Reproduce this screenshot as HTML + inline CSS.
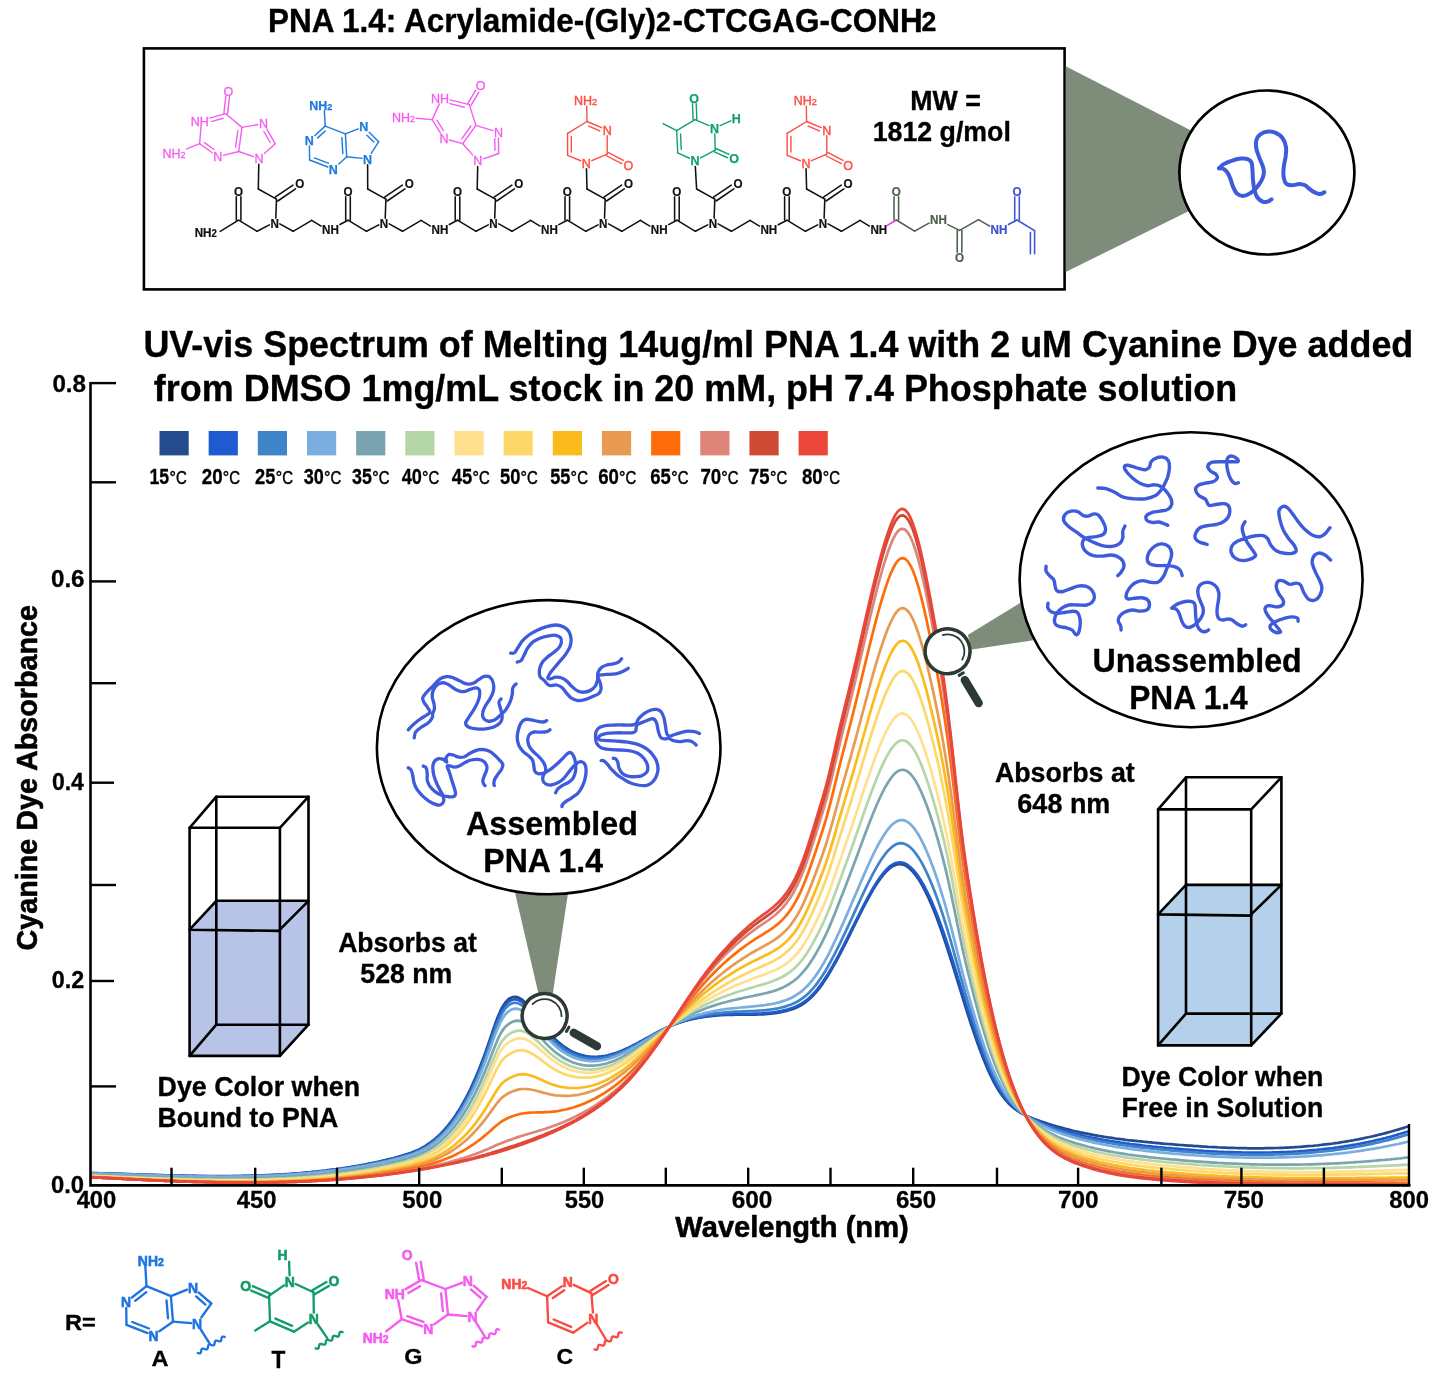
<!DOCTYPE html>
<html lang="en"><head><meta charset="utf-8"><title>PNA 1.4 UV-vis melting spectrum</title>
<style>
html,body{margin:0;padding:0;background:#fff;}
body{width:1440px;height:1380px;overflow:hidden;font-family:"Liberation Sans",Arial,Helvetica,sans-serif;}
svg{display:block;}
</style></head><body>
<svg width="1440" height="1380" viewBox="0 0 1440 1380" font-family='"Liberation Sans", Arial, Helvetica, sans-serif' font-weight="bold">
<rect width="1440" height="1380" fill="#fff"/>
<!-- structure box -->
<rect x="143.9" y="48.4" width="920.7" height="241.0" fill="#fff" stroke="#000" stroke-width="2.6"/>
<text x="267.95" y="31.50" font-size="32.79" font-weight="bold" textLength="388.08" lengthAdjust="spacingAndGlyphs" fill="#000" stroke="#000" stroke-width="0.35" stroke-linejoin="round">PNA 1.4: Acrylamide-(Gly)</text>
<text x="655.97" y="31.40" font-size="27.75" font-weight="bold" textLength="14.83" lengthAdjust="spacingAndGlyphs" fill="#000" stroke="#000" stroke-width="0.35" stroke-linejoin="round">2</text>
<text x="672.49" y="31.50" font-size="32.78" font-weight="bold" textLength="250.17" lengthAdjust="spacingAndGlyphs" fill="#000" stroke="#000" stroke-width="0.35" stroke-linejoin="round">-CTCGAG-CONH</text>
<text x="921.47" y="31.40" font-size="27.75" font-weight="bold" textLength="14.83" lengthAdjust="spacingAndGlyphs" fill="#000" stroke="#000" stroke-width="0.35" stroke-linejoin="round">2</text>
<text x="910.26" y="109.80" font-size="27.83" font-weight="bold" textLength="70.57" lengthAdjust="spacingAndGlyphs" fill="#000" stroke="#000" stroke-width="0.35" stroke-linejoin="round">MW =</text>
<text x="872.70" y="141.10" font-size="27.81" font-weight="bold" textLength="138.15" lengthAdjust="spacingAndGlyphs" fill="#000" stroke="#000" stroke-width="0.35" stroke-linejoin="round">1812 g/mol</text>
<text x="143.45" y="357.30" font-size="37.37" font-weight="bold" textLength="1269.87" lengthAdjust="spacingAndGlyphs" fill="#000" stroke="#000" stroke-width="0.35" stroke-linejoin="round">UV-vis Spectrum of Melting 14ug/ml PNA 1.4 with 2 uM Cyanine Dye added</text>
<text x="153.86" y="400.90" font-size="37.39" font-weight="bold" textLength="1083.41" lengthAdjust="spacingAndGlyphs" fill="#000" stroke="#000" stroke-width="0.35" stroke-linejoin="round">from DMSO 1mg/mL stock in 20 mM, pH 7.4 Phosphate solution</text>
<g font-family='"Liberation Sans", Arial, sans-serif'>
<line x1="220.20" y1="231.40" x2="238.60" y2="220.20" stroke="#111" stroke-width="1.55" stroke-linecap="round"/>
<line x1="236.30" y1="220.20" x2="236.30" y2="196.87" stroke="#111" stroke-width="1.55" stroke-linecap="round"/>
<line x1="240.90" y1="220.20" x2="240.90" y2="196.87" stroke="#111" stroke-width="1.55" stroke-linecap="round"/>
<line x1="238.60" y1="220.20" x2="257.10" y2="231.30" stroke="#111" stroke-width="1.55" stroke-linecap="round"/>
<line x1="257.10" y1="231.30" x2="269.39" y2="224.82" stroke="#111" stroke-width="1.55" stroke-linecap="round"/>
<line x1="275.82" y1="218.13" x2="276.50" y2="199.10" stroke="#111" stroke-width="1.55" stroke-linecap="round"/>
<line x1="275.20" y1="197.20" x2="292.97" y2="185.08" stroke="#111" stroke-width="1.55" stroke-linecap="round"/>
<line x1="277.80" y1="201.00" x2="295.56" y2="188.88" stroke="#111" stroke-width="1.55" stroke-linecap="round"/>
<line x1="276.50" y1="199.10" x2="258.30" y2="189.00" stroke="#111" stroke-width="1.55" stroke-linecap="round"/>
<line x1="279.81" y1="223.81" x2="293.10" y2="231.30" stroke="#111" stroke-width="1.55" stroke-linecap="round"/>
<line x1="293.10" y1="231.30" x2="311.70" y2="220.30" stroke="#111" stroke-width="1.55" stroke-linecap="round"/>
<line x1="311.70" y1="220.30" x2="321.09" y2="226.06" stroke="#111" stroke-width="1.55" stroke-linecap="round"/>
<line x1="339.91" y1="224.51" x2="348.00" y2="220.20" stroke="#111" stroke-width="1.55" stroke-linecap="round"/>
<line x1="345.70" y1="220.20" x2="345.70" y2="196.87" stroke="#111" stroke-width="1.55" stroke-linecap="round"/>
<line x1="350.30" y1="220.20" x2="350.30" y2="196.87" stroke="#111" stroke-width="1.55" stroke-linecap="round"/>
<line x1="348.00" y1="220.20" x2="366.50" y2="231.30" stroke="#111" stroke-width="1.55" stroke-linecap="round"/>
<line x1="366.50" y1="231.30" x2="378.79" y2="224.82" stroke="#111" stroke-width="1.55" stroke-linecap="round"/>
<line x1="385.22" y1="218.13" x2="385.90" y2="199.10" stroke="#111" stroke-width="1.55" stroke-linecap="round"/>
<line x1="384.60" y1="197.20" x2="402.37" y2="185.08" stroke="#111" stroke-width="1.55" stroke-linecap="round"/>
<line x1="387.20" y1="201.00" x2="404.96" y2="188.88" stroke="#111" stroke-width="1.55" stroke-linecap="round"/>
<line x1="385.90" y1="199.10" x2="367.70" y2="189.00" stroke="#111" stroke-width="1.55" stroke-linecap="round"/>
<line x1="389.21" y1="223.81" x2="402.50" y2="231.30" stroke="#111" stroke-width="1.55" stroke-linecap="round"/>
<line x1="402.50" y1="231.30" x2="421.10" y2="220.30" stroke="#111" stroke-width="1.55" stroke-linecap="round"/>
<line x1="421.10" y1="220.30" x2="430.49" y2="226.06" stroke="#111" stroke-width="1.55" stroke-linecap="round"/>
<line x1="449.31" y1="224.54" x2="457.50" y2="220.20" stroke="#111" stroke-width="1.55" stroke-linecap="round"/>
<line x1="455.20" y1="220.20" x2="455.20" y2="196.87" stroke="#111" stroke-width="1.55" stroke-linecap="round"/>
<line x1="459.80" y1="220.20" x2="459.80" y2="196.87" stroke="#111" stroke-width="1.55" stroke-linecap="round"/>
<line x1="457.50" y1="220.20" x2="476.00" y2="231.30" stroke="#111" stroke-width="1.55" stroke-linecap="round"/>
<line x1="476.00" y1="231.30" x2="488.29" y2="224.82" stroke="#111" stroke-width="1.55" stroke-linecap="round"/>
<line x1="494.72" y1="218.13" x2="495.40" y2="199.10" stroke="#111" stroke-width="1.55" stroke-linecap="round"/>
<line x1="494.10" y1="197.20" x2="511.87" y2="185.08" stroke="#111" stroke-width="1.55" stroke-linecap="round"/>
<line x1="496.70" y1="201.00" x2="514.46" y2="188.88" stroke="#111" stroke-width="1.55" stroke-linecap="round"/>
<line x1="495.40" y1="199.10" x2="477.20" y2="189.00" stroke="#111" stroke-width="1.55" stroke-linecap="round"/>
<line x1="498.71" y1="223.81" x2="512.00" y2="231.30" stroke="#111" stroke-width="1.55" stroke-linecap="round"/>
<line x1="512.00" y1="231.30" x2="530.60" y2="220.30" stroke="#111" stroke-width="1.55" stroke-linecap="round"/>
<line x1="530.60" y1="220.30" x2="539.99" y2="226.06" stroke="#111" stroke-width="1.55" stroke-linecap="round"/>
<line x1="558.81" y1="224.64" x2="567.30" y2="220.20" stroke="#111" stroke-width="1.55" stroke-linecap="round"/>
<line x1="565.00" y1="220.20" x2="565.00" y2="196.87" stroke="#111" stroke-width="1.55" stroke-linecap="round"/>
<line x1="569.60" y1="220.20" x2="569.60" y2="196.87" stroke="#111" stroke-width="1.55" stroke-linecap="round"/>
<line x1="567.30" y1="220.20" x2="585.80" y2="231.30" stroke="#111" stroke-width="1.55" stroke-linecap="round"/>
<line x1="585.80" y1="231.30" x2="598.09" y2="224.82" stroke="#111" stroke-width="1.55" stroke-linecap="round"/>
<line x1="604.52" y1="218.13" x2="605.20" y2="199.10" stroke="#111" stroke-width="1.55" stroke-linecap="round"/>
<line x1="603.90" y1="197.20" x2="621.67" y2="185.08" stroke="#111" stroke-width="1.55" stroke-linecap="round"/>
<line x1="606.50" y1="201.00" x2="624.26" y2="188.88" stroke="#111" stroke-width="1.55" stroke-linecap="round"/>
<line x1="605.20" y1="199.10" x2="587.00" y2="189.00" stroke="#111" stroke-width="1.55" stroke-linecap="round"/>
<line x1="608.51" y1="223.81" x2="621.80" y2="231.30" stroke="#111" stroke-width="1.55" stroke-linecap="round"/>
<line x1="621.80" y1="231.30" x2="640.40" y2="220.30" stroke="#111" stroke-width="1.55" stroke-linecap="round"/>
<line x1="640.40" y1="220.30" x2="649.79" y2="226.06" stroke="#111" stroke-width="1.55" stroke-linecap="round"/>
<line x1="668.61" y1="224.58" x2="676.90" y2="220.20" stroke="#111" stroke-width="1.55" stroke-linecap="round"/>
<line x1="674.60" y1="220.20" x2="674.60" y2="196.87" stroke="#111" stroke-width="1.55" stroke-linecap="round"/>
<line x1="679.20" y1="220.20" x2="679.20" y2="196.87" stroke="#111" stroke-width="1.55" stroke-linecap="round"/>
<line x1="676.90" y1="220.20" x2="695.40" y2="231.30" stroke="#111" stroke-width="1.55" stroke-linecap="round"/>
<line x1="695.40" y1="231.30" x2="707.69" y2="224.82" stroke="#111" stroke-width="1.55" stroke-linecap="round"/>
<line x1="714.12" y1="218.13" x2="714.80" y2="199.10" stroke="#111" stroke-width="1.55" stroke-linecap="round"/>
<line x1="713.50" y1="197.20" x2="731.27" y2="185.08" stroke="#111" stroke-width="1.55" stroke-linecap="round"/>
<line x1="716.10" y1="201.00" x2="733.86" y2="188.88" stroke="#111" stroke-width="1.55" stroke-linecap="round"/>
<line x1="714.80" y1="199.10" x2="696.60" y2="189.00" stroke="#111" stroke-width="1.55" stroke-linecap="round"/>
<line x1="718.11" y1="223.81" x2="731.40" y2="231.30" stroke="#111" stroke-width="1.55" stroke-linecap="round"/>
<line x1="731.40" y1="231.30" x2="750.00" y2="220.30" stroke="#111" stroke-width="1.55" stroke-linecap="round"/>
<line x1="750.00" y1="220.30" x2="759.39" y2="226.06" stroke="#111" stroke-width="1.55" stroke-linecap="round"/>
<line x1="778.21" y1="224.70" x2="786.90" y2="220.20" stroke="#111" stroke-width="1.55" stroke-linecap="round"/>
<line x1="784.60" y1="220.20" x2="784.60" y2="196.87" stroke="#111" stroke-width="1.55" stroke-linecap="round"/>
<line x1="789.20" y1="220.20" x2="789.20" y2="196.87" stroke="#111" stroke-width="1.55" stroke-linecap="round"/>
<line x1="786.90" y1="220.20" x2="805.40" y2="231.30" stroke="#111" stroke-width="1.55" stroke-linecap="round"/>
<line x1="805.40" y1="231.30" x2="817.69" y2="224.82" stroke="#111" stroke-width="1.55" stroke-linecap="round"/>
<line x1="824.12" y1="218.13" x2="824.80" y2="199.10" stroke="#111" stroke-width="1.55" stroke-linecap="round"/>
<line x1="823.50" y1="197.20" x2="841.27" y2="185.08" stroke="#111" stroke-width="1.55" stroke-linecap="round"/>
<line x1="826.10" y1="201.00" x2="843.86" y2="188.88" stroke="#111" stroke-width="1.55" stroke-linecap="round"/>
<line x1="824.80" y1="199.10" x2="806.60" y2="189.00" stroke="#111" stroke-width="1.55" stroke-linecap="round"/>
<line x1="828.11" y1="223.81" x2="841.40" y2="231.30" stroke="#111" stroke-width="1.55" stroke-linecap="round"/>
<line x1="841.40" y1="231.30" x2="860.00" y2="220.30" stroke="#111" stroke-width="1.55" stroke-linecap="round"/>
<line x1="860.00" y1="220.30" x2="869.39" y2="226.06" stroke="#111" stroke-width="1.55" stroke-linecap="round"/>
<text x="194.70" y="236.77" font-size="12.20" font-weight="bold" fill="#111" stroke="#111" stroke-width="0.20" textLength="22.20" lengthAdjust="spacingAndGlyphs">NH<tspan font-size="10.13">2</tspan></text>
<text x="234.07" y="195.87" font-size="12.20" font-weight="bold" fill="#111" stroke="#111" stroke-width="0.20" textLength="9.06" lengthAdjust="spacingAndGlyphs">O</text>
<text x="270.39" y="227.87" font-size="12.20" font-weight="bold" fill="#111" stroke="#111" stroke-width="0.20" textLength="8.41" lengthAdjust="spacingAndGlyphs">N</text>
<text x="295.27" y="187.57" font-size="12.20" font-weight="bold" fill="#111" stroke="#111" stroke-width="0.20" textLength="9.06" lengthAdjust="spacingAndGlyphs">O</text>
<text x="322.09" y="234.17" font-size="12.20" font-weight="bold" fill="#111" stroke="#111" stroke-width="0.20" textLength="16.82" lengthAdjust="spacingAndGlyphs">NH</text>
<text x="343.47" y="195.87" font-size="12.20" font-weight="bold" fill="#111" stroke="#111" stroke-width="0.20" textLength="9.06" lengthAdjust="spacingAndGlyphs">O</text>
<text x="379.79" y="227.87" font-size="12.20" font-weight="bold" fill="#111" stroke="#111" stroke-width="0.20" textLength="8.41" lengthAdjust="spacingAndGlyphs">N</text>
<text x="404.67" y="187.57" font-size="12.20" font-weight="bold" fill="#111" stroke="#111" stroke-width="0.20" textLength="9.06" lengthAdjust="spacingAndGlyphs">O</text>
<text x="431.49" y="234.17" font-size="12.20" font-weight="bold" fill="#111" stroke="#111" stroke-width="0.20" textLength="16.82" lengthAdjust="spacingAndGlyphs">NH</text>
<text x="452.97" y="195.87" font-size="12.20" font-weight="bold" fill="#111" stroke="#111" stroke-width="0.20" textLength="9.06" lengthAdjust="spacingAndGlyphs">O</text>
<text x="489.29" y="227.87" font-size="12.20" font-weight="bold" fill="#111" stroke="#111" stroke-width="0.20" textLength="8.41" lengthAdjust="spacingAndGlyphs">N</text>
<text x="514.17" y="187.57" font-size="12.20" font-weight="bold" fill="#111" stroke="#111" stroke-width="0.20" textLength="9.06" lengthAdjust="spacingAndGlyphs">O</text>
<text x="540.99" y="234.17" font-size="12.20" font-weight="bold" fill="#111" stroke="#111" stroke-width="0.20" textLength="16.82" lengthAdjust="spacingAndGlyphs">NH</text>
<text x="562.77" y="195.87" font-size="12.20" font-weight="bold" fill="#111" stroke="#111" stroke-width="0.20" textLength="9.06" lengthAdjust="spacingAndGlyphs">O</text>
<text x="599.09" y="227.87" font-size="12.20" font-weight="bold" fill="#111" stroke="#111" stroke-width="0.20" textLength="8.41" lengthAdjust="spacingAndGlyphs">N</text>
<text x="623.97" y="187.57" font-size="12.20" font-weight="bold" fill="#111" stroke="#111" stroke-width="0.20" textLength="9.06" lengthAdjust="spacingAndGlyphs">O</text>
<text x="650.79" y="234.17" font-size="12.20" font-weight="bold" fill="#111" stroke="#111" stroke-width="0.20" textLength="16.82" lengthAdjust="spacingAndGlyphs">NH</text>
<text x="672.37" y="195.87" font-size="12.20" font-weight="bold" fill="#111" stroke="#111" stroke-width="0.20" textLength="9.06" lengthAdjust="spacingAndGlyphs">O</text>
<text x="708.69" y="227.87" font-size="12.20" font-weight="bold" fill="#111" stroke="#111" stroke-width="0.20" textLength="8.41" lengthAdjust="spacingAndGlyphs">N</text>
<text x="733.57" y="187.57" font-size="12.20" font-weight="bold" fill="#111" stroke="#111" stroke-width="0.20" textLength="9.06" lengthAdjust="spacingAndGlyphs">O</text>
<text x="760.39" y="234.17" font-size="12.20" font-weight="bold" fill="#111" stroke="#111" stroke-width="0.20" textLength="16.82" lengthAdjust="spacingAndGlyphs">NH</text>
<text x="782.37" y="195.87" font-size="12.20" font-weight="bold" fill="#111" stroke="#111" stroke-width="0.20" textLength="9.06" lengthAdjust="spacingAndGlyphs">O</text>
<text x="818.69" y="227.87" font-size="12.20" font-weight="bold" fill="#111" stroke="#111" stroke-width="0.20" textLength="8.41" lengthAdjust="spacingAndGlyphs">N</text>
<text x="843.57" y="187.57" font-size="12.20" font-weight="bold" fill="#111" stroke="#111" stroke-width="0.20" textLength="9.06" lengthAdjust="spacingAndGlyphs">O</text>
<text x="870.39" y="234.17" font-size="12.20" font-weight="bold" fill="#111" stroke="#111" stroke-width="0.20" textLength="16.82" lengthAdjust="spacingAndGlyphs">NH</text>
<line x1="886.50" y1="225.80" x2="896.30" y2="220.00" stroke="#e23ad8" stroke-width="1.50" stroke-linecap="round"/>
<line x1="894.00" y1="220.00" x2="894.00" y2="196.87" stroke="#4b5f49" stroke-width="1.55" stroke-linecap="round"/>
<line x1="898.60" y1="220.00" x2="898.60" y2="196.87" stroke="#4b5f49" stroke-width="1.55" stroke-linecap="round"/>
<line x1="896.30" y1="220.00" x2="914.60" y2="231.10" stroke="#4b5f49" stroke-width="1.55" stroke-linecap="round"/>
<line x1="914.60" y1="231.10" x2="928.99" y2="223.15" stroke="#4b5f49" stroke-width="1.55" stroke-linecap="round"/>
<line x1="947.81" y1="224.58" x2="959.60" y2="230.40" stroke="#4b5f49" stroke-width="1.55" stroke-linecap="round"/>
<line x1="961.90" y1="230.41" x2="961.82" y2="252.24" stroke="#4b5f49" stroke-width="1.55" stroke-linecap="round"/>
<line x1="957.30" y1="230.39" x2="957.22" y2="252.22" stroke="#4b5f49" stroke-width="1.55" stroke-linecap="round"/>
<line x1="959.60" y1="230.40" x2="978.50" y2="219.70" stroke="#4b5f49" stroke-width="1.55" stroke-linecap="round"/>
<text x="891.77" y="195.87" font-size="12.20" font-weight="bold" fill="#4b5f49" stroke="#4b5f49" stroke-width="0.20" textLength="9.06" lengthAdjust="spacingAndGlyphs">O</text>
<text x="929.99" y="224.07" font-size="12.20" font-weight="bold" fill="#4b5f49" stroke="#4b5f49" stroke-width="0.20" textLength="16.82" lengthAdjust="spacingAndGlyphs">NH</text>
<text x="954.97" y="261.97" font-size="12.20" font-weight="bold" fill="#4b5f49" stroke="#4b5f49" stroke-width="0.20" textLength="9.06" lengthAdjust="spacingAndGlyphs">O</text>
<line x1="1008.41" y1="224.51" x2="1017.00" y2="220.00" stroke="#3a52d6" stroke-width="1.55" stroke-linecap="round"/>
<line x1="1014.70" y1="220.00" x2="1014.70" y2="196.87" stroke="#3a52d6" stroke-width="1.55" stroke-linecap="round"/>
<line x1="1019.30" y1="220.00" x2="1019.30" y2="196.87" stroke="#3a52d6" stroke-width="1.55" stroke-linecap="round"/>
<line x1="1017.00" y1="220.00" x2="1034.60" y2="230.70" stroke="#3a52d6" stroke-width="1.55" stroke-linecap="round"/>
<line x1="1034.60" y1="230.70" x2="1034.60" y2="253.80" stroke="#3a52d6" stroke-width="1.55" stroke-linecap="round"/>
<line x1="1030.40" y1="232.50" x2="1030.40" y2="253.80" stroke="#3a52d6" stroke-width="1.55" stroke-linecap="round"/>
<text x="990.59" y="234.17" font-size="12.20" font-weight="bold" fill="#3a52d6" stroke="#3a52d6" stroke-width="0.20" textLength="16.82" lengthAdjust="spacingAndGlyphs">NH</text>
<text x="1012.47" y="195.87" font-size="12.20" font-weight="bold" fill="#3a52d6" stroke="#3a52d6" stroke-width="0.20" textLength="9.06" lengthAdjust="spacingAndGlyphs">O</text>
<line x1="978.50" y1="219.70" x2="989.59" y2="226.17" stroke="#4b5f49" stroke-width="1.55" stroke-linecap="round"/>
<line x1="258.30" y1="189.00" x2="258.79" y2="164.29" stroke="#111" stroke-width="1.55" stroke-linecap="round"/>
<line x1="264.42" y1="153.56" x2="275.20" y2="143.70" stroke="#f45cf0" stroke-width="1.40" stroke-linecap="round"/>
<line x1="275.20" y1="143.70" x2="266.80" y2="129.19" stroke="#f45cf0" stroke-width="1.40" stroke-linecap="round"/>
<line x1="270.24" y1="142.52" x2="263.84" y2="131.48" stroke="#f45cf0" stroke-width="1.40" stroke-linecap="round"/>
<line x1="257.98" y1="124.50" x2="242.00" y2="127.40" stroke="#f45cf0" stroke-width="1.40" stroke-linecap="round"/>
<line x1="242.00" y1="127.40" x2="238.70" y2="151.50" stroke="#f45cf0" stroke-width="1.40" stroke-linecap="round"/>
<line x1="237.84" y1="130.51" x2="235.53" y2="147.38" stroke="#f45cf0" stroke-width="1.40" stroke-linecap="round"/>
<line x1="238.70" y1="151.50" x2="253.38" y2="156.66" stroke="#f45cf0" stroke-width="1.40" stroke-linecap="round"/>
<line x1="242.00" y1="127.40" x2="225.70" y2="113.70" stroke="#f45cf0" stroke-width="1.40" stroke-linecap="round"/>
<line x1="223.86" y1="113.49" x2="225.81" y2="96.38" stroke="#f45cf0" stroke-width="1.40" stroke-linecap="round"/>
<line x1="227.54" y1="113.91" x2="229.49" y2="96.80" stroke="#f45cf0" stroke-width="1.40" stroke-linecap="round"/>
<line x1="225.70" y1="113.70" x2="209.83" y2="118.16" stroke="#f45cf0" stroke-width="1.40" stroke-linecap="round"/>
<line x1="223.07" y1="118.28" x2="211.31" y2="121.59" stroke="#f45cf0" stroke-width="1.40" stroke-linecap="round"/>
<line x1="200.99" y1="126.69" x2="199.60" y2="143.70" stroke="#f45cf0" stroke-width="1.40" stroke-linecap="round"/>
<line x1="199.60" y1="143.70" x2="186.64" y2="148.97" stroke="#f45cf0" stroke-width="1.40" stroke-linecap="round"/>
<line x1="199.60" y1="143.70" x2="212.28" y2="152.76" stroke="#f45cf0" stroke-width="1.40" stroke-linecap="round"/>
<line x1="204.48" y1="142.64" x2="214.03" y2="149.46" stroke="#f45cf0" stroke-width="1.40" stroke-linecap="round"/>
<line x1="223.32" y1="155.33" x2="238.70" y2="151.50" stroke="#f45cf0" stroke-width="1.40" stroke-linecap="round"/>
<text x="254.38" y="163.29" font-size="13.10" font-weight="normal" fill="#f45cf0" stroke="#f45cf0" stroke-width="0.35" textLength="9.03" lengthAdjust="spacingAndGlyphs">N</text>
<text x="258.98" y="128.19" font-size="13.10" font-weight="normal" fill="#f45cf0" stroke="#f45cf0" stroke-width="0.35" textLength="9.03" lengthAdjust="spacingAndGlyphs">N</text>
<text x="223.43" y="95.59" font-size="13.10" font-weight="normal" fill="#f45cf0" stroke="#f45cf0" stroke-width="0.35" textLength="9.73" lengthAdjust="spacingAndGlyphs">O</text>
<text x="190.77" y="125.69" font-size="13.10" font-weight="normal" fill="#f45cf0" stroke="#f45cf0" stroke-width="0.35" textLength="18.07" lengthAdjust="spacingAndGlyphs">NH</text>
<text x="162.56" y="158.19" font-size="13.10" font-weight="normal" fill="#f45cf0" stroke="#f45cf0" stroke-width="0.35" textLength="23.07" lengthAdjust="spacingAndGlyphs">NH<tspan font-size="9.43">2</tspan></text>
<text x="213.28" y="161.39" font-size="13.10" font-weight="normal" fill="#f45cf0" stroke="#f45cf0" stroke-width="0.35" textLength="9.03" lengthAdjust="spacingAndGlyphs">N</text>
<line x1="367.70" y1="189.00" x2="367.62" y2="164.69" stroke="#111" stroke-width="1.55" stroke-linecap="round"/>
<line x1="371.25" y1="153.31" x2="378.70" y2="141.70" stroke="#1f7ae0" stroke-width="1.45" stroke-linecap="round"/>
<line x1="378.70" y1="141.70" x2="369.22" y2="132.22" stroke="#1f7ae0" stroke-width="1.45" stroke-linecap="round"/>
<line x1="373.83" y1="142.07" x2="366.95" y2="135.19" stroke="#1f7ae0" stroke-width="1.45" stroke-linecap="round"/>
<line x1="358.18" y1="128.87" x2="345.40" y2="133.90" stroke="#1f7ae0" stroke-width="1.45" stroke-linecap="round"/>
<line x1="345.40" y1="133.90" x2="346.70" y2="156.70" stroke="#1f7ae0" stroke-width="1.45" stroke-linecap="round"/>
<line x1="341.90" y1="137.53" x2="342.81" y2="153.49" stroke="#1f7ae0" stroke-width="1.45" stroke-linecap="round"/>
<line x1="346.70" y1="156.70" x2="362.08" y2="158.39" stroke="#1f7ae0" stroke-width="1.45" stroke-linecap="round"/>
<line x1="345.40" y1="133.90" x2="325.20" y2="126.10" stroke="#1f7ae0" stroke-width="1.45" stroke-linecap="round"/>
<line x1="325.20" y1="126.10" x2="324.32" y2="110.69" stroke="#1f7ae0" stroke-width="1.45" stroke-linecap="round"/>
<line x1="325.20" y1="126.10" x2="314.82" y2="135.44" stroke="#1f7ae0" stroke-width="1.45" stroke-linecap="round"/>
<line x1="325.29" y1="131.00" x2="317.66" y2="137.86" stroke="#1f7ae0" stroke-width="1.45" stroke-linecap="round"/>
<line x1="309.39" y1="146.09" x2="309.60" y2="160.00" stroke="#1f7ae0" stroke-width="1.45" stroke-linecap="round"/>
<line x1="309.60" y1="160.00" x2="327.78" y2="166.98" stroke="#1f7ae0" stroke-width="1.45" stroke-linecap="round"/>
<line x1="314.48" y1="157.91" x2="328.64" y2="163.35" stroke="#1f7ae0" stroke-width="1.45" stroke-linecap="round"/>
<line x1="338.82" y1="164.00" x2="346.70" y2="156.70" stroke="#1f7ae0" stroke-width="1.45" stroke-linecap="round"/>
<text x="363.08" y="163.69" font-size="13.10" font-weight="bold" fill="#1f7ae0" stroke="#1f7ae0" stroke-width="0.25" textLength="9.03" lengthAdjust="spacingAndGlyphs">N</text>
<text x="359.18" y="131.39" font-size="13.10" font-weight="bold" fill="#1f7ae0" stroke="#1f7ae0" stroke-width="0.25" textLength="9.03" lengthAdjust="spacingAndGlyphs">N</text>
<text x="309.16" y="109.69" font-size="13.10" font-weight="bold" fill="#1f7ae0" stroke="#1f7ae0" stroke-width="0.25" textLength="23.07" lengthAdjust="spacingAndGlyphs">NH<tspan font-size="9.43">2</tspan></text>
<text x="304.78" y="145.09" font-size="13.10" font-weight="bold" fill="#1f7ae0" stroke="#1f7ae0" stroke-width="0.25" textLength="9.03" lengthAdjust="spacingAndGlyphs">N</text>
<text x="328.78" y="173.79" font-size="13.10" font-weight="bold" fill="#1f7ae0" stroke="#1f7ae0" stroke-width="0.25" textLength="9.03" lengthAdjust="spacingAndGlyphs">N</text>
<line x1="477.20" y1="189.00" x2="477.68" y2="166.49" stroke="#111" stroke-width="1.55" stroke-linecap="round"/>
<line x1="483.32" y1="158.87" x2="498.70" y2="153.50" stroke="#f45cf0" stroke-width="1.40" stroke-linecap="round"/>
<line x1="498.70" y1="153.50" x2="498.48" y2="137.99" stroke="#f45cf0" stroke-width="1.40" stroke-linecap="round"/>
<line x1="494.96" y1="150.37" x2="494.79" y2="138.54" stroke="#f45cf0" stroke-width="1.40" stroke-linecap="round"/>
<line x1="492.88" y1="130.61" x2="475.90" y2="125.40" stroke="#f45cf0" stroke-width="1.40" stroke-linecap="round"/>
<line x1="475.90" y1="125.40" x2="462.80" y2="143.70" stroke="#f45cf0" stroke-width="1.40" stroke-linecap="round"/>
<line x1="470.93" y1="125.99" x2="461.76" y2="138.80" stroke="#f45cf0" stroke-width="1.40" stroke-linecap="round"/>
<line x1="462.80" y1="143.70" x2="472.81" y2="155.11" stroke="#f45cf0" stroke-width="1.40" stroke-linecap="round"/>
<line x1="475.90" y1="125.40" x2="469.30" y2="104.60" stroke="#f45cf0" stroke-width="1.40" stroke-linecap="round"/>
<line x1="467.71" y1="103.66" x2="475.73" y2="90.15" stroke="#f45cf0" stroke-width="1.40" stroke-linecap="round"/>
<line x1="470.89" y1="105.54" x2="478.91" y2="92.03" stroke="#f45cf0" stroke-width="1.40" stroke-linecap="round"/>
<line x1="469.30" y1="104.60" x2="450.03" y2="99.94" stroke="#f45cf0" stroke-width="1.40" stroke-linecap="round"/>
<line x1="464.34" y1="107.21" x2="449.65" y2="103.66" stroke="#f45cf0" stroke-width="1.40" stroke-linecap="round"/>
<line x1="439.33" y1="103.89" x2="432.20" y2="119.60" stroke="#f45cf0" stroke-width="1.40" stroke-linecap="round"/>
<line x1="432.20" y1="119.60" x2="416.04" y2="118.27" stroke="#f45cf0" stroke-width="1.40" stroke-linecap="round"/>
<line x1="432.20" y1="119.60" x2="440.38" y2="132.81" stroke="#f45cf0" stroke-width="1.40" stroke-linecap="round"/>
<line x1="437.10" y1="120.49" x2="443.26" y2="130.44" stroke="#f45cf0" stroke-width="1.40" stroke-linecap="round"/>
<line x1="449.42" y1="140.02" x2="462.80" y2="143.70" stroke="#f45cf0" stroke-width="1.40" stroke-linecap="round"/>
<text x="473.28" y="165.49" font-size="13.10" font-weight="normal" fill="#f45cf0" stroke="#f45cf0" stroke-width="0.35" textLength="9.03" lengthAdjust="spacingAndGlyphs">N</text>
<text x="493.88" y="136.99" font-size="13.10" font-weight="normal" fill="#f45cf0" stroke="#f45cf0" stroke-width="0.35" textLength="9.03" lengthAdjust="spacingAndGlyphs">N</text>
<text x="475.83" y="90.09" font-size="13.10" font-weight="normal" fill="#f45cf0" stroke="#f45cf0" stroke-width="0.35" textLength="9.73" lengthAdjust="spacingAndGlyphs">O</text>
<text x="430.97" y="102.89" font-size="13.10" font-weight="normal" fill="#f45cf0" stroke="#f45cf0" stroke-width="0.35" textLength="18.07" lengthAdjust="spacingAndGlyphs">NH</text>
<text x="391.96" y="121.99" font-size="13.10" font-weight="normal" fill="#f45cf0" stroke="#f45cf0" stroke-width="0.35" textLength="23.07" lengthAdjust="spacingAndGlyphs">NH<tspan font-size="9.43">2</tspan></text>
<text x="439.38" y="143.19" font-size="13.10" font-weight="normal" fill="#f45cf0" stroke="#f45cf0" stroke-width="0.35" textLength="9.03" lengthAdjust="spacingAndGlyphs">N</text>
<line x1="587.00" y1="189.00" x2="586.45" y2="168.69" stroke="#111" stroke-width="1.55" stroke-linecap="round"/>
<line x1="591.82" y1="160.65" x2="607.20" y2="154.10" stroke="#ff4d43" stroke-width="1.40" stroke-linecap="round"/>
<line x1="608.05" y1="152.45" x2="623.38" y2="160.34" stroke="#ff4d43" stroke-width="1.40" stroke-linecap="round"/>
<line x1="606.35" y1="155.75" x2="621.69" y2="163.63" stroke="#ff4d43" stroke-width="1.40" stroke-linecap="round"/>
<line x1="607.20" y1="154.10" x2="607.20" y2="135.69" stroke="#ff4d43" stroke-width="1.40" stroke-linecap="round"/>
<line x1="601.68" y1="127.68" x2="587.00" y2="121.50" stroke="#ff4d43" stroke-width="1.40" stroke-linecap="round"/>
<line x1="599.79" y1="130.90" x2="588.59" y2="126.19" stroke="#ff4d43" stroke-width="1.40" stroke-linecap="round"/>
<line x1="587.00" y1="121.50" x2="586.71" y2="106.29" stroke="#ff4d43" stroke-width="1.40" stroke-linecap="round"/>
<line x1="587.00" y1="121.50" x2="567.60" y2="133.30" stroke="#ff4d43" stroke-width="1.40" stroke-linecap="round"/>
<line x1="567.60" y1="133.30" x2="567.60" y2="155.40" stroke="#ff4d43" stroke-width="1.40" stroke-linecap="round"/>
<line x1="571.30" y1="136.62" x2="571.30" y2="152.09" stroke="#ff4d43" stroke-width="1.40" stroke-linecap="round"/>
<line x1="567.60" y1="155.40" x2="580.78" y2="160.76" stroke="#ff4d43" stroke-width="1.40" stroke-linecap="round"/>
<text x="581.78" y="167.69" font-size="13.10" font-weight="normal" fill="#ff4d43" stroke="#ff4d43" stroke-width="0.45" textLength="9.03" lengthAdjust="spacingAndGlyphs">N</text>
<text x="623.53" y="169.69" font-size="13.10" font-weight="normal" fill="#ff4d43" stroke="#ff4d43" stroke-width="0.45" textLength="9.73" lengthAdjust="spacingAndGlyphs">O</text>
<text x="602.68" y="134.69" font-size="13.10" font-weight="normal" fill="#ff4d43" stroke="#ff4d43" stroke-width="0.45" textLength="9.03" lengthAdjust="spacingAndGlyphs">N</text>
<text x="574.06" y="105.29" font-size="13.10" font-weight="normal" fill="#ff4d43" stroke="#ff4d43" stroke-width="0.45" textLength="23.07" lengthAdjust="spacingAndGlyphs">NH<tspan font-size="9.43">2</tspan></text>
<line x1="696.60" y1="189.00" x2="695.32" y2="166.49" stroke="#111" stroke-width="1.55" stroke-linecap="round"/>
<line x1="700.52" y1="157.91" x2="715.20" y2="150.20" stroke="#12a06c" stroke-width="1.40" stroke-linecap="round"/>
<line x1="715.96" y1="148.51" x2="728.99" y2="154.37" stroke="#12a06c" stroke-width="1.40" stroke-linecap="round"/>
<line x1="714.44" y1="151.89" x2="727.47" y2="157.75" stroke="#12a06c" stroke-width="1.40" stroke-linecap="round"/>
<line x1="715.20" y1="150.20" x2="714.75" y2="133.69" stroke="#12a06c" stroke-width="1.40" stroke-linecap="round"/>
<line x1="720.12" y1="125.53" x2="730.78" y2="120.77" stroke="#12a06c" stroke-width="1.40" stroke-linecap="round"/>
<line x1="709.08" y1="125.64" x2="695.00" y2="119.60" stroke="#12a06c" stroke-width="1.40" stroke-linecap="round"/>
<line x1="693.15" y1="119.68" x2="692.49" y2="103.77" stroke="#12a06c" stroke-width="1.40" stroke-linecap="round"/>
<line x1="696.85" y1="119.52" x2="696.19" y2="103.61" stroke="#12a06c" stroke-width="1.40" stroke-linecap="round"/>
<line x1="695.00" y1="119.60" x2="676.70" y2="130.70" stroke="#12a06c" stroke-width="1.40" stroke-linecap="round"/>
<line x1="676.70" y1="130.70" x2="663.00" y2="123.70" stroke="#12a06c" stroke-width="1.40" stroke-linecap="round"/>
<line x1="676.70" y1="130.70" x2="677.70" y2="152.80" stroke="#12a06c" stroke-width="1.40" stroke-linecap="round"/>
<line x1="680.55" y1="133.85" x2="681.25" y2="149.32" stroke="#12a06c" stroke-width="1.40" stroke-linecap="round"/>
<line x1="677.70" y1="152.80" x2="689.48" y2="158.25" stroke="#12a06c" stroke-width="1.40" stroke-linecap="round"/>
<text x="690.48" y="165.49" font-size="13.10" font-weight="bold" fill="#12a06c" stroke="#12a06c" stroke-width="0.25" textLength="9.03" lengthAdjust="spacingAndGlyphs">N</text>
<text x="729.23" y="163.39" font-size="13.10" font-weight="bold" fill="#12a06c" stroke="#12a06c" stroke-width="0.25" textLength="9.73" lengthAdjust="spacingAndGlyphs">O</text>
<text x="710.08" y="132.69" font-size="13.10" font-weight="bold" fill="#12a06c" stroke="#12a06c" stroke-width="0.25" textLength="9.03" lengthAdjust="spacingAndGlyphs">N</text>
<text x="731.78" y="122.99" font-size="13.10" font-weight="bold" fill="#12a06c" stroke="#12a06c" stroke-width="0.25" textLength="9.03" lengthAdjust="spacingAndGlyphs">H</text>
<text x="689.23" y="102.69" font-size="13.10" font-weight="bold" fill="#12a06c" stroke="#12a06c" stroke-width="0.25" textLength="9.73" lengthAdjust="spacingAndGlyphs">O</text>
<line x1="806.60" y1="189.00" x2="806.05" y2="168.69" stroke="#111" stroke-width="1.55" stroke-linecap="round"/>
<line x1="811.42" y1="160.65" x2="826.80" y2="154.10" stroke="#ff4d43" stroke-width="1.40" stroke-linecap="round"/>
<line x1="827.65" y1="152.45" x2="842.98" y2="160.34" stroke="#ff4d43" stroke-width="1.40" stroke-linecap="round"/>
<line x1="825.95" y1="155.75" x2="841.29" y2="163.63" stroke="#ff4d43" stroke-width="1.40" stroke-linecap="round"/>
<line x1="826.80" y1="154.10" x2="826.80" y2="135.69" stroke="#ff4d43" stroke-width="1.40" stroke-linecap="round"/>
<line x1="821.28" y1="127.68" x2="806.60" y2="121.50" stroke="#ff4d43" stroke-width="1.40" stroke-linecap="round"/>
<line x1="819.39" y1="130.90" x2="808.19" y2="126.19" stroke="#ff4d43" stroke-width="1.40" stroke-linecap="round"/>
<line x1="806.60" y1="121.50" x2="806.31" y2="106.29" stroke="#ff4d43" stroke-width="1.40" stroke-linecap="round"/>
<line x1="806.60" y1="121.50" x2="787.20" y2="133.30" stroke="#ff4d43" stroke-width="1.40" stroke-linecap="round"/>
<line x1="787.20" y1="133.30" x2="787.20" y2="155.40" stroke="#ff4d43" stroke-width="1.40" stroke-linecap="round"/>
<line x1="790.90" y1="136.62" x2="790.90" y2="152.09" stroke="#ff4d43" stroke-width="1.40" stroke-linecap="round"/>
<line x1="787.20" y1="155.40" x2="800.38" y2="160.76" stroke="#ff4d43" stroke-width="1.40" stroke-linecap="round"/>
<text x="801.38" y="167.69" font-size="13.10" font-weight="normal" fill="#ff4d43" stroke="#ff4d43" stroke-width="0.45" textLength="9.03" lengthAdjust="spacingAndGlyphs">N</text>
<text x="843.13" y="169.69" font-size="13.10" font-weight="normal" fill="#ff4d43" stroke="#ff4d43" stroke-width="0.45" textLength="9.73" lengthAdjust="spacingAndGlyphs">O</text>
<text x="822.28" y="134.69" font-size="13.10" font-weight="normal" fill="#ff4d43" stroke="#ff4d43" stroke-width="0.45" textLength="9.03" lengthAdjust="spacingAndGlyphs">N</text>
<text x="793.66" y="105.29" font-size="13.10" font-weight="normal" fill="#ff4d43" stroke="#ff4d43" stroke-width="0.45" textLength="23.07" lengthAdjust="spacingAndGlyphs">NH<tspan font-size="9.43">2</tspan></text>
</g>
<!-- chart -->
<rect x="159.50" y="431.0" width="29.2" height="24.4" fill="#244b8c"/>
<text x="149.44" y="484.00" font-size="21.37" font-weight="bold" textLength="19.70" lengthAdjust="spacingAndGlyphs" fill="#000" stroke="#000" stroke-width="0.3">15</text>
<text x="169.45" y="482.70" font-size="16.00" font-weight="normal" text-anchor="start" fill="#000" stroke="#000" stroke-width="0.45">°</text>
<text x="176.00" y="483.90" font-size="18.46" font-weight="normal" textLength="10.80" lengthAdjust="spacingAndGlyphs" fill="#000" stroke="#000" stroke-width="0.45">C</text>
<rect x="208.66" y="431.0" width="29.2" height="24.4" fill="#1f5bd0"/>
<text x="201.84" y="484.00" font-size="21.37" font-weight="bold" textLength="20.85" lengthAdjust="spacingAndGlyphs" fill="#000" stroke="#000" stroke-width="0.3">20</text>
<text x="222.70" y="482.70" font-size="16.00" font-weight="normal" text-anchor="start" fill="#000" stroke="#000" stroke-width="0.45">°</text>
<text x="229.25" y="483.90" font-size="18.46" font-weight="normal" textLength="10.80" lengthAdjust="spacingAndGlyphs" fill="#000" stroke="#000" stroke-width="0.45">C</text>
<rect x="257.82" y="431.0" width="29.2" height="24.4" fill="#3f83c8"/>
<text x="255.11" y="484.00" font-size="21.37" font-weight="bold" textLength="20.29" lengthAdjust="spacingAndGlyphs" fill="#000" stroke="#000" stroke-width="0.3">25</text>
<text x="275.70" y="482.70" font-size="16.00" font-weight="normal" text-anchor="start" fill="#000" stroke="#000" stroke-width="0.45">°</text>
<text x="282.25" y="483.90" font-size="18.46" font-weight="normal" textLength="10.80" lengthAdjust="spacingAndGlyphs" fill="#000" stroke="#000" stroke-width="0.45">C</text>
<rect x="306.98" y="431.0" width="29.2" height="24.4" fill="#7aaee0"/>
<text x="303.80" y="484.00" font-size="21.37" font-weight="bold" textLength="20.12" lengthAdjust="spacingAndGlyphs" fill="#000" stroke="#000" stroke-width="0.3">30</text>
<text x="323.95" y="482.70" font-size="16.00" font-weight="normal" text-anchor="start" fill="#000" stroke="#000" stroke-width="0.45">°</text>
<text x="330.50" y="483.90" font-size="18.46" font-weight="normal" textLength="10.80" lengthAdjust="spacingAndGlyphs" fill="#000" stroke="#000" stroke-width="0.45">C</text>
<rect x="356.14" y="431.0" width="29.2" height="24.4" fill="#7aa5b0"/>
<text x="352.05" y="484.00" font-size="21.37" font-weight="bold" textLength="19.83" lengthAdjust="spacingAndGlyphs" fill="#000" stroke="#000" stroke-width="0.3">35</text>
<text x="372.20" y="482.70" font-size="16.00" font-weight="normal" text-anchor="start" fill="#000" stroke="#000" stroke-width="0.45">°</text>
<text x="378.75" y="483.90" font-size="18.46" font-weight="normal" textLength="10.80" lengthAdjust="spacingAndGlyphs" fill="#000" stroke="#000" stroke-width="0.45">C</text>
<rect x="405.30" y="431.0" width="29.2" height="24.4" fill="#b5d6a7"/>
<text x="401.73" y="484.00" font-size="21.37" font-weight="bold" textLength="20.19" lengthAdjust="spacingAndGlyphs" fill="#000" stroke="#000" stroke-width="0.3">40</text>
<text x="421.95" y="482.70" font-size="16.00" font-weight="normal" text-anchor="start" fill="#000" stroke="#000" stroke-width="0.45">°</text>
<text x="428.50" y="483.90" font-size="18.46" font-weight="normal" textLength="10.80" lengthAdjust="spacingAndGlyphs" fill="#000" stroke="#000" stroke-width="0.45">C</text>
<rect x="454.46" y="431.0" width="29.2" height="24.4" fill="#fee08f"/>
<text x="451.72" y="484.00" font-size="21.37" font-weight="bold" textLength="20.43" lengthAdjust="spacingAndGlyphs" fill="#000" stroke="#000" stroke-width="0.3">45</text>
<text x="472.45" y="482.70" font-size="16.00" font-weight="normal" text-anchor="start" fill="#000" stroke="#000" stroke-width="0.45">°</text>
<text x="479.00" y="483.90" font-size="18.46" font-weight="normal" textLength="10.80" lengthAdjust="spacingAndGlyphs" fill="#000" stroke="#000" stroke-width="0.45">C</text>
<rect x="503.62" y="431.0" width="29.2" height="24.4" fill="#fdd869"/>
<text x="500.05" y="484.00" font-size="21.37" font-weight="bold" textLength="20.43" lengthAdjust="spacingAndGlyphs" fill="#000" stroke="#000" stroke-width="0.3">50</text>
<text x="520.50" y="482.70" font-size="16.00" font-weight="normal" text-anchor="start" fill="#000" stroke="#000" stroke-width="0.45">°</text>
<text x="527.05" y="483.90" font-size="18.46" font-weight="normal" textLength="10.80" lengthAdjust="spacingAndGlyphs" fill="#000" stroke="#000" stroke-width="0.45">C</text>
<rect x="552.78" y="431.0" width="29.2" height="24.4" fill="#fbbb1c"/>
<text x="550.16" y="484.00" font-size="21.37" font-weight="bold" textLength="20.14" lengthAdjust="spacingAndGlyphs" fill="#000" stroke="#000" stroke-width="0.3">55</text>
<text x="570.60" y="482.70" font-size="16.00" font-weight="normal" text-anchor="start" fill="#000" stroke="#000" stroke-width="0.45">°</text>
<text x="577.15" y="483.90" font-size="18.46" font-weight="normal" textLength="10.80" lengthAdjust="spacingAndGlyphs" fill="#000" stroke="#000" stroke-width="0.45">C</text>
<rect x="601.94" y="431.0" width="29.2" height="24.4" fill="#e89a52"/>
<text x="598.15" y="484.00" font-size="21.37" font-weight="bold" textLength="20.74" lengthAdjust="spacingAndGlyphs" fill="#000" stroke="#000" stroke-width="0.3">60</text>
<text x="618.90" y="482.70" font-size="16.00" font-weight="normal" text-anchor="start" fill="#000" stroke="#000" stroke-width="0.45">°</text>
<text x="625.45" y="483.90" font-size="18.46" font-weight="normal" textLength="10.80" lengthAdjust="spacingAndGlyphs" fill="#000" stroke="#000" stroke-width="0.45">C</text>
<rect x="651.10" y="431.0" width="29.2" height="24.4" fill="#ff6d0a"/>
<text x="650.35" y="484.00" font-size="21.37" font-weight="bold" textLength="20.55" lengthAdjust="spacingAndGlyphs" fill="#000" stroke="#000" stroke-width="0.3">65</text>
<text x="671.20" y="482.70" font-size="16.00" font-weight="normal" text-anchor="start" fill="#000" stroke="#000" stroke-width="0.45">°</text>
<text x="677.75" y="483.90" font-size="18.46" font-weight="normal" textLength="10.80" lengthAdjust="spacingAndGlyphs" fill="#000" stroke="#000" stroke-width="0.45">C</text>
<rect x="700.26" y="431.0" width="29.2" height="24.4" fill="#df8478"/>
<text x="700.45" y="484.00" font-size="21.37" font-weight="bold" textLength="20.84" lengthAdjust="spacingAndGlyphs" fill="#000" stroke="#000" stroke-width="0.3">70</text>
<text x="721.30" y="482.70" font-size="16.00" font-weight="normal" text-anchor="start" fill="#000" stroke="#000" stroke-width="0.45">°</text>
<text x="727.85" y="483.90" font-size="18.46" font-weight="normal" textLength="10.80" lengthAdjust="spacingAndGlyphs" fill="#000" stroke="#000" stroke-width="0.45">C</text>
<rect x="749.42" y="431.0" width="29.2" height="24.4" fill="#cf4a34"/>
<text x="748.96" y="484.00" font-size="21.37" font-weight="bold" textLength="20.65" lengthAdjust="spacingAndGlyphs" fill="#000" stroke="#000" stroke-width="0.3">75</text>
<text x="769.90" y="482.70" font-size="16.00" font-weight="normal" text-anchor="start" fill="#000" stroke="#000" stroke-width="0.45">°</text>
<text x="776.45" y="483.90" font-size="18.46" font-weight="normal" textLength="10.80" lengthAdjust="spacingAndGlyphs" fill="#000" stroke="#000" stroke-width="0.45">C</text>
<rect x="798.58" y="431.0" width="29.2" height="24.4" fill="#ea4639"/>
<text x="801.94" y="484.00" font-size="21.37" font-weight="bold" textLength="20.75" lengthAdjust="spacingAndGlyphs" fill="#000" stroke="#000" stroke-width="0.3">80</text>
<text x="822.70" y="482.70" font-size="16.00" font-weight="normal" text-anchor="start" fill="#000" stroke="#000" stroke-width="0.45">°</text>
<text x="829.25" y="483.90" font-size="18.46" font-weight="normal" textLength="10.80" lengthAdjust="spacingAndGlyphs" fill="#000" stroke="#000" stroke-width="0.45">C</text>
<g id="curves"><path d="M90.5 1173 93 1173.1 95.5 1173.2 98 1173.2 100.5 1173.3 103 1173.4 105.5 1173.5 108 1173.5 110.5 1173.6 113 1173.7 115.5 1173.8 118 1173.8 120.5 1173.9 123 1174 125.5 1174.1 128 1174.2 130.5 1174.2 133 1174.3 135.5 1174.4 138 1174.5 140.5 1174.6 143 1174.6 145.5 1174.7 148 1174.8 150.5 1174.9 153 1174.9 155.5 1175 158 1175.1 160.5 1175.2 163 1175.2 165.5 1175.3 168 1175.4 170.5 1175.4 173 1175.5 175.5 1175.6 178 1175.6 180.5 1175.7 183 1175.7 185.5 1175.8 188 1175.8 190.5 1175.9 193 1175.9 195.5 1175.9 198 1176 200.5 1176 203 1176 205.5 1176.1 208 1176.1 210.5 1176.1 213 1176.1 215.5 1176.1 218 1176.1 220.5 1176.1 223 1176.1 225.5 1176.1 228 1176.1 230.5 1176.1 233 1176.1 235.5 1176 238 1176 240.5 1176 243 1175.9 245.5 1175.9 248 1175.8 250.5 1175.8 253 1175.7 255.5 1175.6 258 1175.5 260.5 1175.4 263 1175.3 265.5 1175.2 268 1175.1 270.5 1175 273 1174.9 275.5 1174.8 278 1174.6 280.5 1174.5 283 1174.4 285.5 1174.2 288 1174 290.5 1173.9 293 1173.7 295.5 1173.5 298 1173.3 300.5 1173.1 303 1172.9 305.5 1172.7 308 1172.4 310.5 1172.2 313 1171.9 315.5 1171.7 318 1171.4 320.5 1171.1 323 1170.8 325.5 1170.6 328 1170.2 330.5 1169.9 333 1169.6 335.5 1169.3 338 1168.9 340.5 1168.6 343 1168.2 345.5 1167.8 348 1167.4 350.5 1167 353 1166.6 355.5 1166.2 358 1165.8 360.5 1165.3 363 1164.8 365.5 1164.4 368 1163.9 370.5 1163.4 373 1162.9 375.5 1162.3 378 1161.8 380.5 1161.2 383 1160.6 385.5 1160 388 1159.4 390.5 1158.8 393 1158.2 395.5 1157.5 398 1156.8 400.5 1156.1 403 1155.4 405.5 1154.6 408 1153.8 410.5 1153 413 1152 415.5 1151 418 1149.9 420.5 1148.6 423 1147.3 425.5 1145.8 428 1144.2 430.5 1142.4 433 1140.5 435.5 1138.5 438 1136.3 440.5 1133.9 443 1131.3 445.5 1128.5 448 1125.6 450.5 1122.4 453 1119 455.5 1115.4 458 1111.6 460.5 1107.6 463 1103.2 465.5 1098.7 468 1093.9 470.5 1088.8 473 1083.4 475.5 1077.8 478 1071.8 480.5 1065.6 483 1059 485.5 1052.2 488 1045 490.5 1037.6 493 1030.2 495.5 1023.1 498 1016.5 500.5 1010.7 503 1006 505.5 1002.3 508 999.6 510.5 997.9 513 997 515.5 996.9 518 997.4 520.5 998.7 523 1000.4 525.5 1002.7 528 1005.3 530.5 1008.2 533 1011.4 535.5 1014.8 538 1018.2 540.5 1021.7 543 1025.1 545.5 1028.4 548 1031.4 550.5 1034.3 553 1037 555.5 1039.4 558 1041.7 560.5 1043.8 563 1045.8 565.5 1047.5 568 1049.1 570.5 1050.6 573 1051.9 575.5 1053 578 1053.9 580.5 1054.8 583 1055.4 585.5 1056 588 1056.4 590.5 1056.7 593 1056.8 595.5 1056.8 598 1056.7 600.5 1056.5 603 1056.2 605.5 1055.8 608 1055.3 610.5 1054.6 613 1053.9 615.5 1053.1 618 1052.2 620.5 1051.3 623 1050.2 625.5 1049.1 628 1048 630.5 1046.8 633 1045.5 635.5 1044.2 638 1042.9 640.5 1041.5 643 1040.2 645.5 1038.8 648 1037.4 650.5 1036.1 653 1034.7 655.5 1033.3 658 1032 660.5 1030.7 663 1029.5 665.5 1028.3 668 1027.2 670.5 1026.1 673 1025 675.5 1024.1 678 1023.2 680.5 1022.3 683 1021.5 685.5 1020.8 688 1020.1 690.5 1019.5 693 1018.9 695.5 1018.4 698 1017.9 700.5 1017.5 703 1017.1 705.5 1016.7 708 1016.4 710.5 1016.1 713 1015.8 715.5 1015.6 718 1015.4 720.5 1015.2 723 1015.1 725.5 1015 728 1014.9 730.5 1014.8 733 1014.8 735.5 1014.7 738 1014.7 740.5 1014.7 743 1014.7 745.5 1014.7 748 1014.7 750.5 1014.7 753 1014.6 755.5 1014.6 758 1014.5 760.5 1014.4 763 1014.3 765.5 1014.1 768 1014 770.5 1013.7 773 1013.4 775.5 1013.1 778 1012.7 780.5 1012.3 783 1011.7 785.5 1011.2 788 1010.5 790.5 1009.8 793 1008.9 795.5 1007.9 798 1006.8 800.5 1005.5 803 1004 805.5 1002.3 808 1000.3 810.5 998.1 813 995.6 815.5 992.9 818 989.9 820.5 986.6 823 983.1 825.5 979.3 828 975.4 830.5 971.2 833 966.9 835.5 962.5 838 957.8 840.5 953.1 843 948.2 845.5 943.3 848 938.3 850.5 933.3 853 928.2 855.5 923.1 858 918.1 860.5 913.1 863 908.2 865.5 903.4 868 898.8 870.5 894.3 873 889.9 875.5 885.8 878 882 880.5 878.4 883 875.2 885.5 872.3 888 869.8 890.5 867.7 893 866 895.5 864.9 898 864.2 900.5 864.1 903 864.6 905.5 865.6 908 867.2 910.5 869.3 913 871.8 915.5 874.9 918 878.4 920.5 882.4 923 886.8 925.5 891.6 928 896.8 930.5 902.4 933 908.3 935.5 914.6 938 921.2 940.5 928.1 943 935.3 945.5 942.8 948 950.5 950.5 958.3 953 966.3 955.5 974.4 958 982.6 960.5 990.7 963 998.8 965.5 1006.9 968 1014.8 970.5 1022.5 973 1030.1 975.5 1037.4 978 1044.5 980.5 1051.3 983 1057.8 985.5 1064 988 1069.9 990.5 1075.4 993 1080.5 995.5 1085.1 998 1089.4 1000.5 1093.3 1003 1096.7 1005.5 1099.9 1008 1102.7 1010.5 1105.2 1013 1107.4 1015.5 1109.4 1018 1111.1 1020.5 1112.7 1023 1114.1 1025.5 1115.4 1028 1116.5 1030.5 1117.5 1033 1118.5 1035.5 1119.4 1038 1120.3 1040.5 1121.2 1043 1122.1 1045.5 1122.9 1048 1123.7 1050.5 1124.5 1053 1125.3 1055.5 1126 1058 1126.7 1060.5 1127.4 1063 1128.1 1065.5 1128.8 1068 1129.4 1070.5 1130 1073 1130.7 1075.5 1131.2 1078 1131.8 1080.5 1132.4 1083 1132.9 1085.5 1133.4 1088 1133.9 1090.5 1134.4 1093 1134.9 1095.5 1135.3 1098 1135.7 1100.5 1136.2 1103 1136.6 1105.5 1137 1108 1137.4 1110.5 1137.7 1113 1138.1 1115.5 1138.5 1118 1138.8 1120.5 1139.1 1123 1139.4 1125.5 1139.8 1128 1140.1 1130.5 1140.3 1133 1140.6 1135.5 1140.9 1138 1141.2 1140.5 1141.4 1143 1141.7 1145.5 1141.9 1148 1142.2 1150.5 1142.4 1153 1142.7 1155.5 1142.9 1158 1143.1 1160.5 1143.3 1163 1143.6 1165.5 1143.8 1168 1144 1170.5 1144.2 1173 1144.4 1175.5 1144.6 1178 1144.8 1180.5 1145 1183 1145.2 1185.5 1145.4 1188 1145.6 1190.5 1145.7 1193 1145.9 1195.5 1146.1 1198 1146.2 1200.5 1146.4 1203 1146.6 1205.5 1146.7 1208 1146.9 1210.5 1147 1213 1147.1 1215.5 1147.2 1218 1147.4 1220.5 1147.5 1223 1147.6 1225.5 1147.7 1228 1147.8 1230.5 1147.9 1233 1147.9 1235.5 1148 1238 1148.1 1240.5 1148.1 1243 1148.2 1245.5 1148.2 1248 1148.3 1250.5 1148.3 1253 1148.3 1255.5 1148.3 1258 1148.3 1260.5 1148.3 1263 1148.3 1265.5 1148.2 1268 1148.2 1270.5 1148.2 1273 1148.1 1275.5 1148 1278 1148 1280.5 1147.9 1283 1147.8 1285.5 1147.7 1288 1147.6 1290.5 1147.4 1293 1147.3 1295.5 1147.1 1298 1147 1300.5 1146.8 1303 1146.6 1305.5 1146.4 1308 1146.2 1310.5 1146 1313 1145.8 1315.5 1145.5 1318 1145.3 1320.5 1145 1323 1144.7 1325.5 1144.4 1328 1144.1 1330.5 1143.8 1333 1143.5 1335.5 1143.1 1338 1142.8 1340.5 1142.4 1343 1142 1345.5 1141.6 1348 1141.2 1350.5 1140.7 1353 1140.3 1355.5 1139.8 1358 1139.4 1360.5 1138.9 1363 1138.4 1365.5 1137.8 1368 1137.3 1370.5 1136.8 1373 1136.2 1375.5 1135.6 1378 1135 1380.5 1134.4 1383 1133.8 1385.5 1133.1 1388 1132.4 1390.5 1131.8 1393 1131 1395.5 1130.3 1398 1129.6 1400.5 1128.8 1403 1128.1 1405.5 1127.3 1408 1126.5 1409.4 1126.0" fill="none" stroke="#244b8c" stroke-width="2.70" stroke-linejoin="round"/>
<path d="M90.5 1173.1 93 1173.2 95.5 1173.3 98 1173.3 100.5 1173.4 103 1173.5 105.5 1173.6 108 1173.6 110.5 1173.7 113 1173.8 115.5 1173.9 118 1173.9 120.5 1174 123 1174.1 125.5 1174.2 128 1174.3 130.5 1174.4 133 1174.4 135.5 1174.5 138 1174.6 140.5 1174.7 143 1174.8 145.5 1174.8 148 1174.9 150.5 1175 153 1175.1 155.5 1175.2 158 1175.2 160.5 1175.3 163 1175.4 165.5 1175.4 168 1175.5 170.5 1175.6 173 1175.6 175.5 1175.7 178 1175.8 180.5 1175.8 183 1175.9 185.5 1175.9 188 1176 190.5 1176 193 1176.1 195.5 1176.1 198 1176.1 200.5 1176.2 203 1176.2 205.5 1176.2 208 1176.3 210.5 1176.3 213 1176.3 215.5 1176.3 218 1176.3 220.5 1176.3 223 1176.3 225.5 1176.3 228 1176.3 230.5 1176.3 233 1176.2 235.5 1176.2 238 1176.2 240.5 1176.2 243 1176.1 245.5 1176.1 248 1176 250.5 1176 253 1175.9 255.5 1175.8 258 1175.7 260.5 1175.7 263 1175.6 265.5 1175.5 268 1175.4 270.5 1175.2 273 1175.1 275.5 1175 278 1174.9 280.5 1174.7 283 1174.6 285.5 1174.4 288 1174.3 290.5 1174.1 293 1173.9 295.5 1173.7 298 1173.5 300.5 1173.3 303 1173.1 305.5 1172.9 308 1172.7 310.5 1172.5 313 1172.2 315.5 1172 318 1171.7 320.5 1171.4 323 1171.1 325.5 1170.8 328 1170.5 330.5 1170.2 333 1169.9 335.5 1169.6 338 1169.2 340.5 1168.9 343 1168.5 345.5 1168.2 348 1167.8 350.5 1167.4 353 1167 355.5 1166.6 358 1166.1 360.5 1165.7 363 1165.2 365.5 1164.8 368 1164.3 370.5 1163.8 373 1163.3 375.5 1162.7 378 1162.2 380.5 1161.6 383 1161.1 385.5 1160.5 388 1159.9 390.5 1159.3 393 1158.6 395.5 1158 398 1157.3 400.5 1156.6 403 1155.9 405.5 1155.2 408 1154.4 410.5 1153.5 413 1152.6 415.5 1151.6 418 1150.5 420.5 1149.3 423 1147.9 425.5 1146.5 428 1144.9 430.5 1143.2 433 1141.3 435.5 1139.3 438 1137.1 440.5 1134.8 443 1132.3 445.5 1129.6 448 1126.6 450.5 1123.5 453 1120.2 455.5 1116.7 458 1112.9 460.5 1108.9 463 1104.7 465.5 1100.2 468 1095.5 470.5 1090.4 473 1085.2 475.5 1079.6 478 1073.7 480.5 1067.6 483 1061.1 485.5 1054.3 488 1047.2 490.5 1039.9 493 1032.6 495.5 1025.6 498 1019.1 500.5 1013.3 503 1008.6 505.5 1004.9 508 1002.2 510.5 1000.5 513 999.5 515.5 999.4 518 999.9 520.5 1001.1 523 1002.7 525.5 1004.9 528 1007.4 530.5 1010.3 533 1013.4 535.5 1016.7 538 1020 540.5 1023.4 543 1026.7 545.5 1029.9 548 1032.9 550.5 1035.7 553 1038.3 555.5 1040.7 558 1042.9 560.5 1045 563 1046.9 565.5 1048.6 568 1050.1 570.5 1051.5 573 1052.8 575.5 1053.8 578 1054.8 580.5 1055.6 583 1056.2 585.5 1056.7 588 1057.1 590.5 1057.3 593 1057.4 595.5 1057.4 598 1057.3 600.5 1057.1 603 1056.8 605.5 1056.3 608 1055.8 610.5 1055.1 613 1054.4 615.5 1053.6 618 1052.7 620.5 1051.7 623 1050.6 625.5 1049.5 628 1048.3 630.5 1047.1 633 1045.8 635.5 1044.5 638 1043.2 640.5 1041.8 643 1040.4 645.5 1039 648 1037.6 650.5 1036.2 653 1034.9 655.5 1033.5 658 1032.1 660.5 1030.8 663 1029.6 665.5 1028.3 668 1027.2 670.5 1026.1 673 1025 675.5 1024 678 1023.1 680.5 1022.2 683 1021.4 685.5 1020.6 688 1019.9 690.5 1019.3 693 1018.6 695.5 1018.1 698 1017.6 700.5 1017.1 703 1016.7 705.5 1016.3 708 1015.9 710.5 1015.6 713 1015.3 715.5 1015.1 718 1014.8 720.5 1014.6 723 1014.5 725.5 1014.3 728 1014.2 730.5 1014.1 733 1014 735.5 1014 738 1013.9 740.5 1013.9 743 1013.9 745.5 1013.8 748 1013.8 750.5 1013.8 753 1013.7 755.5 1013.6 758 1013.6 760.5 1013.5 763 1013.3 765.5 1013.1 768 1012.9 770.5 1012.7 773 1012.4 775.5 1012 778 1011.6 780.5 1011.2 783 1010.6 785.5 1010 788 1009.4 790.5 1008.6 793 1007.7 795.5 1006.7 798 1005.6 800.5 1004.2 803 1002.7 805.5 1000.9 808 999 810.5 996.7 813 994.2 815.5 991.5 818 988.4 820.5 985.1 823 981.6 825.5 977.8 828 973.9 830.5 969.7 833 965.4 835.5 960.9 838 956.3 840.5 951.5 843 946.6 845.5 941.7 848 936.7 850.5 931.6 853 926.6 855.5 921.5 858 916.5 860.5 911.5 863 906.6 865.5 901.8 868 897.1 870.5 892.6 873 888.3 875.5 884.2 878 880.3 880.5 876.7 883 873.5 885.5 870.6 888 868 890.5 865.9 893 864.3 895.5 863.1 898 862.5 900.5 862.4 903 862.8 905.5 863.8 908 865.2 910.5 867.2 913 869.6 915.5 872.6 918 875.9 920.5 879.7 923 883.9 925.5 888.5 928 893.5 930.5 898.9 933 904.7 935.5 910.7 938 917.1 940.5 923.9 943 930.9 945.5 938.2 948 945.8 950.5 953.7 953 961.7 955.5 969.8 958 978.1 960.5 986.3 963 994.5 965.5 1002.6 968 1010.6 970.5 1018.4 973 1026.1 975.5 1033.5 978 1040.7 980.5 1047.6 983 1054.3 985.5 1060.6 988 1066.6 990.5 1072.3 993 1077.5 995.5 1082.4 998 1086.9 1000.5 1090.9 1003 1094.6 1005.5 1098 1008 1101 1010.5 1103.8 1013 1106.2 1015.5 1108.4 1018 1110.4 1020.5 1112.3 1023 1113.9 1025.5 1115.4 1028 1116.7 1030.5 1117.9 1033 1119.1 1035.5 1120.2 1038 1121.3 1040.5 1122.4 1043 1123.4 1045.5 1124.3 1048 1125.3 1050.5 1126.2 1053 1127.1 1055.5 1127.9 1058 1128.7 1060.5 1129.5 1063 1130.3 1065.5 1131 1068 1131.8 1070.5 1132.4 1073 1133.1 1075.5 1133.8 1078 1134.4 1080.5 1135 1083 1135.6 1085.5 1136.2 1088 1136.7 1090.5 1137.3 1093 1137.8 1095.5 1138.3 1098 1138.8 1100.5 1139.3 1103 1139.7 1105.5 1140.2 1108 1140.6 1110.5 1141 1113 1141.4 1115.5 1141.8 1118 1142.2 1120.5 1142.6 1123 1142.9 1125.5 1143.3 1128 1143.6 1130.5 1144 1133 1144.3 1135.5 1144.6 1138 1144.9 1140.5 1145.2 1143 1145.5 1145.5 1145.8 1148 1146 1150.5 1146.3 1153 1146.6 1155.5 1146.8 1158 1147.1 1160.5 1147.3 1163 1147.5 1165.5 1147.8 1168 1148 1170.5 1148.2 1173 1148.5 1175.5 1148.7 1178 1148.9 1180.5 1149.1 1183 1149.3 1185.5 1149.5 1188 1149.7 1190.5 1149.9 1193 1150.1 1195.5 1150.3 1198 1150.5 1200.5 1150.6 1203 1150.8 1205.5 1151 1208 1151.1 1210.5 1151.3 1213 1151.4 1215.5 1151.5 1218 1151.7 1220.5 1151.8 1223 1151.9 1225.5 1152 1228 1152.1 1230.5 1152.2 1233 1152.2 1235.5 1152.3 1238 1152.4 1240.5 1152.4 1243 1152.5 1245.5 1152.5 1248 1152.6 1250.5 1152.6 1253 1152.6 1255.5 1152.6 1258 1152.6 1260.5 1152.6 1263 1152.6 1265.5 1152.6 1268 1152.5 1270.5 1152.5 1273 1152.4 1275.5 1152.4 1278 1152.3 1280.5 1152.2 1283 1152.1 1285.5 1152 1288 1151.9 1290.5 1151.8 1293 1151.7 1295.5 1151.5 1298 1151.4 1300.5 1151.2 1303 1151 1305.5 1150.8 1308 1150.6 1310.5 1150.4 1313 1150.2 1315.5 1150 1318 1149.7 1320.5 1149.5 1323 1149.2 1325.5 1148.9 1328 1148.6 1330.5 1148.3 1333 1148 1335.5 1147.6 1338 1147.3 1340.5 1146.9 1343 1146.6 1345.5 1146.2 1348 1145.8 1350.5 1145.4 1353 1144.9 1355.5 1144.5 1358 1144 1360.5 1143.6 1363 1143.1 1365.5 1142.6 1368 1142.1 1370.5 1141.5 1373 1141 1375.5 1140.4 1378 1139.8 1380.5 1139.2 1383 1138.6 1385.5 1138 1388 1137.3 1390.5 1136.7 1393 1136 1395.5 1135.3 1398 1134.5 1400.5 1133.8 1403 1133.1 1405.5 1132.3 1408 1131.5 1409.4 1131.0" fill="none" stroke="#1f5bd0" stroke-width="2.70" stroke-linejoin="round"/>
<path d="M90.5 1173.2 93 1173.3 95.5 1173.4 98 1173.5 100.5 1173.5 103 1173.6 105.5 1173.7 108 1173.8 110.5 1173.8 113 1173.9 115.5 1174 118 1174.1 120.5 1174.2 123 1174.2 125.5 1174.3 128 1174.4 130.5 1174.5 133 1174.6 135.5 1174.7 138 1174.7 140.5 1174.8 143 1174.9 145.5 1175 148 1175.1 150.5 1175.1 153 1175.2 155.5 1175.3 158 1175.4 160.5 1175.4 163 1175.5 165.5 1175.6 168 1175.7 170.5 1175.7 173 1175.8 175.5 1175.9 178 1175.9 180.5 1176 183 1176 185.5 1176.1 188 1176.1 190.5 1176.2 193 1176.2 195.5 1176.3 198 1176.3 200.5 1176.3 203 1176.4 205.5 1176.4 208 1176.4 210.5 1176.4 213 1176.5 215.5 1176.5 218 1176.5 220.5 1176.5 223 1176.5 225.5 1176.5 228 1176.5 230.5 1176.4 233 1176.4 235.5 1176.4 238 1176.4 240.5 1176.3 243 1176.3 245.5 1176.2 248 1176.2 250.5 1176.1 253 1176.1 255.5 1176 258 1175.9 260.5 1175.9 263 1175.8 265.5 1175.7 268 1175.6 270.5 1175.5 273 1175.3 275.5 1175.2 278 1175.1 280.5 1175 283 1174.8 285.5 1174.7 288 1174.5 290.5 1174.3 293 1174.2 295.5 1174 298 1173.8 300.5 1173.6 303 1173.4 305.5 1173.2 308 1173 310.5 1172.7 313 1172.5 315.5 1172.2 318 1172 320.5 1171.7 323 1171.4 325.5 1171.2 328 1170.9 330.5 1170.6 333 1170.3 335.5 1169.9 338 1169.6 340.5 1169.3 343 1168.9 345.5 1168.5 348 1168.2 350.5 1167.8 353 1167.4 355.5 1167 358 1166.6 360.5 1166.1 363 1165.7 365.5 1165.2 368 1164.7 370.5 1164.3 373 1163.8 375.5 1163.2 378 1162.7 380.5 1162.2 383 1161.6 385.5 1161 388 1160.5 390.5 1159.9 393 1159.2 395.5 1158.6 398 1157.9 400.5 1157.3 403 1156.6 405.5 1155.9 408 1155.1 410.5 1154.3 413 1153.4 415.5 1152.4 418 1151.3 420.5 1150.1 423 1148.8 425.5 1147.4 428 1145.9 430.5 1144.2 433 1142.4 435.5 1140.4 438 1138.3 440.5 1136 443 1133.5 445.5 1130.9 448 1128 450.5 1125 453 1121.8 455.5 1118.3 458 1114.6 460.5 1110.7 463 1106.5 465.5 1102.1 468 1097.5 470.5 1092.5 473 1087.3 475.5 1081.9 478 1076.1 480.5 1070 483 1063.7 485.5 1057 488 1050 490.5 1042.8 493 1035.6 495.5 1028.7 498 1022.3 500.5 1016.6 503 1011.9 505.5 1008.3 508 1005.7 510.5 1004 513 1003 515.5 1002.8 518 1003.3 520.5 1004.4 523 1006 525.5 1008.1 528 1010.5 530.5 1013.3 533 1016.3 535.5 1019.5 538 1022.8 540.5 1026.1 543 1029.3 545.5 1032.4 548 1035.3 550.5 1038 553 1040.6 555.5 1042.9 558 1045.1 560.5 1047.1 563 1048.9 565.5 1050.6 568 1052.1 570.5 1053.4 573 1054.6 575.5 1055.6 578 1056.5 580.5 1057.2 583 1057.8 585.5 1058.3 588 1058.6 590.5 1058.9 593 1058.9 595.5 1058.9 598 1058.8 600.5 1058.5 603 1058.1 605.5 1057.6 608 1057.1 610.5 1056.4 613 1055.6 615.5 1054.8 618 1053.8 620.5 1052.8 623 1051.7 625.5 1050.5 628 1049.3 630.5 1048 633 1046.7 635.5 1045.4 638 1044 640.5 1042.6 643 1041.1 645.5 1039.7 648 1038.2 650.5 1036.8 653 1035.3 655.5 1033.9 658 1032.5 660.5 1031.1 663 1029.8 665.5 1028.5 668 1027.2 670.5 1026 673 1024.9 675.5 1023.8 678 1022.8 680.5 1021.8 683 1020.9 685.5 1020.1 688 1019.3 690.5 1018.5 693 1017.8 695.5 1017.1 698 1016.5 700.5 1016 703 1015.4 705.5 1015 708 1014.5 710.5 1014.1 713 1013.7 715.5 1013.4 718 1013.1 720.5 1012.8 723 1012.6 725.5 1012.3 728 1012.1 730.5 1012 733 1011.8 735.5 1011.7 738 1011.6 740.5 1011.5 743 1011.4 745.5 1011.3 748 1011.2 750.5 1011.1 753 1011 755.5 1010.8 758 1010.7 760.5 1010.5 763 1010.3 765.5 1010.1 768 1009.8 770.5 1009.5 773 1009.2 775.5 1008.7 778 1008.3 780.5 1007.7 783 1007.1 785.5 1006.4 788 1005.6 790.5 1004.7 793 1003.7 795.5 1002.5 798 1001.2 800.5 999.6 803 997.9 805.5 995.9 808 993.7 810.5 991.2 813 988.4 815.5 985.4 818 982.1 820.5 978.5 823 974.7 825.5 970.7 828 966.4 830.5 961.9 833 957.2 835.5 952.4 838 947.4 840.5 942.3 843 937 845.5 931.8 848 926.4 850.5 921 853 915.6 855.5 910.1 858 904.7 860.5 899.3 863 893.9 865.5 888.7 868 883.5 870.5 878.6 873 873.7 875.5 869.2 878 864.8 880.5 860.8 883 857.1 885.5 853.7 888 850.7 890.5 848.2 893 846.1 895.5 844.6 898 843.6 900.5 843.2 903 843.4 905.5 844.2 908 845.6 910.5 847.5 913 850 915.5 853.1 918 856.6 920.5 860.6 923 865.1 925.5 870.1 928 875.4 930.5 881.2 933 887.3 935.5 893.8 938 900.6 940.5 907.8 943 915.4 945.5 923.3 948 931.6 950.5 940.2 953 949 955.5 958.1 958 967.2 960.5 976.3 963 985.2 965.5 993.9 968 1002.4 970.5 1010.7 973 1018.8 975.5 1026.7 978 1034.4 980.5 1041.8 983 1048.8 985.5 1055.6 988 1062 990.5 1068 993 1073.7 995.5 1078.9 998 1083.7 1000.5 1088.1 1003 1092.1 1005.5 1095.8 1008 1099.2 1010.5 1102.2 1013 1105 1015.5 1107.5 1018 1109.7 1020.5 1111.8 1023 1113.7 1025.5 1115.4 1028 1116.9 1030.5 1118.4 1033 1119.7 1035.5 1121 1038 1122.2 1040.5 1123.4 1043 1124.5 1045.5 1125.6 1048 1126.6 1050.5 1127.6 1053 1128.6 1055.5 1129.5 1058 1130.4 1060.5 1131.2 1063 1132.1 1065.5 1132.8 1068 1133.6 1070.5 1134.3 1073 1135 1075.5 1135.7 1078 1136.3 1080.5 1137 1083 1137.6 1085.5 1138.2 1088 1138.7 1090.5 1139.3 1093 1139.8 1095.5 1140.4 1098 1140.9 1100.5 1141.4 1103 1141.8 1105.5 1142.3 1108 1142.7 1110.5 1143.2 1113 1143.6 1115.5 1144 1118 1144.4 1120.5 1144.8 1123 1145.1 1125.5 1145.5 1128 1145.8 1130.5 1146.2 1133 1146.5 1135.5 1146.8 1138 1147.1 1140.5 1147.4 1143 1147.7 1145.5 1148 1148 1148.2 1150.5 1148.5 1153 1148.8 1155.5 1149 1158 1149.3 1160.5 1149.5 1163 1149.8 1165.5 1150 1168 1150.2 1170.5 1150.5 1173 1150.7 1175.5 1150.9 1178 1151.1 1180.5 1151.3 1183 1151.5 1185.5 1151.7 1188 1151.9 1190.5 1152.1 1193 1152.3 1195.5 1152.5 1198 1152.7 1200.5 1152.8 1203 1153 1205.5 1153.1 1208 1153.3 1210.5 1153.4 1213 1153.6 1215.5 1153.7 1218 1153.8 1220.5 1153.9 1223 1154 1225.5 1154.1 1228 1154.2 1230.5 1154.3 1233 1154.4 1235.5 1154.5 1238 1154.5 1240.5 1154.6 1243 1154.7 1245.5 1154.7 1248 1154.7 1250.5 1154.8 1253 1154.8 1255.5 1154.8 1258 1154.8 1260.5 1154.8 1263 1154.8 1265.5 1154.7 1268 1154.7 1270.5 1154.7 1273 1154.6 1275.5 1154.5 1278 1154.5 1280.5 1154.4 1283 1154.3 1285.5 1154.2 1288 1154.1 1290.5 1154 1293 1153.8 1295.5 1153.7 1298 1153.6 1300.5 1153.4 1303 1153.2 1305.5 1153.1 1308 1152.9 1310.5 1152.7 1313 1152.4 1315.5 1152.2 1318 1152 1320.5 1151.7 1323 1151.5 1325.5 1151.2 1328 1150.9 1330.5 1150.6 1333 1150.3 1335.5 1150 1338 1149.7 1340.5 1149.3 1343 1149 1345.5 1148.6 1348 1148.2 1350.5 1147.8 1353 1147.4 1355.5 1147 1358 1146.5 1360.5 1146.1 1363 1145.6 1365.5 1145.1 1368 1144.6 1370.5 1144.1 1373 1143.6 1375.5 1143 1378 1142.5 1380.5 1141.9 1383 1141.3 1385.5 1140.7 1388 1140.1 1390.5 1139.4 1393 1138.8 1395.5 1138.1 1398 1137.4 1400.5 1136.7 1403 1136 1405.5 1135.2 1408 1134.5 1409.4 1134.0" fill="none" stroke="#3f83c8" stroke-width="2.70" stroke-linejoin="round"/>
<path d="M90.5 1173.4 93 1173.5 95.5 1173.6 98 1173.7 100.5 1173.7 103 1173.8 105.5 1173.9 108 1174 110.5 1174.1 113 1174.2 115.5 1174.2 118 1174.3 120.5 1174.4 123 1174.5 125.5 1174.6 128 1174.7 130.5 1174.7 133 1174.8 135.5 1174.9 138 1175 140.5 1175.1 143 1175.2 145.5 1175.2 148 1175.3 150.5 1175.4 153 1175.5 155.5 1175.6 158 1175.6 160.5 1175.7 163 1175.8 165.5 1175.9 168 1175.9 170.5 1176 173 1176.1 175.5 1176.1 178 1176.2 180.5 1176.2 183 1176.3 185.5 1176.3 188 1176.4 190.5 1176.4 193 1176.5 195.5 1176.5 198 1176.6 200.5 1176.6 203 1176.6 205.5 1176.7 208 1176.7 210.5 1176.7 213 1176.7 215.5 1176.7 218 1176.8 220.5 1176.8 223 1176.8 225.5 1176.8 228 1176.7 230.5 1176.7 233 1176.7 235.5 1176.7 238 1176.7 240.5 1176.6 243 1176.6 245.5 1176.5 248 1176.5 250.5 1176.4 253 1176.4 255.5 1176.3 258 1176.2 260.5 1176.2 263 1176.1 265.5 1176 268 1175.9 270.5 1175.8 273 1175.7 275.5 1175.5 278 1175.4 280.5 1175.3 283 1175.1 285.5 1175 288 1174.8 290.5 1174.7 293 1174.5 295.5 1174.3 298 1174.1 300.5 1173.9 303 1173.7 305.5 1173.5 308 1173.3 310.5 1173.1 313 1172.9 315.5 1172.6 318 1172.4 320.5 1172.1 323 1171.8 325.5 1171.6 328 1171.3 330.5 1171 333 1170.7 335.5 1170.4 338 1170 340.5 1169.7 343 1169.4 345.5 1169 348 1168.6 350.5 1168.3 353 1167.9 355.5 1167.5 358 1167.1 360.5 1166.7 363 1166.2 365.5 1165.8 368 1165.3 370.5 1164.9 373 1164.4 375.5 1163.9 378 1163.4 380.5 1162.8 383 1162.3 385.5 1161.7 388 1161.2 390.5 1160.6 393 1160 395.5 1159.4 398 1158.7 400.5 1158.1 403 1157.4 405.5 1156.7 408 1156 410.5 1155.2 413 1154.3 415.5 1153.3 418 1152.3 420.5 1151.2 423 1149.9 425.5 1148.6 428 1147.1 430.5 1145.5 433 1143.7 435.5 1141.8 438 1139.8 440.5 1137.6 443 1135.2 445.5 1132.6 448 1129.9 450.5 1127 453 1123.8 455.5 1120.5 458 1116.9 460.5 1113.2 463 1109.2 465.5 1104.9 468 1100.4 470.5 1095.6 473 1090.6 475.5 1085.3 478 1079.7 480.5 1073.9 483 1067.7 485.5 1061.3 488 1054.5 490.5 1047.5 493 1040.6 495.5 1033.9 498 1027.7 500.5 1022.2 503 1017.7 505.5 1014.3 508 1011.8 510.5 1010 513 1009 515.5 1008.6 518 1008.9 520.5 1009.8 523 1011.2 525.5 1013.1 528 1015.4 530.5 1017.9 533 1020.7 535.5 1023.7 538 1026.8 540.5 1029.9 543 1033 545.5 1036 548 1038.8 550.5 1041.4 553 1043.8 555.5 1046.1 558 1048.1 560.5 1050.1 563 1051.8 565.5 1053.4 568 1054.8 570.5 1056.1 573 1057.2 575.5 1058.2 578 1059 580.5 1059.7 583 1060.2 585.5 1060.6 588 1060.9 590.5 1061.1 593 1061.1 595.5 1061.1 598 1060.9 600.5 1060.5 603 1060.1 605.5 1059.6 608 1059 610.5 1058.2 613 1057.4 615.5 1056.5 618 1055.5 620.5 1054.4 623 1053.3 625.5 1052.1 628 1050.8 630.5 1049.4 633 1048 635.5 1046.6 638 1045.1 640.5 1043.7 643 1042.2 645.5 1040.6 648 1039.1 650.5 1037.6 653 1036 655.5 1034.5 658 1033 660.5 1031.5 663 1030.1 665.5 1028.7 668 1027.3 670.5 1026 673 1024.7 675.5 1023.5 678 1022.3 680.5 1021.2 683 1020.2 685.5 1019.2 688 1018.2 690.5 1017.3 693 1016.5 695.5 1015.7 698 1014.9 700.5 1014.2 703 1013.6 705.5 1012.9 708 1012.3 710.5 1011.8 713 1011.3 715.5 1010.8 718 1010.3 720.5 1009.9 723 1009.5 725.5 1009.2 728 1008.9 730.5 1008.6 733 1008.3 735.5 1008 738 1007.8 740.5 1007.5 743 1007.3 745.5 1007.1 748 1006.9 750.5 1006.6 753 1006.4 755.5 1006.2 758 1005.9 760.5 1005.6 763 1005.3 765.5 1005 768 1004.6 770.5 1004.2 773 1003.7 775.5 1003.2 778 1002.6 780.5 1001.9 783 1001.1 785.5 1000.3 788 999.3 790.5 998.2 793 997 795.5 995.5 798 993.9 800.5 992.1 803 990.1 805.5 987.8 808 985.2 810.5 982.4 813 979.3 815.5 975.9 818 972.2 820.5 968.4 823 964.3 825.5 959.9 828 955.3 830.5 950.4 833 945.2 835.5 939.9 838 934.5 840.5 929 843 923.4 845.5 917.7 848 912 850.5 906.2 853 900.4 855.5 894.5 858 888.7 860.5 882.9 863 877.1 865.5 871.4 868 865.7 870.5 860.3 873 855 875.5 850 878 845.2 880.5 840.7 883 836.5 885.5 832.7 888 829.3 890.5 826.3 893 823.9 895.5 822 898 820.7 900.5 820.1 903 820.1 905.5 820.9 908 822.2 910.5 824.3 913 826.9 915.5 830.2 918 834 920.5 838.4 923 843.3 925.5 848.6 928 854.4 930.5 860.7 933 867.3 935.5 874.3 938 881.6 940.5 889.4 943 897.6 945.5 906.2 948 915.3 950.5 924.7 953 934.6 955.5 944.6 958 954.7 960.5 964.7 963 974.5 965.5 983.9 968 993 970.5 1001.9 973 1010.6 975.5 1019 978 1027.2 980.5 1035.1 983 1042.6 985.5 1049.9 988 1056.7 990.5 1063.2 993 1069.2 995.5 1074.9 998 1080.1 1000.5 1084.9 1003 1089.3 1005.5 1093.3 1008 1097 1010.5 1100.4 1013 1103.5 1015.5 1106.3 1018 1108.9 1020.5 1111.2 1023 1113.4 1025.5 1115.4 1028 1117.2 1030.5 1118.8 1033 1120.4 1035.5 1121.9 1038 1123.3 1040.5 1124.6 1043 1125.9 1045.5 1127.1 1048 1128.3 1050.5 1129.4 1053 1130.4 1055.5 1131.4 1058 1132.4 1060.5 1133.3 1063 1134.2 1065.5 1135 1068 1135.8 1070.5 1136.6 1073 1137.3 1075.5 1138 1078 1138.7 1080.5 1139.4 1083 1140 1085.5 1140.6 1088 1141.2 1090.5 1141.8 1093 1142.4 1095.5 1142.9 1098 1143.5 1100.5 1144 1103 1144.5 1105.5 1144.9 1108 1145.4 1110.5 1145.8 1113 1146.3 1115.5 1146.7 1118 1147.1 1120.5 1147.5 1123 1147.9 1125.5 1148.2 1128 1148.6 1130.5 1148.9 1133 1149.3 1135.5 1149.6 1138 1149.9 1140.5 1150.2 1143 1150.5 1145.5 1150.8 1148 1151.1 1150.5 1151.4 1153 1151.6 1155.5 1151.9 1158 1152.1 1160.5 1152.4 1163 1152.6 1165.5 1152.9 1168 1153.1 1170.5 1153.3 1173 1153.6 1175.5 1153.8 1178 1154 1180.5 1154.2 1183 1154.4 1185.5 1154.6 1188 1154.8 1190.5 1155 1193 1155.2 1195.5 1155.4 1198 1155.5 1200.5 1155.7 1203 1155.9 1205.5 1156 1208 1156.2 1210.5 1156.3 1213 1156.4 1215.5 1156.6 1218 1156.7 1220.5 1156.8 1223 1156.9 1225.5 1157 1228 1157.1 1230.5 1157.2 1233 1157.3 1235.5 1157.4 1238 1157.4 1240.5 1157.5 1243 1157.5 1245.5 1157.6 1248 1157.6 1250.5 1157.6 1253 1157.7 1255.5 1157.7 1258 1157.7 1260.5 1157.7 1263 1157.7 1265.5 1157.7 1268 1157.6 1270.5 1157.6 1273 1157.6 1275.5 1157.5 1278 1157.5 1280.5 1157.4 1283 1157.4 1285.5 1157.3 1288 1157.2 1290.5 1157.1 1293 1157 1295.5 1156.9 1298 1156.8 1300.5 1156.7 1303 1156.5 1305.5 1156.4 1308 1156.2 1310.5 1156.1 1313 1155.9 1315.5 1155.7 1318 1155.5 1320.5 1155.3 1323 1155.1 1325.5 1154.9 1328 1154.7 1330.5 1154.4 1333 1154.2 1335.5 1153.9 1338 1153.6 1340.5 1153.4 1343 1153.1 1345.5 1152.8 1348 1152.5 1350.5 1152.2 1353 1151.8 1355.5 1151.5 1358 1151.1 1360.5 1150.8 1363 1150.4 1365.5 1150 1368 1149.6 1370.5 1149.2 1373 1148.8 1375.5 1148.4 1378 1147.9 1380.5 1147.5 1383 1147 1385.5 1146.5 1388 1146 1390.5 1145.5 1393 1145 1395.5 1144.5 1398 1144 1400.5 1143.4 1403 1142.9 1405.5 1142.3 1408 1141.7 1409.4 1141.4" fill="none" stroke="#7aaee0" stroke-width="2.70" stroke-linejoin="round"/>
<path d="M90.5 1174.9 93 1175 95.5 1175.1 98 1175.2 100.5 1175.3 103 1175.4 105.5 1175.5 108 1175.6 110.5 1175.7 113 1175.8 115.5 1175.9 118 1175.9 120.5 1176 123 1176.1 125.5 1176.2 128 1176.3 130.5 1176.4 133 1176.5 135.5 1176.6 138 1176.7 140.5 1176.8 143 1176.9 145.5 1177 148 1177.1 150.5 1177.2 153 1177.2 155.5 1177.3 158 1177.4 160.5 1177.5 163 1177.6 165.5 1177.6 168 1177.7 170.5 1177.8 173 1177.9 175.5 1177.9 178 1178 180.5 1178 183 1178.1 185.5 1178.2 188 1178.2 190.5 1178.3 193 1178.3 195.5 1178.4 198 1178.4 200.5 1178.4 203 1178.5 205.5 1178.5 208 1178.5 210.5 1178.6 213 1178.6 215.5 1178.6 218 1178.6 220.5 1178.6 223 1178.6 225.5 1178.6 228 1178.6 230.5 1178.6 233 1178.6 235.5 1178.6 238 1178.5 240.5 1178.5 243 1178.5 245.5 1178.4 248 1178.4 250.5 1178.4 253 1178.3 255.5 1178.2 258 1178.2 260.5 1178.1 263 1178 265.5 1177.9 268 1177.8 270.5 1177.7 273 1177.6 275.5 1177.5 278 1177.4 280.5 1177.3 283 1177.2 285.5 1177 288 1176.9 290.5 1176.7 293 1176.6 295.5 1176.4 298 1176.2 300.5 1176.1 303 1175.9 305.5 1175.7 308 1175.5 310.5 1175.3 313 1175 315.5 1174.8 318 1174.6 320.5 1174.3 323 1174.1 325.5 1173.8 328 1173.5 330.5 1173.2 333 1172.9 335.5 1172.6 338 1172.3 340.5 1172 343 1171.7 345.5 1171.3 348 1171 350.5 1170.6 353 1170.2 355.5 1169.8 358 1169.4 360.5 1169 363 1168.6 365.5 1168.2 368 1167.7 370.5 1167.2 373 1166.8 375.5 1166.3 378 1165.8 380.5 1165.3 383 1164.7 385.5 1164.2 388 1163.6 390.5 1163 393 1162.4 395.5 1161.8 398 1161.2 400.5 1160.6 403 1159.9 405.5 1159.2 408 1158.5 410.5 1157.7 413 1156.8 415.5 1155.9 418 1154.9 420.5 1153.9 423 1152.7 425.5 1151.4 428 1150 430.5 1148.5 433 1146.9 435.5 1145.1 438 1143.2 440.5 1141.2 443 1139 445.5 1136.6 448 1134 450.5 1131.3 453 1128.4 455.5 1125.3 458 1122 460.5 1118.5 463 1114.8 465.5 1110.8 468 1106.6 470.5 1102.2 473 1097.5 475.5 1092.6 478 1087.4 480.5 1081.9 483 1076.2 485.5 1070.2 488 1063.9 490.5 1057.4 493 1050.9 495.5 1044.7 498 1038.9 500.5 1033.7 503 1029.7 505.5 1026.7 508 1024.5 510.5 1022.8 513 1021.6 515.5 1020.9 518 1020.7 520.5 1021.1 523 1022 525.5 1023.3 528 1025.1 530.5 1027.2 533 1029.5 535.5 1032 538 1034.7 540.5 1037.5 543 1040.2 545.5 1042.9 548 1045.5 550.5 1047.9 553 1050.2 555.5 1052.2 558 1054.2 560.5 1055.9 563 1057.5 565.5 1059 568 1060.2 570.5 1061.4 573 1062.4 575.5 1063.3 578 1064 580.5 1064.6 583 1065.1 585.5 1065.4 588 1065.6 590.5 1065.7 593 1065.7 595.5 1065.5 598 1065.2 600.5 1064.8 603 1064.3 605.5 1063.7 608 1063 610.5 1062.1 613 1061.2 615.5 1060.2 618 1059.1 620.5 1057.9 623 1056.6 625.5 1055.2 628 1053.8 630.5 1052.3 633 1050.8 635.5 1049.2 638 1047.6 640.5 1046 643 1044.3 645.5 1042.6 648 1040.9 650.5 1039.2 653 1037.5 655.5 1035.8 658 1034.1 660.5 1032.4 663 1030.7 665.5 1029 668 1027.4 670.5 1025.9 673 1024.3 675.5 1022.8 678 1021.4 680.5 1020 683 1018.7 685.5 1017.4 688 1016.1 690.5 1014.9 693 1013.7 695.5 1012.6 698 1011.5 700.5 1010.4 703 1009.4 705.5 1008.5 708 1007.6 710.5 1006.7 713 1005.9 715.5 1005.1 718 1004.3 720.5 1003.5 723 1002.8 725.5 1002.2 728 1001.5 730.5 1000.9 733 1000.3 735.5 999.7 738 999.1 740.5 998.6 743 998 745.5 997.5 748 997 750.5 996.5 753 996 755.5 995.4 758 994.9 760.5 994.4 763 993.8 765.5 993.2 768 992.6 770.5 991.9 773 991.2 775.5 990.4 778 989.5 780.5 988.5 783 987.4 785.5 986.1 788 984.8 790.5 983.2 793 981.5 795.5 979.6 798 977.4 800.5 974.9 803 972.2 805.5 969.2 808 965.9 810.5 962.2 813 958.4 815.5 954.2 818 949.8 820.5 945.3 823 940.4 825.5 935.3 828 929.9 830.5 924.1 833 918.1 835.5 911.9 838 905.5 840.5 899.1 843 892.7 845.5 886.2 848 879.7 850.5 873.2 853 866.5 855.5 859.9 858 853.1 860.5 846.4 863 839.7 865.5 833 868 826.4 870.5 820 873 813.8 875.5 807.7 878 802 880.5 796.5 883 791.4 885.5 786.7 888 782.5 890.5 778.7 893 775.5 895.5 772.9 898 771.1 900.5 770 903 769.8 905.5 770.4 908 771.8 910.5 774 913 777 915.5 780.7 918 785.2 920.5 790.3 923 796 925.5 802.2 928 809 930.5 816.2 933 823.9 935.5 831.9 938 840.4 940.5 849.3 943 858.8 945.5 868.9 948 879.6 950.5 890.9 953 902.9 955.5 915.1 958 927.3 960.5 939.3 963 950.9 965.5 961.7 968 972.1 970.5 982.3 973 992.2 975.5 1001.8 978 1011.1 980.5 1020.1 983 1028.7 985.5 1036.9 988 1044.8 990.5 1052.2 993 1059.2 995.5 1065.7 998 1071.8 1000.5 1077.5 1003 1082.8 1005.5 1087.6 1008 1092.2 1010.5 1096.3 1013 1100.2 1015.5 1103.7 1018 1107 1020.5 1110 1023 1112.8 1025.5 1115.3 1028 1117.7 1030.5 1119.9 1033 1122 1035.5 1123.9 1038 1125.7 1040.5 1127.4 1043 1129 1045.5 1130.5 1048 1131.9 1050.5 1133.3 1053 1134.5 1055.5 1135.7 1058 1136.9 1060.5 1137.9 1063 1138.9 1065.5 1139.9 1068 1140.7 1070.5 1141.6 1073 1142.4 1075.5 1143.2 1078 1143.9 1080.5 1144.6 1083 1145.3 1085.5 1146 1088 1146.7 1090.5 1147.3 1093 1147.9 1095.5 1148.5 1098 1149 1100.5 1149.6 1103 1150.1 1105.5 1150.6 1108 1151.1 1110.5 1151.6 1113 1152 1115.5 1152.5 1118 1152.9 1120.5 1153.3 1123 1153.7 1125.5 1154.1 1128 1154.5 1130.5 1154.8 1133 1155.1 1135.5 1155.5 1138 1155.8 1140.5 1156.1 1143 1156.4 1145.5 1156.7 1148 1157 1150.5 1157.3 1153 1157.5 1155.5 1157.8 1158 1158 1160.5 1158.3 1163 1158.5 1165.5 1158.8 1168 1159 1170.5 1159.3 1173 1159.5 1175.5 1159.7 1178 1159.9 1180.5 1160.2 1183 1160.4 1185.5 1160.6 1188 1160.8 1190.5 1161 1193 1161.2 1195.5 1161.4 1198 1161.6 1200.5 1161.7 1203 1161.9 1205.5 1162.1 1208 1162.2 1210.5 1162.4 1213 1162.6 1215.5 1162.7 1218 1162.9 1220.5 1163 1223 1163.1 1225.5 1163.3 1228 1163.4 1230.5 1163.5 1233 1163.6 1235.5 1163.7 1238 1163.8 1240.5 1163.9 1243 1164 1245.5 1164.1 1248 1164.2 1250.5 1164.3 1253 1164.3 1255.5 1164.4 1258 1164.5 1260.5 1164.5 1263 1164.6 1265.5 1164.6 1268 1164.6 1270.5 1164.7 1273 1164.7 1275.5 1164.7 1278 1164.7 1280.5 1164.7 1283 1164.7 1285.5 1164.7 1288 1164.7 1290.5 1164.7 1293 1164.7 1295.5 1164.7 1298 1164.6 1300.5 1164.6 1303 1164.5 1305.5 1164.5 1308 1164.4 1310.5 1164.4 1313 1164.3 1315.5 1164.2 1318 1164.1 1320.5 1164 1323 1163.9 1325.5 1163.8 1328 1163.7 1330.5 1163.6 1333 1163.5 1335.5 1163.4 1338 1163.3 1340.5 1163.1 1343 1163 1345.5 1162.8 1348 1162.7 1350.5 1162.5 1353 1162.4 1355.5 1162.2 1358 1162 1360.5 1161.8 1363 1161.7 1365.5 1161.5 1368 1161.3 1370.5 1161.1 1373 1160.9 1375.5 1160.7 1378 1160.4 1380.5 1160.2 1383 1160 1385.5 1159.8 1388 1159.5 1390.5 1159.3 1393 1159 1395.5 1158.8 1398 1158.5 1400.5 1158.3 1403 1158 1405.5 1157.7 1408 1157.5 1409.4 1157.3" fill="none" stroke="#7aa5b0" stroke-width="2.70" stroke-linejoin="round"/>
<path d="M90.5 1175.5 93 1175.6 95.5 1175.7 98 1175.8 100.5 1175.9 103 1176 105.5 1176.1 108 1176.3 110.5 1176.4 113 1176.5 115.5 1176.6 118 1176.7 120.5 1176.8 123 1176.9 125.5 1177 128 1177.1 130.5 1177.2 133 1177.3 135.5 1177.4 138 1177.5 140.5 1177.6 143 1177.7 145.5 1177.8 148 1177.9 150.5 1178 153 1178.1 155.5 1178.2 158 1178.3 160.5 1178.4 163 1178.5 165.5 1178.5 168 1178.6 170.5 1178.7 173 1178.8 175.5 1178.8 178 1178.9 180.5 1179 183 1179.1 185.5 1179.1 188 1179.2 190.5 1179.2 193 1179.3 195.5 1179.3 198 1179.4 200.5 1179.4 203 1179.5 205.5 1179.5 208 1179.5 210.5 1179.6 213 1179.6 215.5 1179.6 218 1179.6 220.5 1179.7 223 1179.7 225.5 1179.7 228 1179.7 230.5 1179.7 233 1179.7 235.5 1179.7 238 1179.7 240.5 1179.6 243 1179.6 245.5 1179.6 248 1179.5 250.5 1179.5 253 1179.5 255.5 1179.4 258 1179.4 260.5 1179.3 263 1179.2 265.5 1179.2 268 1179.1 270.5 1179 273 1178.9 275.5 1178.8 278 1178.7 280.5 1178.6 283 1178.5 285.5 1178.4 288 1178.2 290.5 1178.1 293 1178 295.5 1177.8 298 1177.7 300.5 1177.5 303 1177.3 305.5 1177.2 308 1177 310.5 1176.8 313 1176.6 315.5 1176.4 318 1176.1 320.5 1175.9 323 1175.7 325.5 1175.4 328 1175.2 330.5 1174.9 333 1174.6 335.5 1174.4 338 1174.1 340.5 1173.8 343 1173.4 345.5 1173.1 348 1172.8 350.5 1172.4 353 1172.1 355.5 1171.7 358 1171.3 360.5 1170.9 363 1170.5 365.5 1170.1 368 1169.7 370.5 1169.2 373 1168.8 375.5 1168.3 378 1167.8 380.5 1167.4 383 1166.8 385.5 1166.3 388 1165.8 390.5 1165.2 393 1164.7 395.5 1164.1 398 1163.5 400.5 1162.9 403 1162.2 405.5 1161.6 408 1160.9 410.5 1160.1 413 1159.4 415.5 1158.5 418 1157.6 420.5 1156.6 423 1155.5 425.5 1154.3 428 1153 430.5 1151.7 433 1150.2 435.5 1148.5 438 1146.8 440.5 1144.9 443 1142.9 445.5 1140.7 448 1138.3 450.5 1135.8 453 1133.1 455.5 1130.2 458 1127.1 460.5 1123.8 463 1120.3 465.5 1116.6 468 1112.7 470.5 1108.5 473 1104.1 475.5 1099.5 478 1094.5 480.5 1089.4 483 1083.9 485.5 1078.2 488 1072.3 490.5 1066.1 493 1060 495.5 1054 498 1048.5 500.5 1043.6 503 1039.8 505.5 1037 508 1034.9 510.5 1033.3 513 1032.1 515.5 1031.2 518 1030.6 520.5 1030.6 523 1031.2 525.5 1032.1 528 1033.5 530.5 1035.2 533 1037.2 535.5 1039.4 538 1041.7 540.5 1044.1 543 1046.6 545.5 1049.1 548 1051.4 550.5 1053.7 553 1055.7 555.5 1057.6 558 1059.4 560.5 1061 563 1062.4 565.5 1063.8 568 1064.9 570.5 1065.9 573 1066.8 575.5 1067.6 578 1068.2 580.5 1068.7 583 1069.1 585.5 1069.4 588 1069.5 590.5 1069.6 593 1069.4 595.5 1069.2 598 1068.9 600.5 1068.4 603 1067.8 605.5 1067.1 608 1066.3 610.5 1065.4 613 1064.4 615.5 1063.2 618 1062 620.5 1060.7 623 1059.3 625.5 1057.9 628 1056.3 630.5 1054.7 633 1053.1 635.5 1051.4 638 1049.7 640.5 1047.9 643 1046.1 645.5 1044.3 648 1042.5 650.5 1040.6 653 1038.7 655.5 1036.8 658 1035 660.5 1033.1 663 1031.2 665.5 1029.4 668 1027.6 670.5 1025.8 673 1024 675.5 1022.3 678 1020.6 680.5 1019 683 1017.4 685.5 1015.8 688 1014.3 690.5 1012.8 693 1011.3 695.5 1009.9 698 1008.6 700.5 1007.2 703 1006 705.5 1004.7 708 1003.5 710.5 1002.4 713 1001.3 715.5 1000.2 718 999.1 720.5 998.1 723 997.1 725.5 996.2 728 995.3 730.5 994.4 733 993.5 735.5 992.6 738 991.8 740.5 991 743 990.3 745.5 989.5 748 988.7 750.5 988 753 987.3 755.5 986.5 758 985.8 760.5 985.1 763 984.4 765.5 983.6 768 982.8 770.5 982 773 981.1 775.5 980.1 778 979 780.5 977.8 783 976.5 785.5 975 788 973.4 790.5 971.5 793 969.5 795.5 967.2 798 964.7 800.5 961.8 803 958.7 805.5 955.2 808 951.4 810.5 947.3 813 942.9 815.5 938.3 818 933.5 820.5 928.5 823 923.3 825.5 917.8 828 911.9 830.5 905.7 833 899.1 835.5 892.3 838 885.5 840.5 878.6 843 871.8 845.5 864.9 848 858 850.5 851.1 853 844.1 855.5 837 858 829.9 860.5 822.7 863 815.5 865.5 808.4 868 801.4 870.5 794.5 873 787.9 875.5 781.4 878 775.2 880.5 769.4 883 763.9 885.5 758.8 888 754.2 890.5 750.1 893 746.6 895.5 743.8 898 741.7 900.5 740.5 903 740.3 905.5 741 908 742.5 910.5 745 913 748.3 915.5 752.4 918 757.2 920.5 762.8 923 769.1 925.5 775.9 928 783.2 930.5 791.1 933 799.3 935.5 808 938 817.1 940.5 826.7 943 836.9 945.5 847.8 948 859.5 950.5 871.9 953 885 955.5 898.5 958 911.9 960.5 925.1 963 937.6 965.5 949.2 968 960.4 970.5 971.2 973 981.8 975.5 992.1 978 1002 980.5 1011.6 983 1020.8 985.5 1029.6 988 1038 990.5 1046 993 1053.5 995.5 1060.5 998 1067.1 1000.5 1073.3 1003 1079.1 1005.5 1084.4 1008 1089.4 1010.5 1094 1013 1098.3 1015.5 1102.3 1018 1105.9 1020.5 1109.3 1023 1112.4 1025.5 1115.3 1028 1118 1030.5 1120.5 1033 1122.8 1035.5 1125 1038 1127 1040.5 1128.9 1043 1130.7 1045.5 1132.4 1048 1134 1050.5 1135.5 1053 1136.8 1055.5 1138.1 1058 1139.3 1060.5 1140.5 1063 1141.5 1065.5 1142.5 1068 1143.5 1070.5 1144.4 1073 1145.2 1075.5 1146.1 1078 1146.8 1080.5 1147.6 1083 1148.3 1085.5 1149 1088 1149.7 1090.5 1150.3 1093 1151 1095.5 1151.6 1098 1152.2 1100.5 1152.7 1103 1153.3 1105.5 1153.8 1108 1154.3 1110.5 1154.8 1113 1155.2 1115.5 1155.7 1118 1156.1 1120.5 1156.5 1123 1156.9 1125.5 1157.3 1128 1157.7 1130.5 1158 1133 1158.4 1135.5 1158.7 1138 1159 1140.5 1159.4 1143 1159.7 1145.5 1160 1148 1160.2 1150.5 1160.5 1153 1160.8 1155.5 1161 1158 1161.3 1160.5 1161.5 1163 1161.8 1165.5 1162 1168 1162.3 1170.5 1162.5 1173 1162.7 1175.5 1163 1178 1163.2 1180.5 1163.4 1183 1163.6 1185.5 1163.8 1188 1164 1190.5 1164.2 1193 1164.4 1195.5 1164.6 1198 1164.8 1200.5 1164.9 1203 1165.1 1205.5 1165.3 1208 1165.4 1210.5 1165.6 1213 1165.8 1215.5 1165.9 1218 1166.1 1220.5 1166.2 1223 1166.3 1225.5 1166.5 1228 1166.6 1230.5 1166.7 1233 1166.8 1235.5 1167 1238 1167.1 1240.5 1167.2 1243 1167.3 1245.5 1167.4 1248 1167.5 1250.5 1167.5 1253 1167.6 1255.5 1167.7 1258 1167.8 1260.5 1167.8 1263 1167.9 1265.5 1168 1268 1168 1270.5 1168.1 1273 1168.1 1275.5 1168.1 1278 1168.2 1280.5 1168.2 1283 1168.2 1285.5 1168.2 1288 1168.3 1290.5 1168.3 1293 1168.3 1295.5 1168.3 1298 1168.3 1300.5 1168.3 1303 1168.3 1305.5 1168.2 1308 1168.2 1310.5 1168.2 1313 1168.2 1315.5 1168.1 1318 1168.1 1320.5 1168.1 1323 1168 1325.5 1168 1328 1167.9 1330.5 1167.9 1333 1167.8 1335.5 1167.7 1338 1167.7 1340.5 1167.6 1343 1167.5 1345.5 1167.4 1348 1167.4 1350.5 1167.3 1353 1167.2 1355.5 1167.1 1358 1167 1360.5 1166.9 1363 1166.8 1365.5 1166.7 1368 1166.6 1370.5 1166.5 1373 1166.4 1375.5 1166.3 1378 1166.2 1380.5 1166 1383 1165.9 1385.5 1165.8 1388 1165.7 1390.5 1165.6 1393 1165.4 1395.5 1165.3 1398 1165.2 1400.5 1165.1 1403 1164.9 1405.5 1164.8 1408 1164.7 1409.4 1164.6" fill="none" stroke="#b5d6a7" stroke-width="2.70" stroke-linejoin="round"/>
<path d="M90.5 1175.9 93 1176 95.5 1176.1 98 1176.3 100.5 1176.4 103 1176.5 105.5 1176.6 108 1176.7 110.5 1176.8 113 1176.9 115.5 1177.1 118 1177.2 120.5 1177.3 123 1177.4 125.5 1177.5 128 1177.6 130.5 1177.7 133 1177.8 135.5 1177.9 138 1178 140.5 1178.2 143 1178.3 145.5 1178.4 148 1178.5 150.5 1178.6 153 1178.7 155.5 1178.7 158 1178.8 160.5 1178.9 163 1179 165.5 1179.1 168 1179.2 170.5 1179.3 173 1179.4 175.5 1179.4 178 1179.5 180.5 1179.6 183 1179.7 185.5 1179.7 188 1179.8 190.5 1179.9 193 1179.9 195.5 1180 198 1180 200.5 1180.1 203 1180.1 205.5 1180.2 208 1180.2 210.5 1180.2 213 1180.3 215.5 1180.3 218 1180.3 220.5 1180.4 223 1180.4 225.5 1180.4 228 1180.4 230.5 1180.4 233 1180.4 235.5 1180.4 238 1180.4 240.5 1180.4 243 1180.4 245.5 1180.3 248 1180.3 250.5 1180.3 253 1180.3 255.5 1180.2 258 1180.2 260.5 1180.1 263 1180.1 265.5 1180 268 1179.9 270.5 1179.9 273 1179.8 275.5 1179.7 278 1179.6 280.5 1179.5 283 1179.4 285.5 1179.3 288 1179.2 290.5 1179.1 293 1178.9 295.5 1178.8 298 1178.7 300.5 1178.5 303 1178.4 305.5 1178.2 308 1178 310.5 1177.9 313 1177.7 315.5 1177.5 318 1177.3 320.5 1177.1 323 1176.8 325.5 1176.6 328 1176.4 330.5 1176.1 333 1175.8 335.5 1175.6 338 1175.3 340.5 1175 343 1174.7 345.5 1174.4 348 1174.1 350.5 1173.7 353 1173.4 355.5 1173 358 1172.7 360.5 1172.3 363 1171.9 365.5 1171.5 368 1171.1 370.5 1170.7 373 1170.2 375.5 1169.8 378 1169.3 380.5 1168.8 383 1168.3 385.5 1167.8 388 1167.3 390.5 1166.8 393 1166.2 395.5 1165.6 398 1165.1 400.5 1164.5 403 1163.9 405.5 1163.2 408 1162.5 410.5 1161.8 413 1161.1 415.5 1160.3 418 1159.4 420.5 1158.5 423 1157.4 425.5 1156.3 428 1155.1 430.5 1153.8 433 1152.4 435.5 1150.9 438 1149.3 440.5 1147.5 443 1145.6 445.5 1143.5 448 1141.3 450.5 1138.9 453 1136.4 455.5 1133.7 458 1130.8 460.5 1127.7 463 1124.4 465.5 1120.8 468 1117.1 470.5 1113.1 473 1108.9 475.5 1104.5 478 1099.8 480.5 1094.9 483 1089.7 485.5 1084.3 488 1078.6 490.5 1072.7 493 1066.8 495.5 1061.1 498 1055.8 500.5 1051.1 503 1047.5 505.5 1044.9 508 1042.9 510.5 1041.3 513 1040.1 515.5 1039.1 518 1038.4 520.5 1038.2 523 1038.6 525.5 1039.3 528 1040.4 530.5 1041.9 533 1043.6 535.5 1045.6 538 1047.7 540.5 1049.9 543 1052.1 545.5 1054.4 548 1056.5 550.5 1058.6 553 1060.5 555.5 1062.2 558 1063.9 560.5 1065.3 563 1066.6 565.5 1067.8 568 1068.9 570.5 1069.8 573 1070.6 575.5 1071.2 578 1071.8 580.5 1072.2 583 1072.5 585.5 1072.7 588 1072.8 590.5 1072.7 593 1072.5 595.5 1072.2 598 1071.8 600.5 1071.3 603 1070.6 605.5 1069.9 608 1069 610.5 1068 613 1066.9 615.5 1065.7 618 1064.4 620.5 1063.1 623 1061.6 625.5 1060 628 1058.4 630.5 1056.8 633 1055 635.5 1053.2 638 1051.4 640.5 1049.6 643 1047.7 645.5 1045.7 648 1043.8 650.5 1041.8 653 1039.8 655.5 1037.8 658 1035.7 660.5 1033.7 663 1031.7 665.5 1029.7 668 1027.7 670.5 1025.7 673 1023.7 675.5 1021.8 678 1019.9 680.5 1018.1 683 1016.2 685.5 1014.4 688 1012.6 690.5 1010.9 693 1009.2 695.5 1007.5 698 1005.9 700.5 1004.3 703 1002.7 705.5 1001.2 708 999.7 710.5 998.3 713 996.8 715.5 995.5 718 994.1 720.5 992.8 723 991.5 725.5 990.3 728 989.1 730.5 987.9 733 986.7 735.5 985.6 738 984.5 740.5 983.5 743 982.4 745.5 981.4 748 980.4 750.5 979.5 753 978.5 755.5 977.6 758 976.7 760.5 975.8 763 974.9 765.5 974.1 768 973.1 770.5 972.1 773 971.1 775.5 970 778 968.7 780.5 967.3 783 965.8 785.5 964.1 788 962.3 790.5 960.2 793 957.9 795.5 955.3 798 952.4 800.5 949.2 803 945.6 805.5 941.6 808 937.4 810.5 932.8 813 928 815.5 923 818 917.8 820.5 912.5 823 906.9 825.5 901 828 894.7 830.5 888 833 880.9 835.5 873.7 838 866.4 840.5 859.1 843 851.9 845.5 844.7 848 837.4 850.5 830.2 853 822.8 855.5 815.4 858 807.9 860.5 800.3 863 792.8 865.5 785.3 868 777.9 870.5 770.6 873 763.6 875.5 756.7 878 750.2 880.5 744 883 738.2 885.5 732.8 888 727.9 890.5 723.6 893 719.9 895.5 716.9 898 714.8 900.5 713.6 903 713.4 905.5 714.2 908 716 910.5 718.7 913 722.3 915.5 726.8 918 732.2 920.5 738.2 923 745 925.5 752.4 928 760.3 930.5 768.7 933 777.6 935.5 786.8 938 796.5 940.5 806.8 943 817.7 945.5 829.3 948 841.8 950.5 855.2 953 869.4 955.5 883.9 958 898.4 960.5 912.6 963 925.9 965.5 938.3 968 950.1 970.5 961.6 973 972.7 975.5 983.6 978 994.1 980.5 1004.2 983 1014 985.5 1023.3 988 1032.1 990.5 1040.5 993 1048.5 995.5 1056 998 1063 1000.5 1069.7 1003 1075.8 1005.5 1081.6 1008 1087 1010.5 1092 1013 1096.6 1015.5 1101 1018 1105 1020.5 1108.7 1023 1112.1 1025.5 1115.3 1028 1118.3 1030.5 1121.1 1033 1123.6 1035.5 1126 1038 1128.3 1040.5 1130.3 1043 1132.3 1045.5 1134.1 1048 1135.8 1050.5 1137.4 1053 1138.9 1055.5 1140.3 1058 1141.6 1060.5 1142.8 1063 1144 1065.5 1145.1 1068 1146.1 1070.5 1147 1073 1147.9 1075.5 1148.8 1078 1149.6 1080.5 1150.4 1083 1151.1 1085.5 1151.9 1088 1152.6 1090.5 1153.3 1093 1153.9 1095.5 1154.6 1098 1155.2 1100.5 1155.8 1103 1156.3 1105.5 1156.9 1108 1157.4 1110.5 1157.9 1113 1158.4 1115.5 1158.9 1118 1159.3 1120.5 1159.8 1123 1160.2 1125.5 1160.6 1128 1161 1130.5 1161.4 1133 1161.7 1135.5 1162.1 1138 1162.4 1140.5 1162.7 1143 1163 1145.5 1163.3 1148 1163.6 1150.5 1163.9 1153 1164.2 1155.5 1164.5 1158 1164.7 1160.5 1165 1163 1165.3 1165.5 1165.5 1168 1165.7 1170.5 1166 1173 1166.2 1175.5 1166.4 1178 1166.7 1180.5 1166.9 1183 1167.1 1185.5 1167.3 1188 1167.5 1190.5 1167.7 1193 1167.9 1195.5 1168.1 1198 1168.3 1200.5 1168.5 1203 1168.7 1205.5 1168.8 1208 1169 1210.5 1169.2 1213 1169.3 1215.5 1169.5 1218 1169.6 1220.5 1169.8 1223 1169.9 1225.5 1170 1228 1170.2 1230.5 1170.3 1233 1170.4 1235.5 1170.5 1238 1170.7 1240.5 1170.8 1243 1170.9 1245.5 1171 1248 1171.1 1250.5 1171.1 1253 1171.2 1255.5 1171.3 1258 1171.4 1260.5 1171.5 1263 1171.5 1265.5 1171.6 1268 1171.7 1270.5 1171.7 1273 1171.8 1275.5 1171.8 1278 1171.8 1280.5 1171.9 1283 1171.9 1285.5 1171.9 1288 1172 1290.5 1172 1293 1172 1295.5 1172 1298 1172 1300.5 1172 1303 1172 1305.5 1172 1308 1172 1310.5 1172 1313 1172 1315.5 1172 1318 1172 1320.5 1172 1323 1171.9 1325.5 1171.9 1328 1171.9 1330.5 1171.8 1333 1171.8 1335.5 1171.8 1338 1171.7 1340.5 1171.7 1343 1171.6 1345.5 1171.6 1348 1171.5 1350.5 1171.5 1353 1171.4 1355.5 1171.3 1358 1171.3 1360.5 1171.2 1363 1171.2 1365.5 1171.1 1368 1171 1370.5 1171 1373 1170.9 1375.5 1170.8 1378 1170.7 1380.5 1170.7 1383 1170.6 1385.5 1170.5 1388 1170.4 1390.5 1170.4 1393 1170.3 1395.5 1170.2 1398 1170.1 1400.5 1170.1 1403 1170 1405.5 1169.9 1408 1169.9 1409.4 1169.8" fill="none" stroke="#fee08f" stroke-width="2.70" stroke-linejoin="round"/>
<path d="M90.5 1176.3 93 1176.4 95.5 1176.6 98 1176.7 100.5 1176.8 103 1176.9 105.5 1177 108 1177.2 110.5 1177.3 113 1177.4 115.5 1177.5 118 1177.6 120.5 1177.8 123 1177.9 125.5 1178 128 1178.1 130.5 1178.2 133 1178.3 135.5 1178.5 138 1178.6 140.5 1178.7 143 1178.8 145.5 1178.9 148 1179 150.5 1179.1 153 1179.2 155.5 1179.3 158 1179.4 160.5 1179.5 163 1179.6 165.5 1179.7 168 1179.8 170.5 1179.8 173 1179.9 175.5 1180 178 1180.1 180.5 1180.2 183 1180.2 185.5 1180.3 188 1180.4 190.5 1180.4 193 1180.5 195.5 1180.6 198 1180.6 200.5 1180.7 203 1180.7 205.5 1180.8 208 1180.8 210.5 1180.9 213 1180.9 215.5 1180.9 218 1181 220.5 1181 223 1181 225.5 1181 228 1181 230.5 1181.1 233 1181.1 235.5 1181.1 238 1181.1 240.5 1181.1 243 1181 245.5 1181 248 1181 250.5 1181 253 1180.9 255.5 1180.9 258 1180.9 260.5 1180.8 263 1180.8 265.5 1180.7 268 1180.7 270.5 1180.6 273 1180.5 275.5 1180.5 278 1180.4 280.5 1180.3 283 1180.2 285.5 1180.1 288 1180 290.5 1179.9 293 1179.8 295.5 1179.6 298 1179.5 300.5 1179.4 303 1179.2 305.5 1179.1 308 1178.9 310.5 1178.7 313 1178.6 315.5 1178.4 318 1178.2 320.5 1178 323 1177.8 325.5 1177.6 328 1177.3 330.5 1177.1 333 1176.8 335.5 1176.6 338 1176.3 340.5 1176 343 1175.7 345.5 1175.4 348 1175.1 350.5 1174.8 353 1174.5 355.5 1174.1 358 1173.8 360.5 1173.4 363 1173 365.5 1172.6 368 1172.2 370.5 1171.8 373 1171.4 375.5 1171 378 1170.5 380.5 1170 383 1169.6 385.5 1169.1 388 1168.6 390.5 1168.1 393 1167.5 395.5 1167 398 1166.4 400.5 1165.8 403 1165.3 405.5 1164.6 408 1164 410.5 1163.3 413 1162.6 415.5 1161.8 418 1161 420.5 1160.1 423 1159.2 425.5 1158.2 428 1157.1 430.5 1155.9 433 1154.6 435.5 1153.2 438 1151.7 440.5 1150 443 1148.3 445.5 1146.4 448 1144.4 450.5 1142.2 453 1139.9 455.5 1137.4 458 1134.8 460.5 1132 463 1129 465.5 1125.8 468 1122.4 470.5 1118.8 473 1115 475.5 1110.9 478 1106.7 480.5 1102.2 483 1097.5 485.5 1092.6 488 1087.4 490.5 1082.1 493 1076.8 495.5 1071.6 498 1066.8 500.5 1062.5 503 1059.2 505.5 1056.8 508 1055 510.5 1053.5 513 1052.3 515.5 1051.3 518 1050.5 520.5 1050.2 523 1050.3 525.5 1050.8 528 1051.7 530.5 1052.8 533 1054.2 535.5 1055.8 538 1057.6 540.5 1059.4 543 1061.3 545.5 1063.2 548 1065 550.5 1066.8 553 1068.4 555.5 1069.8 558 1071.2 560.5 1072.4 563 1073.5 565.5 1074.4 568 1075.2 570.5 1075.9 573 1076.5 575.5 1077 578 1077.3 580.5 1077.5 583 1077.7 585.5 1077.7 588 1077.6 590.5 1077.4 593 1077.1 595.5 1076.6 598 1076.1 600.5 1075.4 603 1074.6 605.5 1073.8 608 1072.8 610.5 1071.7 613 1070.5 615.5 1069.2 618 1067.8 620.5 1066.3 623 1064.7 625.5 1063.1 628 1061.3 630.5 1059.5 633 1057.7 635.5 1055.8 638 1053.8 640.5 1051.8 643 1049.7 645.5 1047.7 648 1045.5 650.5 1043.4 653 1041.2 655.5 1039 658 1036.8 660.5 1034.5 663 1032.3 665.5 1030 668 1027.8 670.5 1025.6 673 1023.4 675.5 1021.2 678 1019 680.5 1016.9 683 1014.8 685.5 1012.7 688 1010.7 690.5 1008.6 693 1006.6 695.5 1004.7 698 1002.8 700.5 1000.9 703 999.1 705.5 997.3 708 995.6 710.5 993.9 713 992.2 715.5 990.6 718 989 720.5 987.5 723 986 725.5 984.5 728 983 730.5 981.6 733 980.3 735.5 978.9 738 977.6 740.5 976.3 743 975.1 745.5 973.9 748 972.7 750.5 971.5 753 970.3 755.5 969.2 758 968.1 760.5 967 763 965.9 765.5 964.8 768 963.7 770.5 962.5 773 961.3 775.5 959.9 778 958.4 780.5 956.8 783 955 785.5 953 788 950.8 790.5 948.3 793 945.6 795.5 942.6 798 939.2 800.5 935.4 803 931.3 805.5 926.8 808 921.9 810.5 916.7 813 911.2 815.5 905.5 818 899.7 820.5 893.8 823 887.6 825.5 881 828 874.1 830.5 866.6 833 858.8 835.5 850.7 838 842.6 840.5 834.5 843 826.6 845.5 818.7 848 810.8 850.5 802.8 853 794.8 855.5 786.6 858 778.3 860.5 770 863 761.6 865.5 753.3 868 745 870.5 736.9 873 729 875.5 721.3 878 713.9 880.5 706.9 883 700.3 885.5 694.1 888 688.5 890.5 683.4 893 679.1 895.5 675.5 898 672.9 900.5 671.3 903 670.9 905.5 671.7 908 673.5 910.5 676.4 913 680.5 915.5 685.5 918 691.4 920.5 698.3 923 705.9 925.5 714.1 928 723 930.5 732.4 933 742.3 935.5 752.6 938 763.3 940.5 774.7 943 786.9 945.5 799.9 948 813.9 950.5 828.9 953 844.9 955.5 861.2 958 877.6 960.5 893.4 963 908.2 965.5 921.9 968 934.7 970.5 947.2 973 959.4 975.5 971.2 978 982.6 980.5 993.6 983 1004.2 985.5 1014.3 988 1023.9 990.5 1033 993 1041.7 995.5 1049.8 998 1057.5 1000.5 1064.8 1003 1071.5 1005.5 1077.9 1008 1083.8 1010.5 1089.3 1013 1094.5 1015.5 1099.3 1018 1103.8 1020.5 1107.9 1023 1111.8 1025.5 1115.3 1028 1118.7 1030.5 1121.7 1033 1124.6 1035.5 1127.3 1038 1129.7 1040.5 1132 1043 1134.2 1045.5 1136.2 1048 1138 1050.5 1139.8 1053 1141.4 1055.5 1142.9 1058 1144.3 1060.5 1145.6 1063 1146.8 1065.5 1147.9 1068 1149 1070.5 1150 1073 1150.9 1075.5 1151.8 1078 1152.6 1080.5 1153.4 1083 1154.2 1085.5 1155 1088 1155.7 1090.5 1156.4 1093 1157.1 1095.5 1157.8 1098 1158.4 1100.5 1159 1103 1159.6 1105.5 1160.1 1108 1160.7 1110.5 1161.2 1113 1161.7 1115.5 1162.2 1118 1162.6 1120.5 1163.1 1123 1163.5 1125.5 1163.9 1128 1164.3 1130.5 1164.6 1133 1165 1135.5 1165.3 1138 1165.7 1140.5 1166 1143 1166.3 1145.5 1166.6 1148 1166.9 1150.5 1167.2 1153 1167.4 1155.5 1167.7 1158 1168 1160.5 1168.2 1163 1168.5 1165.5 1168.7 1168 1168.9 1170.5 1169.2 1173 1169.4 1175.5 1169.6 1178 1169.8 1180.5 1170 1183 1170.2 1185.5 1170.4 1188 1170.6 1190.5 1170.8 1193 1171 1195.5 1171.2 1198 1171.4 1200.5 1171.5 1203 1171.7 1205.5 1171.9 1208 1172 1210.5 1172.2 1213 1172.3 1215.5 1172.5 1218 1172.6 1220.5 1172.7 1223 1172.9 1225.5 1173 1228 1173.1 1230.5 1173.2 1233 1173.3 1235.5 1173.4 1238 1173.5 1240.5 1173.6 1243 1173.7 1245.5 1173.8 1248 1173.9 1250.5 1174 1253 1174.1 1255.5 1174.1 1258 1174.2 1260.5 1174.3 1263 1174.3 1265.5 1174.4 1268 1174.4 1270.5 1174.5 1273 1174.5 1275.5 1174.6 1278 1174.6 1280.5 1174.7 1283 1174.7 1285.5 1174.7 1288 1174.7 1290.5 1174.8 1293 1174.8 1295.5 1174.8 1298 1174.8 1300.5 1174.8 1303 1174.8 1305.5 1174.8 1308 1174.8 1310.5 1174.8 1313 1174.8 1315.5 1174.8 1318 1174.8 1320.5 1174.7 1323 1174.7 1325.5 1174.7 1328 1174.7 1330.5 1174.7 1333 1174.6 1335.5 1174.6 1338 1174.6 1340.5 1174.5 1343 1174.5 1345.5 1174.5 1348 1174.4 1350.5 1174.4 1353 1174.3 1355.5 1174.3 1358 1174.2 1360.5 1174.2 1363 1174.2 1365.5 1174.1 1368 1174.1 1370.5 1174 1373 1174 1375.5 1173.9 1378 1173.9 1380.5 1173.8 1383 1173.7 1385.5 1173.7 1388 1173.6 1390.5 1173.6 1393 1173.5 1395.5 1173.5 1398 1173.4 1400.5 1173.4 1403 1173.4 1405.5 1173.3 1408 1173.3 1409.4 1173.2" fill="none" stroke="#fdd869" stroke-width="2.70" stroke-linejoin="round"/>
<path d="M90.5 1176.7 93 1176.9 95.5 1177 98 1177.1 100.5 1177.2 103 1177.4 105.5 1177.5 108 1177.6 110.5 1177.8 113 1177.9 115.5 1178 118 1178.1 120.5 1178.2 123 1178.4 125.5 1178.5 128 1178.6 130.5 1178.7 133 1178.8 135.5 1179 138 1179.1 140.5 1179.2 143 1179.3 145.5 1179.4 148 1179.5 150.5 1179.6 153 1179.7 155.5 1179.8 158 1179.9 160.5 1180 163 1180.1 165.5 1180.2 168 1180.3 170.5 1180.4 173 1180.5 175.5 1180.6 178 1180.7 180.5 1180.8 183 1180.8 185.5 1180.9 188 1181 190.5 1181.1 193 1181.1 195.5 1181.2 198 1181.3 200.5 1181.3 203 1181.4 205.5 1181.4 208 1181.5 210.5 1181.5 213 1181.6 215.5 1181.6 218 1181.6 220.5 1181.7 223 1181.7 225.5 1181.7 228 1181.7 230.5 1181.8 233 1181.8 235.5 1181.8 238 1181.8 240.5 1181.8 243 1181.8 245.5 1181.8 248 1181.8 250.5 1181.8 253 1181.7 255.5 1181.7 258 1181.7 260.5 1181.6 263 1181.6 265.5 1181.6 268 1181.5 270.5 1181.5 273 1181.4 275.5 1181.3 278 1181.3 280.5 1181.2 283 1181.1 285.5 1181 288 1180.9 290.5 1180.8 293 1180.7 295.5 1180.6 298 1180.5 300.5 1180.4 303 1180.3 305.5 1180.1 308 1180 310.5 1179.8 313 1179.7 315.5 1179.5 318 1179.3 320.5 1179.1 323 1179 325.5 1178.7 328 1178.5 330.5 1178.3 333 1178.1 335.5 1177.8 338 1177.6 340.5 1177.3 343 1177.1 345.5 1176.8 348 1176.5 350.5 1176.2 353 1175.9 355.5 1175.6 358 1175.3 360.5 1174.9 363 1174.6 365.5 1174.2 368 1173.8 370.5 1173.5 373 1173.1 375.5 1172.7 378 1172.3 380.5 1171.8 383 1171.4 385.5 1170.9 388 1170.5 390.5 1170 393 1169.5 395.5 1169 398 1168.5 400.5 1168 403 1167.4 405.5 1166.9 408 1166.3 410.5 1165.7 413 1165 415.5 1164.4 418 1163.6 420.5 1162.9 423 1162.1 425.5 1161.2 428 1160.3 430.5 1159.2 433 1158.2 435.5 1157 438 1155.8 440.5 1154.4 443 1153 445.5 1151.5 448 1149.8 450.5 1148.1 453 1146.2 455.5 1144.3 458 1142.1 460.5 1139.9 463 1137.5 465.5 1135 468 1132.3 470.5 1129.4 473 1126.4 475.5 1123.3 478 1119.9 480.5 1116.4 483 1112.7 485.5 1108.9 488 1104.8 490.5 1100.6 493 1096.5 495.5 1092.4 498 1088.6 500.5 1085.2 503 1082.5 505.5 1080.5 508 1078.9 510.5 1077.6 513 1076.4 515.5 1075.5 518 1074.8 520.5 1074.3 523 1074.2 525.5 1074.4 528 1074.9 530.5 1075.5 533 1076.3 535.5 1077.3 538 1078.3 540.5 1079.4 543 1080.6 545.5 1081.7 548 1082.8 550.5 1083.8 553 1084.7 555.5 1085.4 558 1086.1 560.5 1086.7 563 1087.2 565.5 1087.5 568 1087.8 570.5 1088 573 1088 575.5 1088 578 1087.9 580.5 1087.7 583 1087.4 585.5 1087 588 1086.5 590.5 1086 593 1085.3 595.5 1084.5 598 1083.7 600.5 1082.7 603 1081.6 605.5 1080.5 608 1079.2 610.5 1077.9 613 1076.5 615.5 1074.9 618 1073.3 620.5 1071.6 623 1069.8 625.5 1068 628 1066 630.5 1064 633 1061.9 635.5 1059.8 638 1057.6 640.5 1055.3 643 1053 645.5 1050.6 648 1048.2 650.5 1045.8 653 1043.3 655.5 1040.8 658 1038.3 660.5 1035.7 663 1033.2 665.5 1030.6 668 1028 670.5 1025.4 673 1022.9 675.5 1020.3 678 1017.8 680.5 1015.3 683 1012.8 685.5 1010.4 688 1007.9 690.5 1005.6 693 1003.2 695.5 1000.9 698 998.7 700.5 996.5 703 994.3 705.5 992.3 708 990.2 710.5 988.3 713 986.3 715.5 984.4 718 982.6 720.5 980.8 723 979.1 725.5 977.4 728 975.8 730.5 974.2 733 972.6 735.5 971.1 738 969.6 740.5 968.2 743 966.7 745.5 965.4 748 964 750.5 962.7 753 961.4 755.5 960.2 758 959 760.5 957.7 763 956.6 765.5 955.3 768 954.1 770.5 952.8 773 951.4 775.5 949.9 778 948.3 780.5 946.5 783 944.5 785.5 942.3 788 939.9 790.5 937.2 793 934.2 795.5 930.9 798 927.1 800.5 923 803 918.5 805.5 913.5 808 908.1 810.5 902.5 813 896.6 815.5 890.4 818 884.2 820.5 877.8 823 871.2 825.5 864.3 828 856.8 830.5 848.9 833 840.5 835.5 831.9 838 823.2 840.5 814.7 843 806.3 845.5 797.9 848 789.6 850.5 781.2 853 772.7 855.5 764.1 858 755.3 860.5 746.5 863 737.6 865.5 728.8 868 720 870.5 711.4 873 702.9 875.5 694.7 878 686.9 880.5 679.4 883 672.3 885.5 665.7 888 659.7 890.5 654.2 893 649.5 895.5 645.7 898 642.9 900.5 641.2 903 640.7 905.5 641.5 908 643.5 910.5 646.7 913 651 915.5 656.4 918 662.8 920.5 670.1 923 678.3 925.5 687.1 928 696.6 930.5 706.7 933 717.2 935.5 728.1 938 739.5 940.5 751.6 943 764.6 945.5 778.4 948 793.4 950.5 809.6 953 826.7 955.5 844.3 958 861.9 960.5 878.9 963 894.7 965.5 909.2 968 922.8 970.5 936 973 948.9 975.5 961.4 978 973.5 980.5 985.1 983 996.3 985.5 1006.9 988 1017.1 990.5 1026.8 993 1036 995.5 1044.6 998 1052.8 1000.5 1060.6 1003 1067.8 1005.5 1074.7 1008 1081.1 1010.5 1087 1013 1092.6 1015.5 1097.8 1018 1102.7 1020.5 1107.2 1023 1111.4 1025.5 1115.3 1028 1119 1030.5 1122.3 1033 1125.5 1035.5 1128.4 1038 1131.1 1040.5 1133.6 1043 1135.9 1045.5 1138.1 1048 1140.1 1050.5 1142 1053 1143.7 1055.5 1145.3 1058 1146.8 1060.5 1148.2 1063 1149.4 1065.5 1150.6 1068 1151.7 1070.5 1152.8 1073 1153.8 1075.5 1154.7 1078 1155.6 1080.5 1156.4 1083 1157.2 1085.5 1158 1088 1158.8 1090.5 1159.5 1093 1160.2 1095.5 1160.9 1098 1161.6 1100.5 1162.2 1103 1162.8 1105.5 1163.4 1108 1163.9 1110.5 1164.4 1113 1165 1115.5 1165.4 1118 1165.9 1120.5 1166.4 1123 1166.8 1125.5 1167.2 1128 1167.6 1130.5 1168 1133 1168.3 1135.5 1168.7 1138 1169 1140.5 1169.4 1143 1169.7 1145.5 1170 1148 1170.3 1150.5 1170.5 1153 1170.8 1155.5 1171.1 1158 1171.3 1160.5 1171.6 1163 1171.8 1165.5 1172.1 1168 1172.3 1170.5 1172.5 1173 1172.7 1175.5 1173 1178 1173.2 1180.5 1173.4 1183 1173.6 1185.5 1173.8 1188 1174 1190.5 1174.1 1193 1174.3 1195.5 1174.5 1198 1174.7 1200.5 1174.8 1203 1175 1205.5 1175.2 1208 1175.3 1210.5 1175.4 1213 1175.6 1215.5 1175.7 1218 1175.9 1220.5 1176 1223 1176.1 1225.5 1176.2 1228 1176.4 1230.5 1176.5 1233 1176.6 1235.5 1176.7 1238 1176.8 1240.5 1176.9 1243 1177 1245.5 1177.1 1248 1177.1 1250.5 1177.2 1253 1177.3 1255.5 1177.4 1258 1177.4 1260.5 1177.5 1263 1177.6 1265.5 1177.6 1268 1177.7 1270.5 1177.7 1273 1177.8 1275.5 1177.8 1278 1177.8 1280.5 1177.9 1283 1177.9 1285.5 1178 1288 1178 1290.5 1178 1293 1178 1295.5 1178 1298 1178.1 1300.5 1178.1 1303 1178.1 1305.5 1178.1 1308 1178.1 1310.5 1178.1 1313 1178.1 1315.5 1178.1 1318 1178.1 1320.5 1178.1 1323 1178.1 1325.5 1178.1 1328 1178.1 1330.5 1178.1 1333 1178.1 1335.5 1178.1 1338 1178.1 1340.5 1178.1 1343 1178 1345.5 1178 1348 1178 1350.5 1178 1353 1178 1355.5 1178 1358 1177.9 1360.5 1177.9 1363 1177.9 1365.5 1177.9 1368 1177.9 1370.5 1177.9 1373 1177.8 1375.5 1177.8 1378 1177.8 1380.5 1177.8 1383 1177.8 1385.5 1177.8 1388 1177.8 1390.5 1177.7 1393 1177.7 1395.5 1177.7 1398 1177.7 1400.5 1177.7 1403 1177.7 1405.5 1177.7 1408 1177.7 1409.4 1177.7" fill="none" stroke="#fbbb1c" stroke-width="2.70" stroke-linejoin="round"/>
<path d="M90.5 1176.9 93 1177.1 95.5 1177.2 98 1177.3 100.5 1177.5 103 1177.6 105.5 1177.7 108 1177.9 110.5 1178 113 1178.1 115.5 1178.2 118 1178.4 120.5 1178.5 123 1178.6 125.5 1178.7 128 1178.9 130.5 1179 133 1179.1 135.5 1179.2 138 1179.3 140.5 1179.5 143 1179.6 145.5 1179.7 148 1179.8 150.5 1179.9 153 1180 155.5 1180.1 158 1180.2 160.5 1180.3 163 1180.4 165.5 1180.5 168 1180.6 170.5 1180.7 173 1180.8 175.5 1180.9 178 1181 180.5 1181.1 183 1181.1 185.5 1181.2 188 1181.3 190.5 1181.4 193 1181.4 195.5 1181.5 198 1181.6 200.5 1181.6 203 1181.7 205.5 1181.7 208 1181.8 210.5 1181.8 213 1181.9 215.5 1181.9 218 1182 220.5 1182 223 1182 225.5 1182.1 228 1182.1 230.5 1182.1 233 1182.1 235.5 1182.1 238 1182.2 240.5 1182.2 243 1182.2 245.5 1182.2 248 1182.1 250.5 1182.1 253 1182.1 255.5 1182.1 258 1182.1 260.5 1182 263 1182 265.5 1182 268 1181.9 270.5 1181.9 273 1181.8 275.5 1181.8 278 1181.7 280.5 1181.6 283 1181.6 285.5 1181.5 288 1181.4 290.5 1181.3 293 1181.2 295.5 1181.1 298 1181 300.5 1180.9 303 1180.8 305.5 1180.7 308 1180.5 310.5 1180.4 313 1180.2 315.5 1180.1 318 1179.9 320.5 1179.7 323 1179.6 325.5 1179.4 328 1179.2 330.5 1179 333 1178.7 335.5 1178.5 338 1178.3 340.5 1178 343 1177.8 345.5 1177.5 348 1177.3 350.5 1177 353 1176.7 355.5 1176.4 358 1176.1 360.5 1175.8 363 1175.4 365.5 1175.1 368 1174.8 370.5 1174.4 373 1174 375.5 1173.6 378 1173.3 380.5 1172.9 383 1172.4 385.5 1172 388 1171.6 390.5 1171.1 393 1170.7 395.5 1170.2 398 1169.7 400.5 1169.2 403 1168.7 405.5 1168.2 408 1167.7 410.5 1167.1 413 1166.5 415.5 1165.9 418 1165.3 420.5 1164.6 423 1163.8 425.5 1163.1 428 1162.2 430.5 1161.3 433 1160.4 435.5 1159.4 438 1158.3 440.5 1157.2 443 1155.9 445.5 1154.6 448 1153.2 450.5 1151.8 453 1150.2 455.5 1148.5 458 1146.7 460.5 1144.8 463 1142.8 465.5 1140.7 468 1138.4 470.5 1136 473 1133.5 475.5 1130.9 478 1128.1 480.5 1125.2 483 1122.1 485.5 1118.9 488 1115.5 490.5 1112.1 493 1108.6 495.5 1105.2 498 1102 500.5 1099.1 503 1096.8 505.5 1095 508 1093.5 510.5 1092.3 513 1091.2 515.5 1090.4 518 1089.6 520.5 1089.2 523 1089 525.5 1089 528 1089.2 530.5 1089.5 533 1090 535.5 1090.5 538 1091.2 540.5 1091.9 543 1092.6 545.5 1093.2 548 1093.9 550.5 1094.4 553 1094.9 555.5 1095.3 558 1095.5 560.5 1095.7 563 1095.9 565.5 1095.9 568 1095.8 570.5 1095.7 573 1095.5 575.5 1095.1 578 1094.8 580.5 1094.3 583 1093.7 585.5 1093.1 588 1092.4 590.5 1091.6 593 1090.7 595.5 1089.7 598 1088.7 600.5 1087.5 603 1086.3 605.5 1085 608 1083.6 610.5 1082.1 613 1080.5 615.5 1078.9 618 1077.1 620.5 1075.3 623 1073.4 625.5 1071.4 628 1069.3 630.5 1067.2 633 1064.9 635.5 1062.6 638 1060.3 640.5 1057.8 643 1055.3 645.5 1052.8 648 1050.2 650.5 1047.6 653 1044.9 655.5 1042.2 658 1039.4 660.5 1036.6 663 1033.8 665.5 1031 668 1028.2 670.5 1025.3 673 1022.5 675.5 1019.6 678 1016.8 680.5 1014 683 1011.2 685.5 1008.5 688 1005.7 690.5 1003 693 1000.4 695.5 997.8 698 995.2 700.5 992.7 703 990.3 705.5 987.9 708 985.6 710.5 983.3 713 981.1 715.5 978.9 718 976.8 720.5 974.7 723 972.7 725.5 970.8 728 968.9 730.5 967 733 965.2 735.5 963.4 738 961.7 740.5 960 743 958.4 745.5 956.8 748 955.2 750.5 953.7 753 952.2 755.5 950.8 758 949.4 760.5 948 763 946.6 765.5 945.3 768 943.9 770.5 942.4 773 940.9 775.5 939.2 778 937.4 780.5 935.4 783 933.2 785.5 930.8 788 928.1 790.5 925.1 793 921.7 795.5 918 798 913.9 800.5 909.3 803 904.3 805.5 898.8 808 893 810.5 886.8 813 880.3 815.5 873.7 818 867 820.5 860.2 823 853.1 825.5 845.7 828 837.7 830.5 829.2 833 820.2 835.5 811 838 801.8 840.5 792.7 843 783.8 845.5 775 848 766.2 850.5 757.4 853 748.4 855.5 739.3 858 730 860.5 720.7 863 711.3 865.5 701.9 868 692.6 870.5 683.4 873 674.4 875.5 665.7 878 657.4 880.5 649.4 883 641.8 885.5 634.8 888 628.3 890.5 622.5 893 617.5 895.5 613.4 898 610.3 900.5 608.5 903 608.1 905.5 609 908 611.2 910.5 614.6 913 619.3 915.5 625.2 918 632.2 920.5 640.1 923 648.9 925.5 658.5 928 668.8 930.5 679.6 933 690.8 935.5 702.5 938 714.7 940.5 727.7 943 741.5 945.5 756.4 948 772.4 950.5 789.8 953 808.3 955.5 827.3 958 846.1 960.5 864.4 963 881.3 965.5 896.7 968 911.1 970.5 925 973 938.6 975.5 951.8 978 964.6 980.5 976.9 983 988.7 985.5 999.9 988 1010.7 990.5 1020.9 993 1030.6 995.5 1039.8 998 1048.5 1000.5 1056.7 1003 1064.4 1005.5 1071.7 1008 1078.5 1010.5 1084.9 1013 1090.9 1015.5 1096.5 1018 1101.7 1020.5 1106.6 1023 1111.1 1025.5 1115.3 1028 1119.2 1030.5 1122.9 1033 1126.2 1035.5 1129.4 1038 1132.3 1040.5 1134.9 1043 1137.4 1045.5 1139.7 1048 1141.9 1050.5 1143.8 1053 1145.7 1055.5 1147.3 1058 1148.9 1060.5 1150.3 1063 1151.7 1065.5 1152.9 1068 1154.1 1070.5 1155.1 1073 1156.1 1075.5 1157.1 1078 1158 1080.5 1158.9 1083 1159.7 1085.5 1160.5 1088 1161.3 1090.5 1162 1093 1162.7 1095.5 1163.4 1098 1164.1 1100.5 1164.7 1103 1165.3 1105.5 1165.9 1108 1166.5 1110.5 1167 1113 1167.5 1115.5 1168 1118 1168.5 1120.5 1168.9 1123 1169.4 1125.5 1169.8 1128 1170.2 1130.5 1170.6 1133 1170.9 1135.5 1171.3 1138 1171.6 1140.5 1171.9 1143 1172.2 1145.5 1172.5 1148 1172.8 1150.5 1173.1 1153 1173.3 1155.5 1173.6 1158 1173.8 1160.5 1174.1 1163 1174.3 1165.5 1174.5 1168 1174.8 1170.5 1175 1173 1175.2 1175.5 1175.4 1178 1175.6 1180.5 1175.8 1183 1176 1185.5 1176.2 1188 1176.3 1190.5 1176.5 1193 1176.7 1195.5 1176.8 1198 1177 1200.5 1177.2 1203 1177.3 1205.5 1177.5 1208 1177.6 1210.5 1177.7 1213 1177.9 1215.5 1178 1218 1178.1 1220.5 1178.2 1223 1178.3 1225.5 1178.5 1228 1178.6 1230.5 1178.7 1233 1178.8 1235.5 1178.9 1238 1178.9 1240.5 1179 1243 1179.1 1245.5 1179.2 1248 1179.3 1250.5 1179.3 1253 1179.4 1255.5 1179.5 1258 1179.5 1260.5 1179.6 1263 1179.6 1265.5 1179.7 1268 1179.7 1270.5 1179.8 1273 1179.8 1275.5 1179.9 1278 1179.9 1280.5 1179.9 1283 1180 1285.5 1180 1288 1180 1290.5 1180 1293 1180 1295.5 1180.1 1298 1180.1 1300.5 1180.1 1303 1180.1 1305.5 1180.1 1308 1180.1 1310.5 1180.1 1313 1180.1 1315.5 1180.1 1318 1180.1 1320.5 1180.1 1323 1180.1 1325.5 1180.1 1328 1180.1 1330.5 1180.1 1333 1180.1 1335.5 1180.1 1338 1180.1 1340.5 1180.1 1343 1180.1 1345.5 1180.1 1348 1180.1 1350.5 1180.1 1353 1180 1355.5 1180 1358 1180 1360.5 1180 1363 1180 1365.5 1180 1368 1180 1370.5 1180 1373 1180 1375.5 1180 1378 1180 1380.5 1180 1383 1180 1385.5 1179.9 1388 1179.9 1390.5 1180 1393 1180 1395.5 1180 1398 1180 1400.5 1180 1403 1180 1405.5 1180 1408 1180 1409.4 1180.0" fill="none" stroke="#e89a52" stroke-width="2.70" stroke-linejoin="round"/>
<path d="M90.5 1177.1 93 1177.3 95.5 1177.4 98 1177.5 100.5 1177.7 103 1177.8 105.5 1177.9 108 1178.1 110.5 1178.2 113 1178.3 115.5 1178.5 118 1178.6 120.5 1178.7 123 1178.9 125.5 1179 128 1179.1 130.5 1179.2 133 1179.4 135.5 1179.5 138 1179.6 140.5 1179.7 143 1179.8 145.5 1179.9 148 1180.1 150.5 1180.2 153 1180.3 155.5 1180.4 158 1180.5 160.5 1180.6 163 1180.7 165.5 1180.8 168 1180.9 170.5 1181 173 1181.1 175.5 1181.2 178 1181.3 180.5 1181.3 183 1181.4 185.5 1181.5 188 1181.6 190.5 1181.7 193 1181.7 195.5 1181.8 198 1181.9 200.5 1181.9 203 1182 205.5 1182 208 1182.1 210.5 1182.1 213 1182.2 215.5 1182.2 218 1182.3 220.5 1182.3 223 1182.3 225.5 1182.4 228 1182.4 230.5 1182.4 233 1182.4 235.5 1182.5 238 1182.5 240.5 1182.5 243 1182.5 245.5 1182.5 248 1182.5 250.5 1182.5 253 1182.5 255.5 1182.4 258 1182.4 260.5 1182.4 263 1182.4 265.5 1182.3 268 1182.3 270.5 1182.2 273 1182.2 275.5 1182.1 278 1182.1 280.5 1182 283 1182 285.5 1181.9 288 1181.8 290.5 1181.7 293 1181.6 295.5 1181.5 298 1181.4 300.5 1181.3 303 1181.2 305.5 1181.1 308 1181 310.5 1180.8 313 1180.7 315.5 1180.5 318 1180.4 320.5 1180.2 323 1180.1 325.5 1179.9 328 1179.7 330.5 1179.5 333 1179.3 335.5 1179.1 338 1178.9 340.5 1178.7 343 1178.4 345.5 1178.2 348 1177.9 350.5 1177.7 353 1177.4 355.5 1177.2 358 1176.9 360.5 1176.6 363 1176.3 365.5 1176 368 1175.7 370.5 1175.3 373 1175 375.5 1174.7 378 1174.3 380.5 1174 383 1173.6 385.5 1173.2 388 1172.8 390.5 1172.4 393 1172 395.5 1171.6 398 1171.2 400.5 1170.7 403 1170.3 405.5 1169.8 408 1169.3 410.5 1168.8 413 1168.3 415.5 1167.8 418 1167.3 420.5 1166.7 423 1166.1 425.5 1165.5 428 1164.8 430.5 1164.1 433 1163.4 435.5 1162.6 438 1161.8 440.5 1160.9 443 1160 445.5 1159 448 1158 450.5 1157 453 1155.9 455.5 1154.7 458 1153.4 460.5 1152.1 463 1150.8 465.5 1149.3 468 1147.8 470.5 1146.2 473 1144.6 475.5 1142.8 478 1141 480.5 1139.1 483 1137.1 485.5 1135 488 1132.9 490.5 1130.7 493 1128.4 495.5 1126.2 498 1124.2 500.5 1122.2 503 1120.6 505.5 1119.2 508 1118 510.5 1117 513 1116.1 515.5 1115.2 518 1114.5 520.5 1113.9 523 1113.5 525.5 1113.1 528 1112.9 530.5 1112.7 533 1112.5 535.5 1112.5 538 1112.4 540.5 1112.3 543 1112.3 545.5 1112.2 548 1112.1 550.5 1111.9 553 1111.6 555.5 1111.3 558 1111 560.5 1110.5 563 1110 565.5 1109.5 568 1108.9 570.5 1108.2 573 1107.5 575.5 1106.7 578 1105.9 580.5 1105 583 1104 585.5 1102.9 588 1101.8 590.5 1100.7 593 1099.4 595.5 1098.2 598 1096.8 600.5 1095.4 603 1093.8 605.5 1092.3 608 1090.6 610.5 1088.9 613 1087.1 615.5 1085.2 618 1083.2 620.5 1081.2 623 1079 625.5 1076.8 628 1074.5 630.5 1072.1 633 1069.6 635.5 1067.1 638 1064.5 640.5 1061.8 643 1059 645.5 1056.2 648 1053.3 650.5 1050.3 653 1047.3 655.5 1044.3 658 1041.2 660.5 1038 663 1034.8 665.5 1031.6 668 1028.4 670.5 1025.2 673 1021.9 675.5 1018.6 678 1015.4 680.5 1012.1 683 1008.9 685.5 1005.7 688 1002.5 690.5 999.4 693 996.3 695.5 993.3 698 990.3 700.5 987.4 703 984.5 705.5 981.8 708 979 710.5 976.4 713 973.8 715.5 971.3 718 968.8 720.5 966.5 723 964.1 725.5 961.9 728 959.6 730.5 957.5 733 955.4 735.5 953.4 738 951.4 740.5 949.4 743 947.6 745.5 945.7 748 944 750.5 942.2 753 940.6 755.5 938.9 758 937.3 760.5 935.8 763 934.3 765.5 932.7 768 931.2 770.5 929.5 773 927.8 775.5 925.9 778 923.9 780.5 921.6 783 919.1 785.5 916.4 788 913.3 790.5 909.9 793 906.1 795.5 901.9 798 897.2 800.5 892 803 886.3 805.5 880.1 808 873.5 810.5 866.5 813 859.3 815.5 851.9 818 844.4 820.5 836.8 823 829 825.5 820.9 828 812.1 830.5 802.6 833 792.6 835.5 782.4 838 772.2 840.5 762.2 843 752.4 845.5 742.8 848 733.1 850.5 723.5 853 713.7 855.5 703.6 858 693.4 860.5 683.1 863 672.7 865.5 662.4 868 652.1 870.5 641.9 873 632 875.5 622.3 878 613 880.5 604.1 883 595.7 885.5 587.9 888 580.6 890.5 574.1 893 568.5 895.5 563.9 898 560.5 900.5 558.5 903 558.1 905.5 559.1 908 561.6 910.5 565.6 913 570.9 915.5 577.6 918 585.5 920.5 594.5 923 604.4 925.5 615.2 928 626.7 930.5 638.7 933 651.3 935.5 664.3 938 677.8 940.5 692.2 943 707.5 945.5 723.9 948 741.7 950.5 761 953 781.6 955.5 802.6 958 823.6 960.5 843.6 963 862.2 965.5 879 968 894.6 970.5 909.7 973 924.4 975.5 938.7 978 952.5 980.5 965.7 983 978.4 985.5 990.5 988 1002 990.5 1013 993 1023.5 995.5 1033.4 998 1042.8 1000.5 1051.7 1003 1060 1005.5 1067.9 1008 1075.3 1010.5 1082.3 1013 1088.8 1015.5 1094.8 1018 1100.5 1020.5 1105.8 1023 1110.8 1025.5 1115.3 1028 1119.6 1030.5 1123.5 1033 1127.2 1035.5 1130.6 1038 1133.7 1040.5 1136.6 1043 1139.3 1045.5 1141.7 1048 1144 1050.5 1146.1 1053 1148 1055.5 1149.8 1058 1151.4 1060.5 1152.9 1063 1154.3 1065.5 1155.6 1068 1156.8 1070.5 1157.9 1073 1158.9 1075.5 1159.9 1078 1160.8 1080.5 1161.7 1083 1162.6 1085.5 1163.4 1088 1164.2 1090.5 1164.9 1093 1165.6 1095.5 1166.3 1098 1167 1100.5 1167.6 1103 1168.2 1105.5 1168.8 1108 1169.4 1110.5 1169.9 1113 1170.4 1115.5 1170.9 1118 1171.4 1120.5 1171.8 1123 1172.2 1125.5 1172.6 1128 1173 1130.5 1173.4 1133 1173.7 1135.5 1174.1 1138 1174.4 1140.5 1174.7 1143 1175 1145.5 1175.3 1148 1175.5 1150.5 1175.8 1153 1176 1155.5 1176.3 1158 1176.5 1160.5 1176.7 1163 1176.9 1165.5 1177.2 1168 1177.4 1170.5 1177.6 1173 1177.8 1175.5 1177.9 1178 1178.1 1180.5 1178.3 1183 1178.5 1185.5 1178.6 1188 1178.8 1190.5 1179 1193 1179.1 1195.5 1179.3 1198 1179.4 1200.5 1179.6 1203 1179.7 1205.5 1179.8 1208 1179.9 1210.5 1180.1 1213 1180.2 1215.5 1180.3 1218 1180.4 1220.5 1180.5 1223 1180.6 1225.5 1180.7 1228 1180.8 1230.5 1180.9 1233 1181 1235.5 1181 1238 1181.1 1240.5 1181.2 1243 1181.3 1245.5 1181.3 1248 1181.4 1250.5 1181.4 1253 1181.5 1255.5 1181.6 1258 1181.6 1260.5 1181.7 1263 1181.7 1265.5 1181.8 1268 1181.8 1270.5 1181.8 1273 1181.9 1275.5 1181.9 1278 1181.9 1280.5 1182 1283 1182 1285.5 1182 1288 1182 1290.5 1182.1 1293 1182.1 1295.5 1182.1 1298 1182.1 1300.5 1182.1 1303 1182.2 1305.5 1182.2 1308 1182.2 1310.5 1182.2 1313 1182.2 1315.5 1182.2 1318 1182.2 1320.5 1182.2 1323 1182.2 1325.5 1182.2 1328 1182.2 1330.5 1182.3 1333 1182.3 1335.5 1182.3 1338 1182.3 1340.5 1182.3 1343 1182.3 1345.5 1182.3 1348 1182.3 1350.5 1182.3 1353 1182.3 1355.5 1182.3 1358 1182.3 1360.5 1182.4 1363 1182.4 1365.5 1182.4 1368 1182.4 1370.5 1182.4 1373 1182.4 1375.5 1182.5 1378 1182.5 1380.5 1182.5 1383 1182.6 1385.5 1182.6 1388 1182.6 1390.5 1182.7 1393 1182.7 1395.5 1182.7 1398 1182.8 1400.5 1182.8 1403 1182.9 1405.5 1182.9 1408 1183 1409.4 1183.0" fill="none" stroke="#ff6d0a" stroke-width="2.70" stroke-linejoin="round"/>
<path d="M90.5 1177.1 93 1177.3 95.5 1177.4 98 1177.5 100.5 1177.7 103 1177.8 105.5 1177.9 108 1178.1 110.5 1178.2 113 1178.3 115.5 1178.5 118 1178.6 120.5 1178.7 123 1178.9 125.5 1179 128 1179.1 130.5 1179.2 133 1179.4 135.5 1179.5 138 1179.6 140.5 1179.7 143 1179.8 145.5 1180 148 1180.1 150.5 1180.2 153 1180.3 155.5 1180.4 158 1180.5 160.5 1180.6 163 1180.7 165.5 1180.8 168 1180.9 170.5 1181 173 1181.1 175.5 1181.2 178 1181.3 180.5 1181.4 183 1181.5 185.5 1181.5 188 1181.6 190.5 1181.7 193 1181.8 195.5 1181.8 198 1181.9 200.5 1182 203 1182 205.5 1182.1 208 1182.2 210.5 1182.2 213 1182.3 215.5 1182.3 218 1182.4 220.5 1182.4 223 1182.4 225.5 1182.5 228 1182.5 230.5 1182.5 233 1182.5 235.5 1182.6 238 1182.6 240.5 1182.6 243 1182.6 245.5 1182.6 248 1182.6 250.5 1182.6 253 1182.6 255.5 1182.6 258 1182.6 260.5 1182.5 263 1182.5 265.5 1182.5 268 1182.5 270.5 1182.4 273 1182.4 275.5 1182.3 278 1182.3 280.5 1182.2 283 1182.2 285.5 1182.1 288 1182 290.5 1181.9 293 1181.9 295.5 1181.8 298 1181.7 300.5 1181.6 303 1181.5 305.5 1181.4 308 1181.3 310.5 1181.1 313 1181 315.5 1180.9 318 1180.7 320.5 1180.6 323 1180.4 325.5 1180.3 328 1180.1 330.5 1179.9 333 1179.7 335.5 1179.5 338 1179.3 340.5 1179.1 343 1178.9 345.5 1178.7 348 1178.5 350.5 1178.3 353 1178 355.5 1177.8 358 1177.5 360.5 1177.3 363 1177 365.5 1176.7 368 1176.4 370.5 1176.1 373 1175.8 375.5 1175.5 378 1175.2 380.5 1174.9 383 1174.5 385.5 1174.2 388 1173.9 390.5 1173.5 393 1173.1 395.5 1172.8 398 1172.4 400.5 1172 403 1171.6 405.5 1171.2 408 1170.8 410.5 1170.4 413 1170 415.5 1169.5 418 1169.1 420.5 1168.6 423 1168.1 425.5 1167.6 428 1167.1 430.5 1166.6 433 1166.1 435.5 1165.5 438 1164.9 440.5 1164.4 443 1163.7 445.5 1163.1 448 1162.5 450.5 1161.8 453 1161.1 455.5 1160.4 458 1159.7 460.5 1158.9 463 1158.2 465.5 1157.4 468 1156.5 470.5 1155.7 473 1154.8 475.5 1153.9 478 1152.9 480.5 1152 483 1151 485.5 1150 488 1148.9 490.5 1147.8 493 1146.7 495.5 1145.6 498 1144.5 500.5 1143.5 503 1142.4 505.5 1141.5 508 1140.6 510.5 1139.7 513 1138.8 515.5 1137.9 518 1137.1 520.5 1136.3 523 1135.5 525.5 1134.8 528 1134 530.5 1133.2 533 1132.5 535.5 1131.8 538 1131 540.5 1130.2 543 1129.5 545.5 1128.7 548 1127.8 550.5 1127 553 1126.1 555.5 1125.2 558 1124.2 560.5 1123.2 563 1122.2 565.5 1121.2 568 1120.1 570.5 1119 573 1117.8 575.5 1116.6 578 1115.3 580.5 1114 583 1112.7 585.5 1111.3 588 1109.9 590.5 1108.4 593 1106.9 595.5 1105.3 598 1103.6 600.5 1101.9 603 1100.2 605.5 1098.4 608 1096.5 610.5 1094.5 613 1092.5 615.5 1090.4 618 1088.3 620.5 1086 623 1083.7 625.5 1081.3 628 1078.8 630.5 1076.2 633 1073.5 635.5 1070.7 638 1067.9 640.5 1065 643 1061.9 645.5 1058.9 648 1055.7 650.5 1052.5 653 1049.3 655.5 1045.9 658 1042.6 660.5 1039.1 663 1035.7 665.5 1032.1 668 1028.6 670.5 1025 673 1021.4 675.5 1017.8 678 1014.2 680.5 1010.6 683 1007 685.5 1003.5 688 1000 690.5 996.5 693 993 695.5 989.7 698 986.3 700.5 983.1 703 979.9 705.5 976.8 708 973.8 710.5 970.8 713 968 715.5 965.2 718 962.4 720.5 959.7 723 957.1 725.5 954.6 728 952.1 730.5 949.7 733 947.4 735.5 945.1 738 942.9 740.5 940.7 743 938.6 745.5 936.6 748 934.6 750.5 932.7 753 930.8 755.5 929 758 927.2 760.5 925.5 763 923.8 765.5 922.2 768 920.5 770.5 918.7 773 916.8 775.5 914.8 778 912.5 780.5 910.1 783 907.4 785.5 904.4 788 901.1 790.5 897.4 793 893.3 795.5 888.7 798 883.6 800.5 878.1 803 871.9 805.5 865.2 808 858.1 810.5 850.6 813 842.9 815.5 835 818 827.1 820.5 819.1 823 810.9 825.5 802.3 828 793.1 830.5 783.1 833 772.6 835.5 761.8 838 751.1 840.5 740.6 843 730.4 845.5 720.3 848 710.3 850.5 700.3 853 690.1 855.5 679.7 858 669.1 860.5 658.4 863 647.6 865.5 636.8 868 626 870.5 615.5 873 605.1 875.5 595.1 878 585.4 880.5 576.2 883 567.4 885.5 559.3 888 551.8 890.5 545.1 893 539.2 895.5 534.5 898 531 900.5 529.1 903 528.8 905.5 530 908 532.8 910.5 537.2 913 543 915.5 550.2 918 558.7 920.5 568.3 923 579 925.5 590.5 928 602.7 930.5 615.5 933 628.8 935.5 642.6 938 656.9 940.5 672 943 688.2 945.5 705.5 948 724.3 950.5 744.7 953 766.4 955.5 788.6 958 810.7 960.5 831.8 963 851.3 965.5 868.9 968 885.2 970.5 900.9 973 916.2 975.5 931.1 978 945.4 980.5 959.2 983 972.4 985.5 985 988 997 990.5 1008.5 993 1019.3 995.5 1029.7 998 1039.4 1000.5 1048.7 1003 1057.4 1005.5 1065.6 1008 1073.4 1010.5 1080.7 1013 1087.5 1015.5 1093.8 1018 1099.8 1020.5 1105.4 1023 1110.5 1025.5 1115.3 1028 1119.8 1030.5 1123.9 1033 1127.8 1035.5 1131.3 1038 1134.6 1040.5 1137.6 1043 1140.4 1045.5 1142.9 1048 1145.3 1050.5 1147.5 1053 1149.5 1055.5 1151.3 1058 1153 1060.5 1154.5 1063 1156 1065.5 1157.3 1068 1158.5 1070.5 1159.6 1073 1160.6 1075.5 1161.6 1078 1162.6 1080.5 1163.5 1083 1164.3 1085.5 1165.2 1088 1165.9 1090.5 1166.7 1093 1167.4 1095.5 1168.1 1098 1168.8 1100.5 1169.4 1103 1170.1 1105.5 1170.6 1108 1171.2 1110.5 1171.7 1113 1172.2 1115.5 1172.7 1118 1173.2 1120.5 1173.6 1123 1174.1 1125.5 1174.5 1128 1174.8 1130.5 1175.2 1133 1175.5 1135.5 1175.9 1138 1176.2 1140.5 1176.5 1143 1176.8 1145.5 1177 1148 1177.3 1150.5 1177.6 1153 1177.8 1155.5 1178 1158 1178.2 1160.5 1178.5 1163 1178.7 1165.5 1178.9 1168 1179.1 1170.5 1179.3 1173 1179.5 1175.5 1179.6 1178 1179.8 1180.5 1180 1183 1180.1 1185.5 1180.3 1188 1180.5 1190.5 1180.6 1193 1180.7 1195.5 1180.9 1198 1181 1200.5 1181.1 1203 1181.3 1205.5 1181.4 1208 1181.5 1210.5 1181.6 1213 1181.7 1215.5 1181.8 1218 1181.9 1220.5 1182 1223 1182.1 1225.5 1182.2 1228 1182.3 1230.5 1182.4 1233 1182.4 1235.5 1182.5 1238 1182.6 1240.5 1182.6 1243 1182.7 1245.5 1182.7 1248 1182.8 1250.5 1182.9 1253 1182.9 1255.5 1182.9 1258 1183 1260.5 1183 1263 1183.1 1265.5 1183.1 1268 1183.1 1270.5 1183.2 1273 1183.2 1275.5 1183.2 1278 1183.3 1280.5 1183.3 1283 1183.3 1285.5 1183.3 1288 1183.3 1290.5 1183.4 1293 1183.4 1295.5 1183.4 1298 1183.4 1300.5 1183.4 1303 1183.4 1305.5 1183.4 1308 1183.5 1310.5 1183.5 1313 1183.5 1315.5 1183.5 1318 1183.5 1320.5 1183.5 1323 1183.5 1325.5 1183.5 1328 1183.5 1330.5 1183.5 1333 1183.5 1335.5 1183.5 1338 1183.6 1340.5 1183.6 1343 1183.6 1345.5 1183.6 1348 1183.6 1350.5 1183.6 1353 1183.6 1355.5 1183.6 1358 1183.6 1360.5 1183.7 1363 1183.7 1365.5 1183.7 1368 1183.7 1370.5 1183.8 1373 1183.8 1375.5 1183.8 1378 1183.8 1380.5 1183.9 1383 1183.9 1385.5 1183.9 1388 1184 1390.5 1184 1393 1184.1 1395.5 1184.1 1398 1184.2 1400.5 1184.2 1403 1184.3 1405.5 1184.3 1408 1184.4 1409.4 1184.4" fill="none" stroke="#df8478" stroke-width="2.70" stroke-linejoin="round"/>
<path d="M90.5 1177.1 93 1177.3 95.5 1177.4 98 1177.5 100.5 1177.7 103 1177.8 105.5 1177.9 108 1178.1 110.5 1178.2 113 1178.3 115.5 1178.5 118 1178.6 120.5 1178.7 123 1178.9 125.5 1179 128 1179.1 130.5 1179.2 133 1179.4 135.5 1179.5 138 1179.6 140.5 1179.7 143 1179.8 145.5 1180 148 1180.1 150.5 1180.2 153 1180.3 155.5 1180.4 158 1180.5 160.5 1180.6 163 1180.7 165.5 1180.8 168 1180.9 170.5 1181 173 1181.1 175.5 1181.2 178 1181.3 180.5 1181.4 183 1181.5 185.5 1181.5 188 1181.6 190.5 1181.7 193 1181.8 195.5 1181.8 198 1181.9 200.5 1182 203 1182 205.5 1182.1 208 1182.2 210.5 1182.2 213 1182.3 215.5 1182.3 218 1182.4 220.5 1182.4 223 1182.4 225.5 1182.5 228 1182.5 230.5 1182.5 233 1182.5 235.5 1182.6 238 1182.6 240.5 1182.6 243 1182.6 245.5 1182.6 248 1182.6 250.5 1182.6 253 1182.6 255.5 1182.6 258 1182.6 260.5 1182.5 263 1182.5 265.5 1182.5 268 1182.5 270.5 1182.4 273 1182.4 275.5 1182.3 278 1182.3 280.5 1182.2 283 1182.2 285.5 1182.1 288 1182 290.5 1181.9 293 1181.9 295.5 1181.8 298 1181.7 300.5 1181.6 303 1181.5 305.5 1181.4 308 1181.3 310.5 1181.1 313 1181 315.5 1180.9 318 1180.7 320.5 1180.6 323 1180.5 325.5 1180.3 328 1180.1 330.5 1180 333 1179.8 335.5 1179.6 338 1179.4 340.5 1179.2 343 1179 345.5 1178.8 348 1178.6 350.5 1178.4 353 1178.2 355.5 1178 358 1177.7 360.5 1177.5 363 1177.2 365.5 1177 368 1176.7 370.5 1176.4 373 1176.2 375.5 1175.9 378 1175.6 380.5 1175.3 383 1175 385.5 1174.6 388 1174.3 390.5 1174 393 1173.7 395.5 1173.3 398 1173 400.5 1172.6 403 1172.2 405.5 1171.9 408 1171.5 410.5 1171.1 413 1170.7 415.5 1170.3 418 1169.9 420.5 1169.4 423 1169 425.5 1168.6 428 1168.1 430.5 1167.7 433 1167.2 435.5 1166.7 438 1166.2 440.5 1165.7 443 1165.2 445.5 1164.7 448 1164.2 450.5 1163.6 453 1163.1 455.5 1162.5 458 1161.9 460.5 1161.3 463 1160.7 465.5 1160.1 468 1159.5 470.5 1158.8 473 1158.2 475.5 1157.5 478 1156.8 480.5 1156.1 483 1155.4 485.5 1154.7 488 1153.9 490.5 1153.2 493 1152.4 495.5 1151.6 498 1150.8 500.5 1150 503 1149.2 505.5 1148.4 508 1147.6 510.5 1146.8 513 1146 515.5 1145.2 518 1144.3 520.5 1143.5 523 1142.6 525.5 1141.7 528 1140.8 530.5 1139.9 533 1139 535.5 1138.1 538 1137.1 540.5 1136.1 543 1135.2 545.5 1134.1 548 1133.1 550.5 1132.1 553 1131 555.5 1129.9 558 1128.8 560.5 1127.6 563 1126.5 565.5 1125.2 568 1124 570.5 1122.7 573 1121.4 575.5 1120.1 578 1118.7 580.5 1117.3 583 1115.8 585.5 1114.3 588 1112.8 590.5 1111.2 593 1109.6 595.5 1107.9 598 1106.2 600.5 1104.4 603 1102.6 605.5 1100.7 608 1098.7 610.5 1096.7 613 1094.6 615.5 1092.5 618 1090.2 620.5 1087.9 623 1085.5 625.5 1083 628 1080.4 630.5 1077.8 633 1075 635.5 1072.2 638 1069.2 640.5 1066.2 643 1063.1 645.5 1060 648 1056.7 650.5 1053.4 653 1050 655.5 1046.6 658 1043.1 660.5 1039.6 663 1036 665.5 1032.4 668 1028.7 670.5 1025 673 1021.2 675.5 1017.5 678 1013.7 680.5 1010 683 1006.3 685.5 1002.5 688 998.9 690.5 995.2 693 991.6 695.5 988.1 698 984.6 700.5 981.2 703 977.9 705.5 974.6 708 971.5 710.5 968.4 713 965.3 715.5 962.4 718 959.5 720.5 956.7 723 954 725.5 951.3 728 948.7 730.5 946.1 733 943.7 735.5 941.3 738 938.9 740.5 936.7 743 934.5 745.5 932.3 748 930.2 750.5 928.2 753 926.2 755.5 924.3 758 922.4 760.5 920.6 763 918.9 765.5 917.1 768 915.3 770.5 913.5 773 911.5 775.5 909.4 778 907.1 780.5 904.5 783 901.7 785.5 898.6 788 895.2 790.5 891.3 793 887.1 795.5 882.4 798 877.1 800.5 871.4 803 865 805.5 858.1 808 850.7 810.5 843 813 835.1 815.5 827 818 818.8 820.5 810.7 823 802.3 825.5 793.5 828 784.1 830.5 773.9 833 763.1 835.5 752.1 838 741.2 840.5 730.5 843 720.1 845.5 709.9 848 699.7 850.5 689.5 853 679.2 855.5 668.6 858 657.9 860.5 646.9 863 636 865.5 625 868 614.1 870.5 603.4 873 592.8 875.5 582.6 878 572.8 880.5 563.4 883 554.5 885.5 546.2 888 538.6 890.5 531.8 893 525.8 895.5 521 898 517.6 900.5 515.6 903 515.3 905.5 516.7 908 519.6 910.5 524.1 913 530.1 915.5 537.6 918 546.3 920.5 556.3 923 567.2 925.5 579 928 591.6 930.5 604.7 933 618.4 935.5 632.4 938 647.1 940.5 662.6 943 679.1 945.5 696.9 948 716.1 950.5 737 953 759.2 955.5 781.9 958 804.5 960.5 826.2 963 846.1 965.5 864.1 968 880.7 970.5 896.7 973 912.3 975.5 927.4 978 942 980.5 956.1 983 969.5 985.5 982.3 988 994.6 990.5 1006.2 993 1017.3 995.5 1027.8 998 1037.8 1000.5 1047.2 1003 1056.1 1005.5 1064.5 1008 1072.4 1010.5 1079.9 1013 1086.8 1015.5 1093.3 1018 1099.4 1020.5 1105.1 1023 1110.4 1025.5 1115.3 1028 1119.9 1030.5 1124.1 1033 1128.1 1035.5 1131.7 1038 1135 1040.5 1138.1 1043 1140.9 1045.5 1143.5 1048 1145.9 1050.5 1148.2 1053 1150.2 1055.5 1152.1 1058 1153.8 1060.5 1155.3 1063 1156.8 1065.5 1158.1 1068 1159.3 1070.5 1160.5 1073 1161.5 1075.5 1162.5 1078 1163.5 1080.5 1164.4 1083 1165.2 1085.5 1166.1 1088 1166.9 1090.5 1167.6 1093 1168.4 1095.5 1169.1 1098 1169.7 1100.5 1170.4 1103 1171 1105.5 1171.6 1108 1172.1 1110.5 1172.7 1113 1173.2 1115.5 1173.7 1118 1174.1 1120.5 1174.6 1123 1175 1125.5 1175.4 1128 1175.8 1130.5 1176.1 1133 1176.5 1135.5 1176.8 1138 1177.1 1140.5 1177.4 1143 1177.7 1145.5 1178 1148 1178.2 1150.5 1178.5 1153 1178.7 1155.5 1178.9 1158 1179.2 1160.5 1179.4 1163 1179.6 1165.5 1179.8 1168 1180 1170.5 1180.2 1173 1180.3 1175.5 1180.5 1178 1180.7 1180.5 1180.8 1183 1181 1185.5 1181.2 1188 1181.3 1190.5 1181.4 1193 1181.6 1195.5 1181.7 1198 1181.8 1200.5 1182 1203 1182.1 1205.5 1182.2 1208 1182.3 1210.5 1182.4 1213 1182.5 1215.5 1182.6 1218 1182.7 1220.5 1182.8 1223 1182.9 1225.5 1183 1228 1183 1230.5 1183.1 1233 1183.2 1235.5 1183.2 1238 1183.3 1240.5 1183.3 1243 1183.4 1245.5 1183.5 1248 1183.5 1250.5 1183.5 1253 1183.6 1255.5 1183.6 1258 1183.7 1260.5 1183.7 1263 1183.7 1265.5 1183.8 1268 1183.8 1270.5 1183.8 1273 1183.9 1275.5 1183.9 1278 1183.9 1280.5 1183.9 1283 1183.9 1285.5 1184 1288 1184 1290.5 1184 1293 1184 1295.5 1184 1298 1184 1300.5 1184 1303 1184 1305.5 1184.1 1308 1184.1 1310.5 1184.1 1313 1184.1 1315.5 1184.1 1318 1184.1 1320.5 1184.1 1323 1184.1 1325.5 1184.1 1328 1184.1 1330.5 1184.1 1333 1184.1 1335.5 1184.1 1338 1184.1 1340.5 1184.2 1343 1184.2 1345.5 1184.2 1348 1184.2 1350.5 1184.2 1353 1184.2 1355.5 1184.2 1358 1184.2 1360.5 1184.3 1363 1184.3 1365.5 1184.3 1368 1184.3 1370.5 1184.3 1373 1184.4 1375.5 1184.4 1378 1184.4 1380.5 1184.5 1383 1184.5 1385.5 1184.5 1388 1184.6 1390.5 1184.6 1393 1184.7 1395.5 1184.7 1398 1184.8 1400.5 1184.8 1403 1184.9 1405.5 1184.9 1408 1185 1409.4 1185.0" fill="none" stroke="#cf4a34" stroke-width="2.70" stroke-linejoin="round"/>
<path d="M90.5 1177.1 93 1177.3 95.5 1177.4 98 1177.5 100.5 1177.7 103 1177.8 105.5 1177.9 108 1178.1 110.5 1178.2 113 1178.3 115.5 1178.5 118 1178.6 120.5 1178.7 123 1178.9 125.5 1179 128 1179.1 130.5 1179.2 133 1179.4 135.5 1179.5 138 1179.6 140.5 1179.7 143 1179.8 145.5 1180 148 1180.1 150.5 1180.2 153 1180.3 155.5 1180.4 158 1180.5 160.5 1180.6 163 1180.7 165.5 1180.8 168 1180.9 170.5 1181 173 1181.1 175.5 1181.2 178 1181.3 180.5 1181.4 183 1181.5 185.5 1181.5 188 1181.6 190.5 1181.7 193 1181.8 195.5 1181.8 198 1181.9 200.5 1182 203 1182 205.5 1182.1 208 1182.2 210.5 1182.2 213 1182.3 215.5 1182.3 218 1182.4 220.5 1182.4 223 1182.4 225.5 1182.5 228 1182.5 230.5 1182.5 233 1182.5 235.5 1182.6 238 1182.6 240.5 1182.6 243 1182.6 245.5 1182.6 248 1182.6 250.5 1182.6 253 1182.6 255.5 1182.6 258 1182.6 260.5 1182.5 263 1182.5 265.5 1182.5 268 1182.5 270.5 1182.4 273 1182.4 275.5 1182.3 278 1182.3 280.5 1182.2 283 1182.2 285.5 1182.1 288 1182 290.5 1181.9 293 1181.9 295.5 1181.8 298 1181.7 300.5 1181.6 303 1181.5 305.5 1181.4 308 1181.3 310.5 1181.1 313 1181 315.5 1180.9 318 1180.8 320.5 1180.6 323 1180.5 325.5 1180.3 328 1180.2 330.5 1180 333 1179.8 335.5 1179.6 338 1179.5 340.5 1179.3 343 1179.1 345.5 1178.9 348 1178.7 350.5 1178.5 353 1178.2 355.5 1178 358 1177.8 360.5 1177.5 363 1177.3 365.5 1177 368 1176.8 370.5 1176.5 373 1176.2 375.5 1176 378 1175.7 380.5 1175.4 383 1175.1 385.5 1174.8 388 1174.5 390.5 1174.1 393 1173.8 395.5 1173.5 398 1173.1 400.5 1172.8 403 1172.4 405.5 1172 408 1171.7 410.5 1171.3 413 1170.9 415.5 1170.5 418 1170.1 420.5 1169.7 423 1169.2 425.5 1168.8 428 1168.4 430.5 1167.9 433 1167.5 435.5 1167 438 1166.5 440.5 1166 443 1165.5 445.5 1165 448 1164.5 450.5 1164 453 1163.5 455.5 1163 458 1162.4 460.5 1161.9 463 1161.3 465.5 1160.7 468 1160.1 470.5 1159.5 473 1158.9 475.5 1158.3 478 1157.7 480.5 1157 483 1156.4 485.5 1155.7 488 1155 490.5 1154.3 493 1153.6 495.5 1152.9 498 1152.2 500.5 1151.4 503 1150.7 505.5 1149.9 508 1149.1 510.5 1148.3 513 1147.5 515.5 1146.7 518 1145.8 520.5 1144.9 523 1144.1 525.5 1143.2 528 1142.3 530.5 1141.3 533 1140.4 535.5 1139.4 538 1138.4 540.5 1137.4 543 1136.4 545.5 1135.4 548 1134.3 550.5 1133.3 553 1132.2 555.5 1131.1 558 1129.9 560.5 1128.8 563 1127.6 565.5 1126.3 568 1125.1 570.5 1123.8 573 1122.5 575.5 1121.1 578 1119.7 580.5 1118.3 583 1116.8 585.5 1115.3 588 1113.8 590.5 1112.2 593 1110.6 595.5 1108.9 598 1107.1 600.5 1105.3 603 1103.5 605.5 1101.6 608 1099.6 610.5 1097.6 613 1095.5 615.5 1093.3 618 1091.1 620.5 1088.7 623 1086.3 625.5 1083.8 628 1081.2 630.5 1078.5 633 1075.8 635.5 1072.9 638 1069.9 640.5 1066.9 643 1063.8 645.5 1060.5 648 1057.3 650.5 1053.9 653 1050.5 655.5 1047 658 1043.5 660.5 1039.8 663 1036.2 665.5 1032.5 668 1028.7 670.5 1024.9 673 1021.1 675.5 1017.3 678 1013.4 680.5 1009.6 683 1005.8 685.5 1001.9 688 998.1 690.5 994.4 693 990.7 695.5 987 698 983.4 700.5 979.9 703 976.5 705.5 973.1 708 969.8 710.5 966.6 713 963.4 715.5 960.4 718 957.4 720.5 954.4 723 951.6 725.5 948.8 728 946.1 730.5 943.4 733 940.8 735.5 938.3 738 935.9 740.5 933.5 743 931.2 745.5 928.9 748 926.7 750.5 924.6 753 922.5 755.5 920.5 758 918.6 760.5 916.7 763 914.9 765.5 913.1 768 911.2 770.5 909.3 773 907.3 775.5 905.1 778 902.8 780.5 900.2 783 897.3 785.5 894.2 788 890.7 790.5 886.8 793 882.4 795.5 877.6 798 872.3 800.5 866.4 803 859.9 805.5 852.9 808 845.5 810.5 837.6 813 829.6 815.5 821.4 818 813.2 820.5 805 823 796.6 825.5 787.8 828 778.3 830.5 768 833 757.2 835.5 746.1 838 735.1 840.5 724.4 843 714 845.5 703.8 848 693.7 850.5 683.5 853 673.1 855.5 662.6 858 651.8 860.5 640.9 863 629.9 865.5 618.9 868 608 870.5 597.3 873 586.7 875.5 576.5 878 566.6 880.5 557.2 883 548.3 885.5 540 888 532.4 890.5 525.5 893 519.6 895.5 514.7 898 511.2 900.5 509.2 903 508.9 905.5 510.3 908 513.2 910.5 517.8 913 523.8 915.5 531.4 918 540.2 920.5 550.2 923 561.3 925.5 573.2 928 585.9 930.5 599.2 933 612.9 935.5 627.1 938 641.9 940.5 657.6 943 674.2 945.5 692.2 948 711.6 950.5 732.7 953 755.2 955.5 778.3 958 801.1 960.5 823 963 843.2 965.5 861.3 968 878.1 970.5 894.2 973 910 975.5 925.3 978 940 980.5 954.2 983 967.8 985.5 980.7 988 993.1 990.5 1004.8 993 1016 995.5 1026.7 998 1036.7 1000.5 1046.3 1003 1055.3 1005.5 1063.8 1008 1071.8 1010.5 1079.4 1013 1086.4 1015.5 1093 1018 1099.2 1020.5 1105 1023 1110.3 1025.5 1115.3 1028 1120 1030.5 1124.3 1033 1128.3 1035.5 1131.9 1038 1135.3 1040.5 1138.4 1043 1141.3 1045.5 1144 1048 1146.4 1050.5 1148.6 1053 1150.7 1055.5 1152.6 1058 1154.3 1060.5 1155.9 1063 1157.4 1065.5 1158.7 1068 1159.9 1070.5 1161.1 1073 1162.2 1075.5 1163.2 1078 1164.1 1080.5 1165 1083 1165.9 1085.5 1166.7 1088 1167.5 1090.5 1168.3 1093 1169.1 1095.5 1169.8 1098 1170.4 1100.5 1171.1 1103 1171.7 1105.5 1172.3 1108 1172.9 1110.5 1173.4 1113 1173.9 1115.5 1174.4 1118 1174.9 1120.5 1175.3 1123 1175.7 1125.5 1176.1 1128 1176.5 1130.5 1176.9 1133 1177.2 1135.5 1177.5 1138 1177.9 1140.5 1178.2 1143 1178.4 1145.5 1178.7 1148 1179 1150.5 1179.2 1153 1179.4 1155.5 1179.7 1158 1179.9 1160.5 1180.1 1163 1180.3 1165.5 1180.5 1168 1180.7 1170.5 1180.9 1173 1181.1 1175.5 1181.2 1178 1181.4 1180.5 1181.6 1183 1181.7 1185.5 1181.9 1188 1182 1190.5 1182.2 1193 1182.3 1195.5 1182.4 1198 1182.6 1200.5 1182.7 1203 1182.8 1205.5 1182.9 1208 1183 1210.5 1183.1 1213 1183.2 1215.5 1183.3 1218 1183.4 1220.5 1183.5 1223 1183.6 1225.5 1183.7 1228 1183.7 1230.5 1183.8 1233 1183.9 1235.5 1183.9 1238 1184 1240.5 1184.1 1243 1184.1 1245.5 1184.2 1248 1184.2 1250.5 1184.3 1253 1184.3 1255.5 1184.3 1258 1184.4 1260.5 1184.4 1263 1184.4 1265.5 1184.5 1268 1184.5 1270.5 1184.5 1273 1184.5 1275.5 1184.6 1278 1184.6 1280.5 1184.6 1283 1184.6 1285.5 1184.6 1288 1184.6 1290.5 1184.6 1293 1184.6 1295.5 1184.7 1298 1184.7 1300.5 1184.7 1303 1184.7 1305.5 1184.7 1308 1184.7 1310.5 1184.7 1313 1184.7 1315.5 1184.7 1318 1184.7 1320.5 1184.7 1323 1184.7 1325.5 1184.7 1328 1184.7 1330.5 1184.6 1333 1184.6 1335.5 1184.6 1338 1184.6 1340.5 1184.6 1343 1184.6 1345.5 1184.6 1348 1184.6 1350.5 1184.6 1353 1184.6 1355.5 1184.6 1358 1184.6 1360.5 1184.6 1363 1184.6 1365.5 1184.6 1368 1184.7 1370.5 1184.7 1373 1184.7 1375.5 1184.7 1378 1184.7 1380.5 1184.7 1383 1184.7 1385.5 1184.7 1388 1184.8 1390.5 1184.8 1393 1184.8 1395.5 1184.8 1398 1184.9 1400.5 1184.9 1403 1184.9 1405.5 1185 1408 1185 1409.4 1185.0" fill="none" stroke="#ea4639" stroke-width="2.70" stroke-linejoin="round"/></g>
<path d="M90.5 381.9 V1185.4 H1410.5" fill="none" stroke="#000" stroke-width="2.6" stroke-linejoin="miter"/>
<line x1="90.5" y1="383.1" x2="116.0" y2="383.1" stroke="#000" stroke-width="2.4"/>
<line x1="90.5" y1="482.3" x2="116.0" y2="482.3" stroke="#000" stroke-width="2.4"/>
<line x1="90.5" y1="581.4" x2="116.0" y2="581.4" stroke="#000" stroke-width="2.4"/>
<line x1="90.5" y1="683.2" x2="116.0" y2="683.2" stroke="#000" stroke-width="2.4"/>
<line x1="90.5" y1="782.7" x2="114.0" y2="782.7" stroke="#000" stroke-width="2.4"/>
<line x1="90.5" y1="885.0" x2="116.0" y2="885.0" stroke="#000" stroke-width="2.4"/>
<line x1="90.5" y1="981.0" x2="114.0" y2="981.0" stroke="#000" stroke-width="2.4"/>
<line x1="90.5" y1="1086.4" x2="116.0" y2="1086.4" stroke="#000" stroke-width="2.4"/>
<line x1="171.5" y1="1167.7" x2="171.5" y2="1185.4" stroke="#000" stroke-width="2.4"/>
<line x1="255.2" y1="1167.7" x2="255.2" y2="1185.4" stroke="#000" stroke-width="2.4"/>
<line x1="337.0" y1="1167.7" x2="337.0" y2="1185.4" stroke="#000" stroke-width="2.4"/>
<line x1="419.2" y1="1167.7" x2="419.2" y2="1185.4" stroke="#000" stroke-width="2.4"/>
<line x1="501.8" y1="1167.7" x2="501.8" y2="1185.4" stroke="#000" stroke-width="2.4"/>
<line x1="583.8" y1="1167.7" x2="583.8" y2="1185.4" stroke="#000" stroke-width="2.4"/>
<line x1="665.8" y1="1167.7" x2="665.8" y2="1185.4" stroke="#000" stroke-width="2.4"/>
<line x1="748.2" y1="1167.7" x2="748.2" y2="1185.4" stroke="#000" stroke-width="2.4"/>
<line x1="830.5" y1="1167.7" x2="830.5" y2="1185.4" stroke="#000" stroke-width="2.4"/>
<line x1="913.2" y1="1167.7" x2="913.2" y2="1185.4" stroke="#000" stroke-width="2.4"/>
<line x1="997.0" y1="1167.7" x2="997.0" y2="1185.4" stroke="#000" stroke-width="2.4"/>
<line x1="1078.1" y1="1167.7" x2="1078.1" y2="1185.4" stroke="#000" stroke-width="2.4"/>
<line x1="1161.4" y1="1167.7" x2="1161.4" y2="1185.4" stroke="#000" stroke-width="2.4"/>
<line x1="1241.4" y1="1167.7" x2="1241.4" y2="1185.4" stroke="#000" stroke-width="2.4"/>
<line x1="1323.9" y1="1167.7" x2="1323.9" y2="1185.4" stroke="#000" stroke-width="2.4"/>
<line x1="1409" y1="1124" x2="1409" y2="1185.4" stroke="#000" stroke-width="2.4"/>
<text x="52.43" y="392.30" font-size="24.27" font-weight="bold" textLength="33.60" lengthAdjust="spacingAndGlyphs" fill="#000" stroke="#000" stroke-width="0.3">0.8</text>
<text x="50.93" y="587.00" font-size="24.27" font-weight="bold" textLength="33.67" lengthAdjust="spacingAndGlyphs" fill="#000" stroke="#000" stroke-width="0.3">0.6</text>
<text x="51.88" y="789.90" font-size="24.27" font-weight="bold" textLength="31.99" lengthAdjust="spacingAndGlyphs" fill="#000" stroke="#000" stroke-width="0.3">0.4</text>
<text x="51.87" y="987.50" font-size="24.27" font-weight="bold" textLength="32.47" lengthAdjust="spacingAndGlyphs" fill="#000" stroke="#000" stroke-width="0.3">0.2</text>
<text x="50.95" y="1192.80" font-size="24.27" font-weight="bold" textLength="33.11" lengthAdjust="spacingAndGlyphs" fill="#000" stroke="#000" stroke-width="0.3">0.0</text>
<text x="76.64" y="1208.30" font-size="24.27" font-weight="bold" textLength="39.69" lengthAdjust="spacingAndGlyphs" fill="#000" stroke="#000" stroke-width="0.3">400</text>
<text x="236.84" y="1208.30" font-size="24.27" font-weight="bold" textLength="39.80" lengthAdjust="spacingAndGlyphs" fill="#000" stroke="#000" stroke-width="0.3">450</text>
<text x="402.28" y="1208.30" font-size="24.27" font-weight="bold" textLength="40.01" lengthAdjust="spacingAndGlyphs" fill="#000" stroke="#000" stroke-width="0.3">500</text>
<text x="564.79" y="1208.30" font-size="24.27" font-weight="bold" textLength="39.49" lengthAdjust="spacingAndGlyphs" fill="#000" stroke="#000" stroke-width="0.3">550</text>
<text x="731.65" y="1208.30" font-size="24.27" font-weight="bold" textLength="40.66" lengthAdjust="spacingAndGlyphs" fill="#000" stroke="#000" stroke-width="0.3">600</text>
<text x="895.91" y="1208.30" font-size="24.27" font-weight="bold" textLength="40.14" lengthAdjust="spacingAndGlyphs" fill="#000" stroke="#000" stroke-width="0.3">650</text>
<text x="1057.93" y="1208.30" font-size="24.27" font-weight="bold" textLength="40.63" lengthAdjust="spacingAndGlyphs" fill="#000" stroke="#000" stroke-width="0.3">700</text>
<text x="1223.63" y="1208.30" font-size="24.27" font-weight="bold" textLength="40.32" lengthAdjust="spacingAndGlyphs" fill="#000" stroke="#000" stroke-width="0.3">750</text>
<text x="1389.29" y="1208.30" font-size="24.27" font-weight="bold" textLength="39.75" lengthAdjust="spacingAndGlyphs" fill="#000" stroke="#000" stroke-width="0.3">800</text>
<text x="675.30" y="1237.40" font-size="30.29" font-weight="bold" textLength="233.42" lengthAdjust="spacingAndGlyphs" fill="#000" stroke="#000" stroke-width="0.6" stroke-linejoin="round">Wavelength (nm)</text>
<g transform="translate(36.5 949.7) rotate(-90)"><text x="-0.85" y="0.00" font-size="29.92" font-weight="bold" textLength="345.63" lengthAdjust="spacingAndGlyphs" fill="#000" stroke="#000" stroke-width="0.6" stroke-linejoin="round">Cyanine Dye Absorbance</text></g>
<polygon points="189.6,929.7 216.3,900.8 308.5,900.8 308.5,1024.7 279.9,1055.9 189.6,1055.9" fill="#b8c3e8"/>
<rect x="189.6" y="827.8" width="90.3" height="228.1" fill="none" stroke="#000" stroke-width="2.6" stroke-linejoin="round" stroke-linecap="round"/>
<rect x="216.3" y="796.7" width="92.2" height="228.0" fill="none" stroke="#000" stroke-width="2.6" stroke-linejoin="round" stroke-linecap="round"/>
<path d="M189.6 827.8 L216.3 796.7 M279.9 827.8 L308.5 796.7 M189.6 1055.9 L216.3 1024.7 M279.9 1055.9 L308.5 1024.7 M189.6 929.7 L216.3 900.8 M279.9 929.7 L308.5 900.8 M189.6 929.7 L279.9 930.9 M216.3 900.8 L308.5 900.8 " fill="none" stroke="#000" stroke-width="2.6" stroke-linejoin="round" stroke-linecap="round"/>
<polygon points="1158.1,914.4 1186.0,884.9 1281.4,884.9 1281.4,1013.6 1251.2,1045.4 1158.1,1045.4" fill="#b5d0ea"/>
<rect x="1158.1" y="809.4" width="93.1" height="236.0" fill="none" stroke="#000" stroke-width="2.6" stroke-linejoin="round" stroke-linecap="round"/>
<rect x="1186.0" y="777.3" width="95.4" height="236.3" fill="none" stroke="#000" stroke-width="2.6" stroke-linejoin="round" stroke-linecap="round"/>
<path d="M1158.1 809.4 L1186.0 777.3 M1251.2 809.4 L1281.4 777.3 M1158.1 1045.4 L1186.0 1013.6 M1251.2 1045.4 L1281.4 1013.6 M1158.1 914.4 L1186.0 884.9 M1251.2 914.4 L1281.4 884.9 M1158.1 914.4 L1251.2 915.6 M1186.0 884.9 L1281.4 884.9 " fill="none" stroke="#000" stroke-width="2.6" stroke-linejoin="round" stroke-linecap="round"/>
<polygon points="1065.7,66.3 1065.7,272 1192,209.5 1192,131" fill="#7e8d79"/>
<ellipse cx="1266.9" cy="172.5" rx="87.5" ry="82" fill="#fff" stroke="#000" stroke-width="2.7"/>
<polygon points="514.4,890 568.5,890 552.9,993 538.3,993" fill="#7e8d79"/>
<ellipse cx="548.7" cy="747.2" rx="171.8" ry="147.1" fill="#fff" stroke="#000" stroke-width="2.6"/>
<polygon points="1024,600.5 1038,639.6 972.2,649.4 967.8,635" fill="#7e8d79"/>
<ellipse cx="1191.1" cy="579.7" rx="171.5" ry="147.5" fill="#fff" stroke="#000" stroke-width="2.6"/>
<g transform="translate(544.65 1016.00) rotate(30.0)">
<circle r="22.5" fill="#fff" stroke="#2c3a35" stroke-width="3.5"/>
<path d="M-16.36 -4.23 A16.90 16.90 0 0 1 14.71 -8.32" fill="none" stroke="#2c3a35" stroke-width="1.8" stroke-linecap="round"/>
<rect x="25.1" y="-3.9" width="3.0" height="7.8" rx="1.4" fill="#2c3a35"/>
<rect x="29.4" y="-4.2" width="35.2" height="8.4" rx="4.2" fill="#2c3a35"/>
</g>
<g transform="translate(947.55 651.30) rotate(59.0)">
<circle r="22.5" fill="#fff" stroke="#2c3a35" stroke-width="3.5"/>
<path d="M-16.36 -4.23 A16.90 16.90 0 0 1 14.71 -8.32" fill="none" stroke="#2c3a35" stroke-width="1.8" stroke-linecap="round"/>
<rect x="25.1" y="-3.9" width="3.0" height="7.8" rx="1.4" fill="#2c3a35"/>
<rect x="29.4" y="-4.2" width="35.2" height="8.4" rx="4.2" fill="#2c3a35"/>
</g>
<g id="doodles">
<path d="M1324.4 192.2C1323.6 192.5 1321.7 194.3 1319.6 194.1C1317.5 193.9 1314.2 192.2 1311.8 190.7C1309.4 189.2 1307.1 186.5 1305.0 185.3C1302.9 184.2 1301.3 183.9 1299.2 183.9C1297.1 183.9 1294.5 185.3 1292.4 185.3C1290.3 185.3 1288.0 185.1 1286.5 183.9C1285.1 182.7 1284.3 180.6 1283.8 178.1C1283.3 175.5 1283.3 171.9 1283.6 168.3C1283.9 164.8 1285.1 160.2 1285.6 156.7C1286.0 153.1 1286.5 150.0 1286.0 146.9C1285.6 143.9 1284.3 140.5 1282.6 138.2C1280.9 135.8 1278.3 133.9 1275.8 132.8C1273.4 131.7 1270.6 131.3 1268.1 131.6C1265.5 131.8 1262.2 132.9 1260.3 134.3C1258.3 135.7 1257.0 137.7 1256.4 140.1C1255.7 142.6 1255.9 146.0 1256.4 148.9C1256.9 151.8 1258.2 154.6 1259.3 157.6C1260.4 160.7 1262.5 164.6 1263.2 167.4C1263.9 170.1 1264.0 171.9 1263.7 174.2C1263.4 176.4 1262.5 178.7 1261.2 181.0C1260.0 183.2 1258.3 185.7 1256.4 187.8C1254.4 189.9 1251.9 192.2 1249.6 193.6C1247.3 195.0 1244.9 196.0 1242.8 196.0C1240.7 196.0 1238.6 195.1 1236.9 193.6C1235.3 192.1 1234.2 189.4 1233.1 186.8C1231.9 184.2 1231.1 180.5 1230.1 178.1C1229.2 175.6 1228.4 173.8 1227.2 172.2C1226.1 170.7 1224.7 169.5 1223.3 168.8C1222.0 168.2 1219.7 168.4 1219.0 168.3" fill="none" stroke="#3d5bdc" stroke-width="4.0" stroke-linecap="round" stroke-linejoin="round"/><path d="M1219.0 168.3C1219.7 167.7 1221.1 165.7 1223.3 164.4C1225.5 163.1 1229.2 161.5 1232.1 160.6C1235.0 159.6 1238.2 158.9 1240.8 158.6C1243.4 158.4 1245.9 158.4 1247.6 159.1C1249.4 159.7 1250.7 160.6 1251.5 162.5C1252.3 164.4 1252.3 167.4 1252.5 170.3C1252.7 173.2 1252.7 176.8 1253.0 180.0C1253.3 183.2 1253.7 186.8 1254.4 189.7C1255.2 192.6 1255.9 195.5 1257.4 197.5C1258.8 199.5 1261.4 201.2 1263.2 201.9C1265.0 202.5 1266.7 201.8 1268.1 201.4C1269.4 201.0 1270.9 199.8 1271.5 199.4" fill="none" stroke="#3d5bdc" stroke-width="4.0" stroke-linecap="round" stroke-linejoin="round"/>
<path d="M1097.8 488.0C1099.3 488.1 1103.7 488.1 1106.7 488.9C1109.6 489.7 1112.8 491.4 1115.6 492.8C1118.3 494.2 1120.2 496.2 1123.3 497.2C1126.5 498.2 1130.7 498.6 1134.4 498.9C1138.1 499.1 1142.0 499.2 1145.6 498.7C1149.1 498.1 1153.0 497.0 1155.6 495.6C1158.1 494.1 1159.6 491.9 1161.1 490.0C1162.6 488.1 1163.3 486.7 1164.4 484.4C1165.6 482.2 1166.9 479.4 1167.8 476.7C1168.6 473.9 1169.4 470.5 1169.4 467.8C1169.5 465.1 1169.4 462.3 1168.3 460.6C1167.3 458.8 1165.3 457.7 1163.3 457.2C1161.4 456.8 1158.7 457.0 1156.7 457.8C1154.6 458.5 1152.3 460.1 1151.1 461.7C1149.9 463.2 1150.4 465.9 1149.4 467.2C1148.5 468.6 1147.7 469.7 1145.6 469.8C1143.4 469.9 1139.6 468.5 1136.7 467.8C1133.7 467.0 1129.8 465.5 1127.8 465.3C1125.7 465.1 1124.7 465.7 1124.4 466.7C1124.2 467.6 1124.8 469.3 1126.1 471.1C1127.4 473.0 1129.9 475.7 1132.2 477.8C1134.5 479.8 1137.4 482.0 1140.0 483.3C1142.6 484.7 1145.4 485.6 1147.8 485.8C1150.2 486.0 1152.4 484.6 1154.4 484.7C1156.5 484.7 1158.1 485.1 1160.0 486.1C1161.9 487.1 1163.8 488.6 1165.6 490.6C1167.3 492.5 1169.5 495.5 1170.6 497.8C1171.6 500.1 1172.1 502.5 1171.7 504.4C1171.2 506.4 1169.7 508.3 1167.8 509.4C1165.8 510.6 1162.8 510.6 1160.0 511.1C1157.2 511.7 1153.4 511.9 1151.1 512.8C1148.8 513.6 1146.8 514.8 1146.1 516.1C1145.5 517.4 1146.2 519.5 1147.2 520.6C1148.2 521.6 1150.3 522.2 1152.2 522.4C1154.2 522.7 1156.9 521.8 1158.9 522.0C1160.9 522.2 1163.0 523.3 1164.4 523.9C1165.9 524.4 1167.2 525.1 1167.8 525.3" fill="none" stroke="#3d5bdc" stroke-width="3.4" stroke-linecap="round" stroke-linejoin="round"/>
<path d="M1125.0 526.1C1124.6 526.9 1123.1 529.2 1122.8 531.1C1122.4 533.1 1123.2 535.7 1122.8 537.8C1122.3 539.8 1121.8 541.9 1120.0 543.3C1118.2 544.8 1115.2 546.1 1112.2 546.4C1109.3 546.8 1105.4 546.3 1102.2 545.6C1099.1 544.9 1096.3 543.5 1093.3 542.2C1090.4 540.9 1087.2 539.4 1084.4 537.8C1081.7 536.1 1079.3 534.1 1076.7 532.2C1074.1 530.4 1071.0 528.5 1068.9 526.7C1066.8 524.8 1064.5 523.1 1063.9 521.1C1063.2 519.1 1063.8 516.1 1065.0 514.4C1066.2 512.8 1069.0 511.6 1071.1 511.1C1073.2 510.6 1075.7 510.9 1077.8 511.7C1079.8 512.4 1081.7 514.8 1083.3 515.6C1085.0 516.3 1085.9 516.4 1087.8 516.1C1089.6 515.8 1092.6 514.0 1094.4 513.9C1096.3 513.8 1097.4 514.2 1098.9 515.6C1100.4 516.9 1102.2 520.0 1103.3 522.2C1104.4 524.4 1105.6 526.9 1105.6 528.9C1105.6 530.9 1105.0 533.1 1103.3 534.4C1101.7 535.7 1098.3 536.1 1095.6 536.7C1092.8 537.2 1088.8 537.0 1086.7 537.8C1084.5 538.5 1083.4 539.6 1082.8 541.1C1082.1 542.6 1082.1 544.8 1082.8 546.7C1083.4 548.5 1084.9 550.7 1086.7 552.2C1088.4 553.7 1090.7 554.9 1093.3 555.6C1095.9 556.2 1099.3 556.2 1102.2 556.1C1105.2 556.0 1108.5 554.9 1111.1 555.0C1113.7 555.1 1115.8 555.6 1117.8 556.7C1119.7 557.7 1121.8 559.4 1122.8 561.1C1123.8 562.8 1124.2 564.8 1123.9 566.7C1123.6 568.5 1122.1 570.7 1121.1 572.2C1120.1 573.7 1118.3 575.0 1117.8 575.6" fill="none" stroke="#3d5bdc" stroke-width="3.4" stroke-linecap="round" stroke-linejoin="round"/>
<path d="M1238.3 482.8C1237.7 482.9 1235.7 484.0 1234.4 483.3C1233.1 482.7 1231.7 480.9 1230.6 478.9C1229.4 476.9 1228.4 473.9 1227.8 471.1C1227.1 468.3 1226.7 464.4 1226.7 462.2C1226.7 460.0 1226.9 458.8 1227.8 457.8C1228.7 456.8 1230.6 455.9 1232.2 456.1C1233.8 456.3 1236.3 458.0 1237.2 458.9C1238.1 459.8 1238.8 461.2 1237.8 461.7C1236.8 462.1 1233.7 461.7 1231.1 461.7C1228.5 461.7 1225.4 461.6 1222.2 461.7C1219.1 461.8 1214.6 461.5 1212.2 462.2C1209.8 463.0 1208.1 464.6 1207.8 466.1C1207.5 467.6 1209.2 469.7 1210.6 471.1C1211.9 472.5 1215.0 473.2 1216.1 474.4C1217.2 475.6 1217.7 477.1 1217.2 478.3C1216.8 479.5 1215.5 480.8 1213.3 481.7C1211.2 482.5 1207.0 482.7 1204.4 483.3C1201.9 484.0 1199.3 484.4 1197.8 485.6C1196.3 486.7 1195.4 488.3 1195.6 490.0C1195.7 491.7 1197.2 494.0 1198.9 495.6C1200.6 497.1 1204.1 498.1 1205.6 499.4C1207.0 500.8 1207.0 502.9 1207.8 503.9C1208.5 504.9 1208.3 505.5 1210.0 505.6C1211.7 505.6 1215.2 504.5 1217.8 504.2C1220.4 503.9 1223.6 503.3 1225.6 503.9C1227.5 504.5 1228.9 505.8 1229.4 507.8C1230.0 509.7 1229.7 513.3 1228.9 515.6C1228.1 517.8 1226.5 519.6 1224.4 521.1C1222.4 522.6 1219.4 523.7 1216.7 524.4C1213.9 525.2 1210.6 525.0 1207.8 525.6C1205.0 526.1 1202.0 526.5 1200.0 527.8C1198.0 529.1 1196.3 531.5 1195.6 533.3C1194.8 535.2 1194.8 537.4 1195.6 538.9C1196.3 540.4 1198.3 541.4 1200.0 542.2C1201.7 543.1 1204.4 543.5 1205.6 543.9C1206.8 544.3 1206.9 544.4 1207.2 544.4" fill="none" stroke="#3d5bdc" stroke-width="3.4" stroke-linecap="round" stroke-linejoin="round"/>
<path d="M1245.0 521.7C1244.5 522.7 1242.4 525.5 1242.2 527.8C1242.0 530.1 1243.0 533.0 1243.9 535.6C1244.8 538.1 1246.2 540.7 1247.8 543.3C1249.4 545.9 1252.0 549.1 1253.3 551.1C1254.6 553.1 1255.9 554.3 1255.6 555.6C1255.2 556.9 1253.1 558.1 1251.1 558.9C1249.1 559.7 1245.9 560.6 1243.3 560.6C1240.7 560.5 1237.6 559.7 1235.6 558.3C1233.5 556.9 1231.7 554.4 1231.1 552.2C1230.6 550.1 1231.1 547.4 1232.2 545.6C1233.3 543.7 1235.4 542.4 1237.8 541.1C1240.2 539.8 1243.7 538.7 1246.7 537.8C1249.6 536.9 1252.8 536.1 1255.6 535.8C1258.3 535.4 1261.3 535.0 1263.3 535.6C1265.4 536.1 1266.5 537.2 1267.8 538.9C1269.1 540.6 1269.6 543.5 1271.1 545.6C1272.6 547.6 1274.4 549.8 1276.7 551.1C1278.9 552.4 1281.9 553.0 1284.4 553.3C1287.0 553.7 1290.3 553.7 1292.2 553.3C1294.2 553.0 1295.7 552.4 1296.1 551.1C1296.5 549.8 1295.6 547.6 1294.4 545.6C1293.2 543.5 1290.7 541.5 1288.9 538.9C1287.0 536.3 1284.8 533.1 1283.3 530.0C1281.9 526.9 1280.7 523.1 1280.0 520.0C1279.3 516.9 1278.5 513.3 1278.9 511.1C1279.3 508.9 1280.9 507.3 1282.2 506.7C1283.5 506.0 1285.0 506.1 1286.7 507.2C1288.3 508.3 1290.4 511.0 1292.2 513.3C1294.1 515.6 1295.7 518.5 1297.8 521.1C1299.8 523.7 1302.0 526.6 1304.4 528.9C1306.9 531.2 1309.6 533.7 1312.2 535.0C1314.8 536.3 1317.8 536.9 1320.0 536.7C1322.2 536.4 1324.1 534.6 1325.6 533.3C1327.0 532.0 1328.1 529.8 1328.9 528.9C1329.6 528.0 1329.8 528.0 1330.0 527.8" fill="none" stroke="#3d5bdc" stroke-width="3.4" stroke-linecap="round" stroke-linejoin="round"/>
<path d="M1046.1 566.1C1046.1 566.9 1045.5 569.4 1046.1 571.1C1046.8 572.8 1048.7 574.6 1050.0 576.1C1051.3 577.6 1053.1 578.4 1053.9 580.0C1054.7 581.6 1054.5 583.8 1055.0 585.6C1055.5 587.3 1055.5 589.5 1056.7 590.6C1057.9 591.6 1060.0 591.9 1062.2 591.7C1064.4 591.4 1067.4 589.8 1070.0 588.9C1072.6 588.0 1075.2 586.6 1077.8 586.1C1080.4 585.6 1083.2 585.5 1085.6 586.1C1087.9 586.8 1090.2 588.2 1091.7 590.0C1093.1 591.8 1094.4 594.6 1094.4 596.7C1094.5 598.7 1093.5 600.8 1092.2 602.2C1090.9 603.6 1089.1 604.5 1086.7 605.0C1084.3 605.5 1080.7 605.0 1077.8 605.0C1074.8 605.0 1071.5 604.5 1068.9 605.0C1066.3 605.5 1064.3 606.4 1062.2 607.8C1060.2 609.2 1058.0 611.3 1056.7 613.3C1055.4 615.4 1054.6 618.1 1054.4 620.0C1054.3 621.9 1054.6 623.3 1055.6 624.4C1056.5 625.6 1058.1 626.1 1060.0 626.7C1061.9 627.2 1064.6 627.2 1066.7 627.8C1068.7 628.3 1070.7 628.9 1072.2 630.0C1073.7 631.1 1074.5 633.9 1075.6 634.4C1076.6 635.0 1077.6 634.6 1078.3 633.3C1079.1 632.0 1079.7 629.1 1080.0 626.7C1080.3 624.3 1080.4 621.2 1080.0 618.9C1079.6 616.6 1078.9 614.0 1077.8 612.8C1076.7 611.5 1075.4 611.4 1073.3 611.3C1071.3 611.2 1068.1 611.9 1065.6 612.2C1063.0 612.6 1060.2 613.4 1057.8 613.3C1055.4 613.2 1052.8 612.6 1051.1 611.7C1049.4 610.7 1048.3 609.2 1047.8 607.8C1047.3 606.4 1048.0 604.1 1048.0 603.3" fill="none" stroke="#3d5bdc" stroke-width="3.4" stroke-linecap="round" stroke-linejoin="round"/>
<path d="M1182.2 575.6C1181.9 574.6 1181.3 571.5 1180.0 570.0C1178.7 568.5 1176.7 567.4 1174.4 566.7C1172.2 565.9 1169.4 565.7 1166.7 565.6C1163.9 565.4 1160.6 565.8 1157.8 565.6C1155.0 565.3 1151.8 564.9 1150.0 563.9C1148.2 562.9 1147.3 561.5 1147.2 559.4C1147.1 557.4 1148.1 554.0 1149.4 551.7C1150.8 549.4 1153.4 546.9 1155.6 545.6C1157.7 544.3 1160.0 543.7 1162.2 543.9C1164.4 544.1 1167.3 545.1 1168.9 546.7C1170.5 548.2 1171.5 550.9 1171.7 553.3C1171.9 555.7 1170.8 558.5 1170.0 561.1C1169.2 563.7 1167.8 566.3 1166.7 568.9C1165.6 571.5 1164.8 574.4 1163.3 576.7C1161.9 578.9 1160.0 581.3 1157.8 582.2C1155.6 583.1 1152.6 582.5 1150.0 582.2C1147.4 581.9 1144.8 580.4 1142.2 580.6C1139.6 580.7 1136.7 581.9 1134.4 583.3C1132.2 584.7 1130.3 586.9 1128.9 588.9C1127.5 590.9 1126.3 593.9 1126.1 595.6C1125.9 597.2 1126.4 598.4 1127.8 598.9C1129.2 599.4 1132.0 598.5 1134.4 598.3C1136.9 598.1 1140.0 597.5 1142.2 597.8C1144.4 598.1 1146.6 598.7 1147.8 600.0C1149.0 601.3 1149.6 603.9 1149.4 605.6C1149.3 607.2 1148.2 609.1 1146.7 610.0C1145.1 610.9 1142.4 611.1 1140.0 611.1C1137.6 611.1 1134.8 609.8 1132.2 610.0C1129.6 610.2 1126.6 611.1 1124.4 612.2C1122.3 613.3 1120.5 615.2 1119.4 616.7C1118.4 618.1 1118.1 619.6 1118.3 621.1C1118.5 622.6 1120.1 624.1 1120.6 625.6C1121.0 627.0 1121.0 629.3 1121.1 630.0" fill="none" stroke="#3d5bdc" stroke-width="3.4" stroke-linecap="round" stroke-linejoin="round"/>
<path d="M1330.6 560.0C1329.7 559.2 1327.0 556.1 1325.0 555.0C1323.0 553.9 1320.6 552.9 1318.8 553.1C1316.9 553.3 1314.8 554.7 1313.8 556.2C1312.7 557.8 1312.0 560.0 1312.2 562.5C1312.5 565.0 1313.8 568.3 1315.0 571.2C1316.2 574.2 1318.2 577.3 1319.4 580.0C1320.5 582.7 1321.8 585.0 1321.9 587.5C1322.0 590.0 1321.1 592.9 1320.0 595.0C1318.9 597.1 1316.9 599.3 1315.0 600.0C1313.1 600.7 1310.6 600.6 1308.8 599.4C1306.9 598.1 1305.1 594.9 1303.8 592.5C1302.4 590.1 1301.9 586.6 1300.6 585.0C1299.4 583.4 1298.0 583.2 1296.2 583.1C1294.5 583.0 1292.1 584.7 1290.0 584.4C1287.9 584.1 1285.6 581.9 1283.8 581.2C1281.9 580.6 1280.0 579.8 1278.8 580.6C1277.5 581.5 1276.2 584.1 1276.2 586.2C1276.2 588.4 1277.6 591.5 1278.8 593.8C1279.9 596.0 1282.5 598.1 1283.1 600.0C1283.8 601.9 1283.6 603.9 1282.5 605.0C1281.4 606.1 1278.5 606.8 1276.2 606.9C1274.0 607.0 1270.6 605.3 1268.8 605.6C1266.9 605.9 1265.2 607.2 1265.0 608.8C1264.8 610.3 1266.2 612.9 1267.5 615.0C1268.8 617.1 1270.8 619.2 1272.5 621.2C1274.2 623.3 1276.1 625.7 1277.5 627.5C1278.9 629.3 1280.8 631.0 1280.6 631.9C1280.4 632.7 1277.9 633.0 1276.2 632.5C1274.6 632.0 1271.6 630.0 1270.6 628.8C1269.7 627.5 1269.7 626.2 1270.6 625.0C1271.6 623.8 1273.9 622.4 1276.2 621.2C1278.6 620.1 1282.3 618.9 1285.0 618.1C1287.7 617.4 1290.4 616.9 1292.5 616.9C1294.6 616.9 1296.6 617.4 1297.5 618.1C1298.4 618.9 1298.0 620.7 1298.1 621.2" fill="none" stroke="#3d5bdc" stroke-width="3.4" stroke-linecap="round" stroke-linejoin="round"/>
<path d="M1245.7 624.8C1245.2 625.0 1243.8 626.3 1242.3 626.2C1240.9 626.0 1238.6 624.8 1236.9 623.8C1235.2 622.8 1233.6 620.8 1232.1 620.0C1230.7 619.2 1229.5 619.0 1228.0 619.0C1226.6 619.0 1224.8 620.0 1223.3 620.0C1221.8 620.0 1220.2 619.9 1219.2 619.0C1218.2 618.2 1217.6 616.7 1217.3 614.9C1216.9 613.1 1216.9 610.6 1217.2 608.1C1217.4 605.6 1218.2 602.5 1218.5 600.0C1218.8 597.5 1219.2 595.3 1218.9 593.2C1218.5 591.0 1217.7 588.7 1216.5 587.0C1215.3 585.4 1213.4 584.1 1211.7 583.3C1210.0 582.5 1208.1 582.2 1206.3 582.4C1204.5 582.6 1202.2 583.3 1200.8 584.3C1199.5 585.3 1198.6 586.7 1198.1 588.4C1197.6 590.1 1197.8 592.5 1198.1 594.5C1198.4 596.6 1199.3 598.5 1200.1 600.6C1200.9 602.8 1202.4 605.5 1202.9 607.4C1203.4 609.4 1203.4 610.6 1203.2 612.2C1203.0 613.8 1202.4 615.4 1201.5 617.0C1200.7 618.6 1199.5 620.3 1198.1 621.7C1196.7 623.2 1194.9 624.9 1193.3 625.8C1191.7 626.8 1190.0 627.5 1188.6 627.5C1187.1 627.5 1185.6 626.9 1184.5 625.8C1183.4 624.7 1182.6 622.9 1181.8 621.1C1181.0 619.2 1180.4 616.6 1179.7 614.9C1179.0 613.2 1178.5 611.9 1177.7 610.8C1176.9 609.8 1175.9 608.9 1175.0 608.5C1174.0 608.0 1172.4 608.2 1171.9 608.1" fill="none" stroke="#3d5bdc" stroke-width="3.4" stroke-linecap="round" stroke-linejoin="round"/>
<path d="M1171.9 608.1C1172.4 607.7 1173.4 606.3 1175.0 605.4C1176.5 604.5 1179.0 603.4 1181.1 602.7C1183.1 602.0 1185.4 601.5 1187.2 601.3C1189.0 601.1 1190.7 601.2 1192.0 601.7C1193.2 602.1 1194.1 602.7 1194.7 604.0C1195.3 605.3 1195.2 607.4 1195.4 609.5C1195.5 611.5 1195.5 614.0 1195.7 616.3C1195.9 618.6 1196.2 621.1 1196.7 623.1C1197.2 625.1 1197.8 627.1 1198.8 628.5C1199.8 630.0 1201.6 631.1 1202.9 631.6C1204.1 632.1 1205.3 631.5 1206.3 631.3C1207.2 631.0 1208.3 630.1 1208.6 629.9" fill="none" stroke="#3d5bdc" stroke-width="3.4" stroke-linecap="round" stroke-linejoin="round"/>
<path d="M408.3 729.8C409.0 729.1 410.5 727.2 412.2 725.6C414.0 723.9 416.5 721.8 418.9 720.0C421.3 718.2 424.8 716.3 426.7 715.0C428.5 713.7 429.8 713.4 430.0 712.2C430.2 711.0 428.8 709.4 427.8 707.8C426.8 706.1 424.7 703.9 423.9 702.2C423.1 700.6 422.3 699.4 422.8 697.8C423.2 696.1 424.9 694.3 426.7 692.2C428.4 690.2 431.1 687.8 433.3 685.6C435.6 683.3 437.8 680.4 440.0 678.9C442.2 677.4 444.4 676.9 446.7 676.7C448.9 676.5 451.1 677.0 453.3 677.8C455.6 678.5 457.8 680.1 460.0 681.1C462.2 682.1 464.4 683.5 466.7 683.9C468.9 684.3 471.3 684.1 473.3 683.3C475.4 682.6 477.0 680.6 478.9 679.4C480.7 678.3 482.6 676.8 484.4 676.4C486.3 676.1 488.5 676.1 490.0 677.2C491.5 678.4 492.8 681.0 493.3 683.3C493.9 685.6 493.9 688.5 493.3 691.1C492.8 693.7 491.3 696.5 490.0 698.9C488.7 701.3 486.8 703.3 485.6 705.6C484.4 707.8 483.1 710.2 482.8 712.2C482.4 714.3 482.5 716.3 483.3 717.8C484.2 719.3 485.9 720.7 487.8 721.1C489.6 721.5 492.4 720.9 494.4 720.0C496.5 719.1 498.1 717.2 500.0 715.6C501.9 713.9 503.9 712.2 505.6 710.0C507.2 707.8 508.9 704.8 510.0 702.2C511.1 699.6 511.8 696.9 512.2 694.4C512.7 692.0 512.1 689.5 512.8 687.8C513.4 686.0 515.6 684.5 516.1 683.9" fill="none" stroke="#3d5bdc" stroke-width="3.3" stroke-linecap="round" stroke-linejoin="round"/>
<path d="M414.2 737.8C414.4 736.9 414.4 734.0 415.6 732.2C416.7 730.5 419.1 728.7 421.1 727.2C423.1 725.7 425.9 724.9 427.8 723.3C429.6 721.8 431.4 719.4 432.2 717.8C433.1 716.1 432.4 714.8 432.8 713.3C433.1 711.9 434.3 710.6 434.4 708.9C434.6 707.2 434.3 705.4 433.9 703.3C433.5 701.3 432.3 698.9 432.2 696.7C432.1 694.4 432.4 692.0 433.3 690.0C434.3 688.0 435.9 685.6 437.8 684.4C439.6 683.2 442.4 682.6 444.4 682.8C446.5 683.0 448.0 684.4 450.0 685.6C452.0 686.8 454.4 689.0 456.7 690.0C458.9 691.0 461.1 691.8 463.3 691.7C465.6 691.6 468.0 690.1 470.0 689.4C472.0 688.8 474.0 687.7 475.6 687.8C477.1 687.9 478.8 688.5 479.4 690.0C480.1 691.5 479.9 694.3 479.4 696.7C479.0 699.1 477.9 701.9 476.7 704.4C475.5 707.0 473.7 709.8 472.2 712.2C470.7 714.6 468.9 717.0 467.8 718.9C466.7 720.7 465.4 721.9 465.6 723.3C465.7 724.7 467.0 726.3 468.9 727.2C470.7 728.1 473.9 728.6 476.7 728.9C479.4 729.2 482.6 729.3 485.6 728.9C488.5 728.5 491.9 727.8 494.4 726.7C496.9 725.6 499.3 723.9 500.6 722.2C501.9 720.6 502.2 718.9 502.2 716.7C502.2 714.4 501.1 711.3 500.6 708.9C500.0 706.5 498.8 703.9 498.9 702.2C499.0 700.6 500.7 699.4 501.1 698.9" fill="none" stroke="#3d5bdc" stroke-width="3.3" stroke-linecap="round" stroke-linejoin="round"/>
<path d="M510.6 653.1C511.2 653.1 513.2 653.7 514.4 652.8C515.6 651.9 516.5 649.7 517.8 647.8C519.1 645.8 520.4 643.2 522.2 641.1C524.1 639.0 526.3 636.9 528.9 635.0C531.5 633.1 534.8 631.4 537.8 630.0C540.7 628.6 543.7 627.5 546.7 626.7C549.6 625.8 552.8 625.0 555.6 625.0C558.3 625.0 561.1 625.6 563.3 626.7C565.6 627.8 567.6 629.6 568.9 631.7C570.2 633.7 570.9 636.4 571.1 638.9C571.3 641.4 570.9 644.1 570.0 646.7C569.1 649.3 567.2 652.0 565.6 654.4C563.9 656.9 561.9 658.9 560.0 661.1C558.1 663.3 556.1 665.7 554.4 667.8C552.8 669.8 551.1 671.7 550.0 673.3C548.9 675.0 547.8 676.9 547.8 677.8C547.8 678.7 548.7 679.0 550.0 678.9C551.3 678.8 553.7 677.4 555.6 677.2C557.4 677.0 559.3 677.1 561.1 677.8C563.0 678.4 564.8 679.6 566.7 681.1C568.5 682.6 570.4 685.0 572.2 686.7C574.1 688.3 575.7 690.2 577.8 691.1C579.8 692.0 582.2 692.4 584.4 692.2C586.7 692.0 589.3 691.1 591.1 690.0C593.0 688.9 594.4 687.4 595.6 685.6C596.7 683.7 597.4 680.9 597.8 678.9C598.1 676.9 597.2 675.2 597.8 673.3C598.3 671.5 599.6 669.2 601.1 667.8C602.6 666.4 604.6 665.6 606.7 665.0C608.7 664.4 611.4 664.4 613.3 663.9C615.3 663.4 616.9 663.1 618.3 662.2C619.7 661.4 621.1 659.3 621.7 658.7" fill="none" stroke="#3d5bdc" stroke-width="3.3" stroke-linecap="round" stroke-linejoin="round"/>
<path d="M517.2 662.0C517.9 661.8 519.9 661.8 521.1 660.6C522.3 659.3 523.3 656.6 524.4 654.4C525.6 652.3 526.3 649.9 527.8 647.8C529.3 645.6 531.1 643.3 533.3 641.7C535.6 640.0 538.5 638.8 541.1 637.8C543.7 636.8 546.5 636.2 548.9 635.8C551.3 635.4 553.6 635.0 555.6 635.3C557.5 635.7 559.6 636.5 560.6 637.8C561.5 639.0 561.6 641.1 561.3 642.8C561.1 644.4 560.2 646.1 558.9 647.8C557.6 649.4 555.4 651.1 553.3 652.8C551.3 654.4 548.6 656.0 546.7 657.8C544.7 659.5 542.9 661.3 541.7 663.3C540.5 665.4 539.7 667.8 539.4 670.0C539.2 672.2 539.2 674.9 540.0 676.7C540.8 678.4 543.3 679.4 544.4 680.6C545.6 681.7 545.7 682.5 546.7 683.3C547.6 684.2 548.3 685.3 550.0 685.6C551.7 685.8 554.6 684.6 556.7 685.0C558.7 685.4 560.6 686.4 562.2 687.8C563.9 689.2 565.2 691.7 566.7 693.3C568.1 695.0 569.3 696.6 571.1 697.8C573.0 699.0 575.4 700.3 577.8 700.6C580.2 700.8 583.1 700.1 585.6 699.4C588.0 698.8 590.1 697.6 592.2 696.7C594.4 695.7 596.9 695.2 598.3 693.9C599.8 692.6 600.8 690.8 601.1 688.9C601.4 686.9 600.6 684.3 600.0 682.2C599.4 680.2 597.8 677.9 597.8 676.7C597.8 675.5 598.5 675.4 600.0 675.0C601.5 674.6 604.1 674.6 606.7 674.4C609.3 674.3 613.0 674.4 615.6 673.9C618.1 673.4 620.1 672.6 622.2 671.7C624.4 670.7 627.3 668.9 628.3 668.3" fill="none" stroke="#3d5bdc" stroke-width="3.3" stroke-linecap="round" stroke-linejoin="round"/>
<path d="M699.4 733.6C698.6 733.2 696.4 732.1 694.4 731.7C692.5 731.3 690.2 730.9 687.8 731.1C685.4 731.3 682.4 732.1 680.0 732.8C677.6 733.4 675.2 734.4 673.3 735.0C671.5 735.6 670.0 736.4 668.9 736.1C667.8 735.8 667.2 734.9 666.7 733.3C666.1 731.8 666.0 729.3 665.6 726.7C665.1 724.1 664.6 720.3 663.9 717.8C663.1 715.3 662.3 713.1 661.1 711.7C659.9 710.3 658.3 709.7 656.7 709.4C655.0 709.2 653.1 709.4 651.1 710.0C649.1 710.6 646.5 711.9 644.4 713.3C642.4 714.7 640.3 716.7 638.9 718.3C637.5 720.0 637.2 722.2 636.1 723.3C635.0 724.4 634.2 724.7 632.2 725.0C630.3 725.3 627.2 725.0 624.4 725.0C621.7 725.0 618.5 724.9 615.6 725.0C612.6 725.1 609.3 725.0 606.7 725.3C604.1 725.7 601.8 726.2 600.0 727.2C598.2 728.3 596.9 729.9 596.1 731.7C595.4 733.4 595.5 735.8 595.6 737.8C595.6 739.7 595.7 741.7 596.7 743.3C597.6 745.0 599.1 746.8 601.1 747.8C603.1 748.8 605.9 749.1 608.9 749.4C611.9 749.8 615.6 749.8 618.9 750.0C622.2 750.2 625.7 750.0 628.9 750.6C632.0 751.1 635.2 751.9 637.8 753.3C640.4 754.7 642.8 756.7 644.4 758.9C646.1 761.1 647.4 764.4 647.8 766.7C648.1 768.9 647.6 770.7 646.7 772.2C645.7 773.7 644.1 774.8 642.2 775.6C640.4 776.3 638.0 776.6 635.6 776.7C633.1 776.8 630.0 776.7 627.8 776.1C625.6 775.6 623.7 774.7 622.2 773.3C620.7 771.9 619.6 769.6 618.9 767.8C618.1 765.9 618.3 763.7 617.8 762.2C617.2 760.7 616.3 759.3 615.6 758.7C614.8 758.0 613.7 758.4 613.3 758.3" fill="none" stroke="#3d5bdc" stroke-width="3.3" stroke-linecap="round" stroke-linejoin="round"/>
<path d="M696.1 745.0C695.5 744.4 693.8 742.4 692.2 741.7C690.6 740.9 688.7 740.6 686.7 740.6C684.6 740.6 682.2 741.7 680.0 741.7C677.8 741.7 675.2 741.1 673.3 740.6C671.5 740.0 670.4 738.6 668.9 738.3C667.4 738.1 665.8 739.1 664.4 738.9C663.1 738.7 661.6 738.5 660.6 737.2C659.5 735.9 659.0 733.4 658.3 731.1C657.7 728.8 657.3 725.3 656.7 723.3C656.0 721.4 655.4 720.2 654.4 719.4C653.5 718.7 652.6 718.6 651.1 718.9C649.6 719.2 647.4 720.4 645.6 721.1C643.7 721.9 641.5 722.6 640.0 723.3C638.5 724.1 637.4 724.3 636.7 725.6C635.9 726.9 636.3 729.9 635.6 731.1C634.8 732.3 634.1 732.5 632.2 732.8C630.4 733.1 627.2 732.8 624.4 732.8C621.7 732.8 618.5 732.7 615.6 732.8C612.6 732.9 609.1 733.0 606.7 733.3C604.3 733.7 602.5 734.3 601.1 735.0C599.7 735.7 598.5 736.9 598.3 737.8C598.1 738.6 598.6 739.5 600.0 740.0C601.4 740.5 603.9 740.4 606.7 740.6C609.4 740.7 613.1 740.8 616.7 741.1C620.2 741.4 624.3 741.7 627.8 742.2C631.3 742.8 634.6 743.3 637.8 744.4C640.9 745.6 644.1 747.0 646.7 748.9C649.3 750.7 651.6 753.1 653.3 755.6C655.1 758.0 656.5 760.7 657.2 763.3C658.0 765.9 658.1 768.7 657.8 771.1C657.5 773.5 656.7 775.7 655.6 777.8C654.4 779.8 652.8 782.0 651.1 783.3C649.4 784.6 647.8 785.3 645.6 785.6C643.3 785.8 640.4 785.5 637.8 785.0C635.2 784.5 632.4 783.8 630.0 782.8C627.6 781.8 625.6 780.3 623.3 778.9C621.1 777.5 618.7 776.1 616.7 774.4C614.6 772.8 612.8 770.7 611.1 768.9C609.4 767.0 608.0 764.7 606.7 763.3C605.4 761.9 604.3 761.0 603.3 760.6C602.4 760.1 601.5 760.6 601.1 760.6" fill="none" stroke="#3d5bdc" stroke-width="3.3" stroke-linecap="round" stroke-linejoin="round"/>
<path d="M546.7 720.6C546.1 720.8 544.8 721.9 543.3 722.0C541.9 722.1 539.8 721.7 537.8 721.3C535.7 721.0 533.1 720.1 531.1 719.8C529.1 719.5 527.2 718.9 525.6 719.4C523.9 719.9 522.3 721.0 521.1 722.8C519.9 724.5 519.0 727.5 518.3 730.0C517.7 732.5 517.1 735.2 517.2 737.8C517.3 740.4 517.9 743.2 518.9 745.6C519.9 747.9 521.7 749.9 523.3 751.7C525.0 753.4 527.3 754.6 528.9 756.1C530.5 757.6 531.9 758.8 532.8 760.6C533.6 762.3 533.5 764.8 533.9 766.7C534.3 768.5 534.2 770.5 535.0 771.7C535.8 772.9 537.3 773.7 538.9 773.9C540.5 774.1 542.4 773.6 544.4 772.8C546.5 771.9 548.9 770.5 551.1 768.9C553.3 767.3 555.7 765.2 557.8 763.3C559.8 761.5 561.7 759.4 563.3 757.8C565.0 756.1 566.5 754.2 567.8 753.3C569.1 752.5 570.1 752.2 571.1 752.8C572.1 753.3 573.1 754.9 573.9 756.7C574.6 758.4 575.3 760.9 575.6 763.3C575.8 765.7 575.9 768.7 575.6 771.1C575.2 773.5 574.4 775.9 573.3 777.8C572.2 779.6 570.7 780.9 568.9 782.2C567.0 783.5 564.1 784.4 562.2 785.6C560.4 786.7 558.9 787.7 557.8 788.9C556.7 790.1 555.9 792.1 555.6 792.8" fill="none" stroke="#3d5bdc" stroke-width="3.3" stroke-linecap="round" stroke-linejoin="round"/>
<path d="M550.0 729.8C549.4 730.1 548.1 731.3 546.7 731.7C545.2 732.1 543.1 732.2 541.1 732.2C539.1 732.3 536.3 731.7 534.4 732.0C532.6 732.3 531.1 732.7 530.0 733.9C528.9 735.0 528.0 736.9 527.8 738.9C527.6 740.8 528.1 743.5 528.9 745.6C529.7 747.6 531.3 749.4 532.8 751.1C534.3 752.8 536.2 754.0 537.8 755.6C539.4 757.1 541.0 758.9 542.2 760.6C543.4 762.2 544.4 763.8 545.0 765.6C545.6 767.3 545.8 769.4 545.6 771.1C545.3 772.8 543.8 774.1 543.3 775.6C542.9 777.0 542.4 778.6 542.8 780.0C543.1 781.4 544.2 783.1 545.6 783.9C546.9 784.7 549.1 785.2 551.1 785.0C553.1 784.8 555.7 783.8 557.8 782.8C559.8 781.8 561.7 780.5 563.3 778.9C565.0 777.3 566.3 775.2 567.8 773.3C569.3 771.5 570.7 769.4 572.2 767.8C573.7 766.1 575.2 764.4 576.7 763.3C578.1 762.3 579.7 761.5 581.1 761.7C582.5 761.9 584.2 762.9 585.0 764.4C585.8 766.0 586.1 768.7 586.1 771.1C586.1 773.5 585.6 776.3 585.0 778.9C584.4 781.5 583.4 784.3 582.2 786.7C581.0 789.1 579.6 791.4 577.8 793.3C575.9 795.3 573.1 796.9 571.1 798.3C569.1 799.7 567.0 800.6 565.6 801.7C564.1 802.8 562.8 804.2 562.2 805.0C561.6 805.8 562.0 806.4 562.0 806.7" fill="none" stroke="#3d5bdc" stroke-width="3.3" stroke-linecap="round" stroke-linejoin="round"/>
<path d="M408.3 767.8C408.8 768.1 410.4 768.7 411.1 770.0C411.9 771.3 412.3 773.5 412.8 775.6C413.2 777.6 413.2 780.0 413.9 782.2C414.5 784.4 415.3 786.7 416.7 788.9C418.1 791.1 420.2 793.5 422.2 795.6C424.3 797.6 426.7 799.6 428.9 801.1C431.1 802.6 433.7 803.8 435.6 804.4C437.4 805.1 438.7 805.4 440.0 805.0C441.3 804.6 442.8 803.6 443.3 802.2C443.9 800.8 443.9 798.7 443.3 796.7C442.8 794.6 441.1 792.2 440.0 790.0C438.9 787.8 437.7 785.7 436.7 783.3C435.6 780.9 434.5 778.1 433.9 775.6C433.2 773.0 432.8 770.0 432.8 767.8C432.8 765.6 433.1 763.7 433.9 762.2C434.7 760.7 436.2 759.4 437.8 758.9C439.4 758.4 441.9 758.9 443.3 759.4C444.8 760.0 446.2 762.5 446.7 762.2C447.1 761.9 445.7 759.1 446.1 757.8C446.5 756.5 447.7 754.9 448.9 754.4C450.1 754.0 451.7 754.5 453.3 755.0C455.0 755.5 457.0 756.9 458.9 757.2C460.7 757.5 462.6 757.3 464.4 756.7C466.3 756.0 468.1 754.4 470.0 753.3C471.9 752.3 473.5 751.2 475.6 750.6C477.6 749.9 480.0 749.4 482.2 749.4C484.4 749.5 486.9 750.2 488.9 751.1C490.9 752.0 492.6 753.4 494.4 755.0C496.3 756.6 498.6 759.0 500.0 760.6C501.4 762.1 502.5 763.1 502.8 764.4C503.1 765.8 502.5 767.2 501.7 768.9C500.8 770.6 499.0 772.6 497.8 774.4C496.6 776.3 495.1 778.3 494.4 780.0C493.8 781.7 493.9 783.5 493.9 784.4C493.9 785.4 494.4 785.4 494.4 785.6" fill="none" stroke="#3d5bdc" stroke-width="3.3" stroke-linecap="round" stroke-linejoin="round"/>
<path d="M423.3 766.1C423.8 766.4 425.5 766.6 426.1 767.8C426.8 769.0 427.0 771.3 427.2 773.3C427.4 775.4 426.9 778.0 427.2 780.0C427.6 782.0 428.2 783.7 429.4 785.6C430.6 787.4 432.5 789.5 434.4 791.1C436.4 792.7 438.9 794.1 441.1 795.0C443.3 795.9 445.7 796.4 447.8 796.7C449.8 796.9 452.0 797.2 453.3 796.7C454.6 796.1 455.5 795.0 455.6 793.3C455.6 791.7 454.5 788.9 453.9 786.7C453.2 784.4 452.4 782.4 451.7 780.0C450.9 777.6 450.2 774.4 449.4 772.2C448.7 770.0 447.3 767.8 447.2 766.7C447.1 765.6 447.7 765.5 448.9 765.6C450.1 765.6 452.6 767.2 454.4 767.2C456.3 767.2 458.1 766.4 460.0 765.6C461.9 764.7 463.7 763.1 465.6 762.2C467.4 761.3 469.1 760.5 471.1 760.0C473.1 759.5 475.7 759.3 477.8 759.4C479.8 759.6 481.9 760.1 483.3 761.1C484.8 762.1 486.1 764.1 486.7 765.6C487.2 767.0 487.0 768.3 486.7 770.0C486.3 771.7 485.1 773.8 484.4 775.6C483.8 777.3 482.9 779.1 482.8 780.6C482.7 782.0 483.5 783.6 483.9 784.4C484.3 785.3 484.8 785.4 485.0 785.6" fill="none" stroke="#3d5bdc" stroke-width="3.3" stroke-linecap="round" stroke-linejoin="round"/>
</g>
<text x="338.14" y="951.80" font-size="27.64" font-weight="bold" textLength="138.72" lengthAdjust="spacingAndGlyphs" fill="#000" stroke="#000" stroke-width="0.35" stroke-linejoin="round">Absorbs at</text>
<text x="360.30" y="983.40" font-size="27.79" font-weight="bold" textLength="92.04" lengthAdjust="spacingAndGlyphs" fill="#000" stroke="#000" stroke-width="0.35" stroke-linejoin="round">528 nm</text>
<text x="157.56" y="1095.90" font-size="27.89" font-weight="bold" textLength="202.50" lengthAdjust="spacingAndGlyphs" fill="#000" stroke="#000" stroke-width="0.35" stroke-linejoin="round">Dye Color when</text>
<text x="157.57" y="1127.30" font-size="27.74" font-weight="bold" textLength="180.64" lengthAdjust="spacingAndGlyphs" fill="#000" stroke="#000" stroke-width="0.35" stroke-linejoin="round">Bound to PNA</text>
<text x="994.93" y="781.70" font-size="27.86" font-weight="bold" textLength="139.82" lengthAdjust="spacingAndGlyphs" fill="#000" stroke="#000" stroke-width="0.35" stroke-linejoin="round">Absorbs at</text>
<text x="1017.36" y="812.90" font-size="28.08" font-weight="bold" textLength="93.00" lengthAdjust="spacingAndGlyphs" fill="#000" stroke="#000" stroke-width="0.35" stroke-linejoin="round">648 nm</text>
<text x="1121.56" y="1085.60" font-size="27.79" font-weight="bold" textLength="201.78" lengthAdjust="spacingAndGlyphs" fill="#000" stroke="#000" stroke-width="0.35" stroke-linejoin="round">Dye Color when</text>
<text x="1121.56" y="1116.80" font-size="27.79" font-weight="bold" textLength="201.76" lengthAdjust="spacingAndGlyphs" fill="#000" stroke="#000" stroke-width="0.35" stroke-linejoin="round">Free in Solution</text>
<text x="466.09" y="834.70" font-size="33.51" font-weight="bold" textLength="171.82" lengthAdjust="spacingAndGlyphs" fill="#000" stroke="#000" stroke-width="0.35" stroke-linejoin="round">Assembled</text>
<text x="483.32" y="872.40" font-size="33.29" font-weight="bold" textLength="119.71" lengthAdjust="spacingAndGlyphs" fill="#000" stroke="#000" stroke-width="0.35" stroke-linejoin="round">PNA 1.4</text>
<text x="1092.57" y="671.50" font-size="33.47" font-weight="bold" textLength="209.10" lengthAdjust="spacingAndGlyphs" fill="#000" stroke="#000" stroke-width="0.35" stroke-linejoin="round">Unassembled</text>
<text x="1129.14" y="709.00" font-size="32.98" font-weight="bold" textLength="118.59" lengthAdjust="spacingAndGlyphs" fill="#000" stroke="#000" stroke-width="0.35" stroke-linejoin="round">PNA 1.4</text>
<text x="64.97" y="1329.60" font-size="22.38" font-weight="bold" textLength="30.80" lengthAdjust="spacingAndGlyphs" fill="#000" stroke="#000" stroke-width="0.35" stroke-linejoin="round">R=</text>
<line x1="146.50" y1="1286.10" x2="145.33" y2="1266.53" stroke="#1f72e2" stroke-width="2.35" stroke-linecap="round"/>
<line x1="146.50" y1="1286.10" x2="131.93" y2="1297.45" stroke="#1f72e2" stroke-width="2.35" stroke-linecap="round"/>
<line x1="146.33" y1="1292.19" x2="135.22" y2="1300.85" stroke="#1f72e2" stroke-width="2.35" stroke-linecap="round"/>
<line x1="126.21" y1="1308.03" x2="126.50" y2="1324.80" stroke="#1f72e2" stroke-width="2.35" stroke-linecap="round"/>
<line x1="126.50" y1="1324.80" x2="147.67" y2="1333.03" stroke="#1f72e2" stroke-width="2.35" stroke-linecap="round"/>
<line x1="132.25" y1="1321.99" x2="148.90" y2="1328.47" stroke="#1f72e2" stroke-width="2.35" stroke-linecap="round"/>
<line x1="159.33" y1="1331.23" x2="173.00" y2="1321.70" stroke="#1f72e2" stroke-width="2.35" stroke-linecap="round"/>
<line x1="173.00" y1="1321.70" x2="170.90" y2="1296.10" stroke="#1f72e2" stroke-width="2.35" stroke-linecap="round"/>
<line x1="168.00" y1="1318.24" x2="166.53" y2="1300.32" stroke="#1f72e2" stroke-width="2.35" stroke-linecap="round"/>
<line x1="170.90" y1="1296.10" x2="146.50" y2="1286.10" stroke="#1f72e2" stroke-width="2.35" stroke-linecap="round"/>
<line x1="170.90" y1="1296.10" x2="187.17" y2="1289.70" stroke="#1f72e2" stroke-width="2.35" stroke-linecap="round"/>
<line x1="198.83" y1="1292.53" x2="211.30" y2="1303.50" stroke="#1f72e2" stroke-width="2.35" stroke-linecap="round"/>
<line x1="196.10" y1="1296.39" x2="205.45" y2="1304.61" stroke="#1f72e2" stroke-width="2.35" stroke-linecap="round"/>
<line x1="211.30" y1="1303.50" x2="201.31" y2="1317.47" stroke="#1f72e2" stroke-width="2.35" stroke-linecap="round"/>
<line x1="191.17" y1="1323.06" x2="173.00" y2="1321.70" stroke="#1f72e2" stroke-width="2.35" stroke-linecap="round"/>
<line x1="200.80" y1="1329.53" x2="209.60" y2="1343.50" stroke="#1f72e2" stroke-width="2.35" stroke-linecap="round"/>
<path d="M197.80 1353.00 L198.92 1353.36 L199.88 1353.43 L200.55 1353.03 L200.95 1352.16 L201.18 1351.00 L201.40 1349.84 L201.80 1348.97 L202.47 1348.57 L203.43 1348.64 L204.55 1349.00 L205.67 1349.36 L206.63 1349.43 L207.30 1349.03 L207.70 1348.16 L207.93 1347.00 L208.15 1345.84 L208.55 1344.97 L209.22 1344.57 L210.18 1344.64 L211.30 1345.00 L212.42 1345.36 L213.38 1345.43 L214.05 1345.03 L214.45 1344.16 L214.68 1343.00 L214.90 1341.84 L215.30 1340.97 L215.97 1340.57 L216.93 1340.64 L218.05 1341.00 L219.17 1341.36 L220.13 1341.43 L220.80 1341.03 L221.20 1340.16 L221.43 1339.00 L221.65 1337.84 L222.05 1336.97 L222.72 1336.57 L223.68 1336.64 L224.80 1337.00" fill="none" stroke="#1f72e2" stroke-width="2.35" stroke-linecap="round" stroke-linejoin="round"/>
<text x="137.83" y="1265.73" font-size="14.60" font-weight="bold" fill="#1f72e2" stroke="#1f72e2" stroke-width="0.60" textLength="25.95" lengthAdjust="spacingAndGlyphs">NH<tspan font-size="10.95">2</tspan></text>
<text x="121.07" y="1307.23" font-size="14.60" font-weight="bold" fill="#1f72e2" stroke="#1f72e2" stroke-width="0.60" textLength="10.07" lengthAdjust="spacingAndGlyphs">N</text>
<text x="148.47" y="1340.53" font-size="14.60" font-weight="bold" fill="#1f72e2" stroke="#1f72e2" stroke-width="0.60" textLength="10.07" lengthAdjust="spacingAndGlyphs">N</text>
<text x="187.97" y="1292.63" font-size="14.60" font-weight="bold" fill="#1f72e2" stroke="#1f72e2" stroke-width="0.60" textLength="10.07" lengthAdjust="spacingAndGlyphs">N</text>
<text x="191.97" y="1328.73" font-size="14.60" font-weight="bold" fill="#1f72e2" stroke="#1f72e2" stroke-width="0.60" textLength="10.07" lengthAdjust="spacingAndGlyphs">N</text>
<line x1="289.58" y1="1275.27" x2="289.10" y2="1261.80" stroke="#129c68" stroke-width="2.35" stroke-linecap="round"/>
<line x1="283.97" y1="1285.36" x2="269.10" y2="1295.70" stroke="#129c68" stroke-width="2.35" stroke-linecap="round"/>
<line x1="268.18" y1="1297.86" x2="250.95" y2="1290.52" stroke="#129c68" stroke-width="2.35" stroke-linecap="round"/>
<line x1="270.02" y1="1293.54" x2="252.80" y2="1286.19" stroke="#129c68" stroke-width="2.35" stroke-linecap="round"/>
<line x1="295.63" y1="1283.98" x2="313.50" y2="1292.20" stroke="#129c68" stroke-width="2.35" stroke-linecap="round"/>
<line x1="312.32" y1="1290.17" x2="326.50" y2="1281.97" stroke="#129c68" stroke-width="2.35" stroke-linecap="round"/>
<line x1="314.68" y1="1294.23" x2="328.85" y2="1286.03" stroke="#129c68" stroke-width="2.35" stroke-linecap="round"/>
<line x1="313.50" y1="1292.20" x2="313.81" y2="1312.67" stroke="#129c68" stroke-width="2.35" stroke-linecap="round"/>
<line x1="308.07" y1="1322.49" x2="293.90" y2="1331.70" stroke="#129c68" stroke-width="2.35" stroke-linecap="round"/>
<line x1="293.90" y1="1331.70" x2="270.00" y2="1321.30" stroke="#129c68" stroke-width="2.35" stroke-linecap="round"/>
<line x1="292.19" y1="1325.83" x2="275.46" y2="1318.55" stroke="#129c68" stroke-width="2.35" stroke-linecap="round"/>
<line x1="270.00" y1="1321.30" x2="269.10" y2="1295.70" stroke="#129c68" stroke-width="2.35" stroke-linecap="round"/>
<line x1="270.00" y1="1321.30" x2="255.20" y2="1330.40" stroke="#129c68" stroke-width="2.35" stroke-linecap="round"/>
<line x1="318.05" y1="1324.73" x2="327.40" y2="1338.30" stroke="#129c68" stroke-width="2.35" stroke-linecap="round"/>
<path d="M315.65 1348.30 L316.78 1348.65 L317.73 1348.72 L318.40 1348.32 L318.80 1347.45 L319.02 1346.29 L319.24 1345.13 L319.63 1344.26 L320.31 1343.86 L321.26 1343.92 L322.39 1344.28 L323.51 1344.63 L324.47 1344.69 L325.14 1344.29 L325.53 1343.42 L325.76 1342.26 L325.98 1341.10 L326.37 1340.23 L327.05 1339.83 L328.00 1339.90 L329.12 1340.25 L330.25 1340.60 L331.20 1340.67 L331.88 1340.27 L332.27 1339.40 L332.49 1338.24 L332.72 1337.08 L333.11 1336.21 L333.78 1335.81 L334.74 1335.87 L335.86 1336.22 L336.99 1336.58 L337.94 1336.64 L338.62 1336.24 L339.01 1335.37 L339.23 1334.21 L339.45 1333.05 L339.85 1332.18 L340.52 1331.78 L341.47 1331.85 L342.60 1332.20" fill="none" stroke="#129c68" stroke-width="2.35" stroke-linecap="round" stroke-linejoin="round"/>
<text x="277.57" y="1259.53" font-size="14.60" font-weight="bold" fill="#129c68" stroke="#129c68" stroke-width="0.60" textLength="10.07" lengthAdjust="spacingAndGlyphs">H</text>
<text x="284.77" y="1286.53" font-size="14.60" font-weight="bold" fill="#129c68" stroke="#129c68" stroke-width="0.60" textLength="10.07" lengthAdjust="spacingAndGlyphs">N</text>
<text x="240.23" y="1290.93" font-size="14.60" font-weight="bold" fill="#129c68" stroke="#129c68" stroke-width="0.60" textLength="10.85" lengthAdjust="spacingAndGlyphs">O</text>
<text x="328.48" y="1285.63" font-size="14.60" font-weight="bold" fill="#129c68" stroke="#129c68" stroke-width="0.60" textLength="10.85" lengthAdjust="spacingAndGlyphs">O</text>
<text x="308.87" y="1323.93" font-size="14.60" font-weight="bold" fill="#129c68" stroke="#129c68" stroke-width="0.60" textLength="10.07" lengthAdjust="spacingAndGlyphs">N</text>
<line x1="419.18" y1="1280.50" x2="416.08" y2="1262.60" stroke="#f45cf0" stroke-width="2.35" stroke-linecap="round"/>
<line x1="423.82" y1="1279.70" x2="420.72" y2="1261.80" stroke="#f45cf0" stroke-width="2.35" stroke-linecap="round"/>
<line x1="421.50" y1="1280.10" x2="405.57" y2="1289.14" stroke="#f45cf0" stroke-width="2.35" stroke-linecap="round"/>
<line x1="420.14" y1="1286.27" x2="408.32" y2="1292.98" stroke="#f45cf0" stroke-width="2.35" stroke-linecap="round"/>
<line x1="398.16" y1="1300.23" x2="401.70" y2="1319.20" stroke="#f45cf0" stroke-width="2.35" stroke-linecap="round"/>
<line x1="401.70" y1="1319.20" x2="386.08" y2="1331.37" stroke="#f45cf0" stroke-width="2.35" stroke-linecap="round"/>
<line x1="401.70" y1="1319.20" x2="422.37" y2="1326.45" stroke="#f45cf0" stroke-width="2.35" stroke-linecap="round"/>
<line x1="407.23" y1="1316.16" x2="423.45" y2="1321.85" stroke="#f45cf0" stroke-width="2.35" stroke-linecap="round"/>
<line x1="434.03" y1="1324.38" x2="448.00" y2="1314.50" stroke="#f45cf0" stroke-width="2.35" stroke-linecap="round"/>
<line x1="448.00" y1="1314.50" x2="445.40" y2="1289.00" stroke="#f45cf0" stroke-width="2.35" stroke-linecap="round"/>
<line x1="442.93" y1="1311.15" x2="441.11" y2="1293.30" stroke="#f45cf0" stroke-width="2.35" stroke-linecap="round"/>
<line x1="445.40" y1="1289.00" x2="421.50" y2="1280.10" stroke="#f45cf0" stroke-width="2.35" stroke-linecap="round"/>
<line x1="445.40" y1="1289.00" x2="461.97" y2="1282.79" stroke="#f45cf0" stroke-width="2.35" stroke-linecap="round"/>
<line x1="473.63" y1="1285.63" x2="486.60" y2="1296.80" stroke="#f45cf0" stroke-width="2.35" stroke-linecap="round"/>
<line x1="470.94" y1="1289.51" x2="480.71" y2="1297.93" stroke="#f45cf0" stroke-width="2.35" stroke-linecap="round"/>
<line x1="486.60" y1="1296.80" x2="476.79" y2="1310.57" stroke="#f45cf0" stroke-width="2.35" stroke-linecap="round"/>
<line x1="466.67" y1="1316.10" x2="448.00" y2="1314.50" stroke="#f45cf0" stroke-width="2.35" stroke-linecap="round"/>
<line x1="476.21" y1="1322.63" x2="485.00" y2="1336.90" stroke="#f45cf0" stroke-width="2.35" stroke-linecap="round"/>
<path d="M472.50 1346.25 L473.63 1346.58 L474.59 1346.63 L475.25 1346.21 L475.63 1345.33 L475.82 1344.17 L476.02 1343.01 L476.40 1342.13 L477.06 1341.71 L478.02 1341.76 L479.15 1342.09 L480.28 1342.42 L481.24 1342.46 L481.90 1342.05 L482.28 1341.17 L482.48 1340.01 L482.67 1338.84 L483.05 1337.96 L483.71 1337.55 L484.67 1337.59 L485.80 1337.92 L486.93 1338.26 L487.89 1338.30 L488.55 1337.89 L488.93 1337.01 L489.12 1335.84 L489.32 1334.68 L489.70 1333.80 L490.36 1333.39 L491.32 1333.43 L492.45 1333.76 L493.58 1334.09 L494.54 1334.14 L495.20 1333.72 L495.58 1332.84 L495.78 1331.68 L495.97 1330.52 L496.35 1329.64 L497.01 1329.22 L497.97 1329.27 L499.10 1329.60" fill="none" stroke="#f45cf0" stroke-width="2.35" stroke-linecap="round" stroke-linejoin="round"/>
<text x="401.68" y="1260.33" font-size="14.60" font-weight="bold" fill="#f45cf0" stroke="#f45cf0" stroke-width="0.60" textLength="10.85" lengthAdjust="spacingAndGlyphs">O</text>
<text x="384.63" y="1299.43" font-size="14.60" font-weight="bold" fill="#f45cf0" stroke="#f45cf0" stroke-width="0.60" textLength="20.13" lengthAdjust="spacingAndGlyphs">NH</text>
<text x="362.63" y="1342.63" font-size="14.60" font-weight="bold" fill="#f45cf0" stroke="#f45cf0" stroke-width="0.60" textLength="25.95" lengthAdjust="spacingAndGlyphs">NH<tspan font-size="10.95">2</tspan></text>
<text x="423.17" y="1333.73" font-size="14.60" font-weight="bold" fill="#f45cf0" stroke="#f45cf0" stroke-width="0.60" textLength="10.07" lengthAdjust="spacingAndGlyphs">N</text>
<text x="462.77" y="1285.83" font-size="14.60" font-weight="bold" fill="#f45cf0" stroke="#f45cf0" stroke-width="0.60" textLength="10.07" lengthAdjust="spacingAndGlyphs">N</text>
<text x="467.47" y="1321.83" font-size="14.60" font-weight="bold" fill="#f45cf0" stroke="#f45cf0" stroke-width="0.60" textLength="10.07" lengthAdjust="spacingAndGlyphs">N</text>
<line x1="547.10" y1="1296.25" x2="528.07" y2="1287.96" stroke="#fb4a3f" stroke-width="2.35" stroke-linecap="round"/>
<line x1="547.10" y1="1296.25" x2="562.07" y2="1286.14" stroke="#fb4a3f" stroke-width="2.35" stroke-linecap="round"/>
<line x1="552.85" y1="1298.04" x2="564.28" y2="1290.31" stroke="#fb4a3f" stroke-width="2.35" stroke-linecap="round"/>
<line x1="573.73" y1="1284.91" x2="591.40" y2="1293.10" stroke="#fb4a3f" stroke-width="2.35" stroke-linecap="round"/>
<line x1="590.14" y1="1291.11" x2="606.02" y2="1281.06" stroke="#fb4a3f" stroke-width="2.35" stroke-linecap="round"/>
<line x1="592.66" y1="1295.09" x2="608.53" y2="1285.03" stroke="#fb4a3f" stroke-width="2.35" stroke-linecap="round"/>
<line x1="591.40" y1="1293.10" x2="592.93" y2="1312.57" stroke="#fb4a3f" stroke-width="2.35" stroke-linecap="round"/>
<line x1="587.57" y1="1322.65" x2="573.10" y2="1332.70" stroke="#fb4a3f" stroke-width="2.35" stroke-linecap="round"/>
<line x1="573.10" y1="1332.70" x2="548.10" y2="1322.30" stroke="#fb4a3f" stroke-width="2.35" stroke-linecap="round"/>
<line x1="571.16" y1="1326.80" x2="553.66" y2="1319.52" stroke="#fb4a3f" stroke-width="2.35" stroke-linecap="round"/>
<line x1="548.10" y1="1322.30" x2="547.10" y2="1296.25" stroke="#fb4a3f" stroke-width="2.35" stroke-linecap="round"/>
<line x1="597.01" y1="1324.63" x2="606.50" y2="1340.50" stroke="#fb4a3f" stroke-width="2.35" stroke-linecap="round"/>
<path d="M594.50 1349.40 L595.64 1349.73 L596.60 1349.78 L597.28 1349.36 L597.67 1348.48 L597.89 1347.31 L598.10 1346.14 L598.49 1345.26 L599.17 1344.85 L600.13 1344.89 L601.27 1345.23 L602.42 1345.56 L603.38 1345.60 L604.06 1345.19 L604.45 1344.31 L604.66 1343.14 L604.88 1341.97 L605.27 1341.09 L605.95 1340.67 L606.91 1340.72 L608.05 1341.05 L609.19 1341.38 L610.15 1341.43 L610.83 1341.01 L611.22 1340.13 L611.44 1338.96 L611.65 1337.79 L612.04 1336.91 L612.72 1336.50 L613.68 1336.54 L614.83 1336.88 L615.97 1337.21 L616.93 1337.25 L617.61 1336.84 L618.00 1335.96 L618.21 1334.79 L618.43 1333.62 L618.82 1332.74 L619.50 1332.32 L620.46 1332.37 L621.60 1332.70" fill="none" stroke="#fb4a3f" stroke-width="2.35" stroke-linecap="round" stroke-linejoin="round"/>
<text x="501.33" y="1288.98" font-size="14.60" font-weight="bold" fill="#fb4a3f" stroke="#fb4a3f" stroke-width="0.60" textLength="25.95" lengthAdjust="spacingAndGlyphs">NH<tspan font-size="10.95">2</tspan></text>
<text x="562.87" y="1287.43" font-size="14.60" font-weight="bold" fill="#fb4a3f" stroke="#fb4a3f" stroke-width="0.60" textLength="10.07" lengthAdjust="spacingAndGlyphs">N</text>
<text x="608.08" y="1284.33" font-size="14.60" font-weight="bold" fill="#fb4a3f" stroke="#fb4a3f" stroke-width="0.60" textLength="10.85" lengthAdjust="spacingAndGlyphs">O</text>
<text x="588.37" y="1323.83" font-size="14.60" font-weight="bold" fill="#fb4a3f" stroke="#fb4a3f" stroke-width="0.60" textLength="10.07" lengthAdjust="spacingAndGlyphs">N</text>
<text x="151.51" y="1366.20" font-size="22.97" font-weight="bold" textLength="17.03" lengthAdjust="spacingAndGlyphs" fill="#000" stroke="#000" stroke-width="0.3">A</text>
<text x="271.52" y="1367.60" font-size="23.11" font-weight="bold" textLength="13.82" lengthAdjust="spacingAndGlyphs" fill="#000" stroke="#000" stroke-width="0.3">T</text>
<text x="404.26" y="1364.30" font-size="22.97" font-weight="bold" textLength="18.21" lengthAdjust="spacingAndGlyphs" fill="#000" stroke="#000" stroke-width="0.3">G</text>
<text x="556.58" y="1364.30" font-size="22.97" font-weight="bold" textLength="16.65" lengthAdjust="spacingAndGlyphs" fill="#000" stroke="#000" stroke-width="0.3">C</text>
</svg>
</body></html>
